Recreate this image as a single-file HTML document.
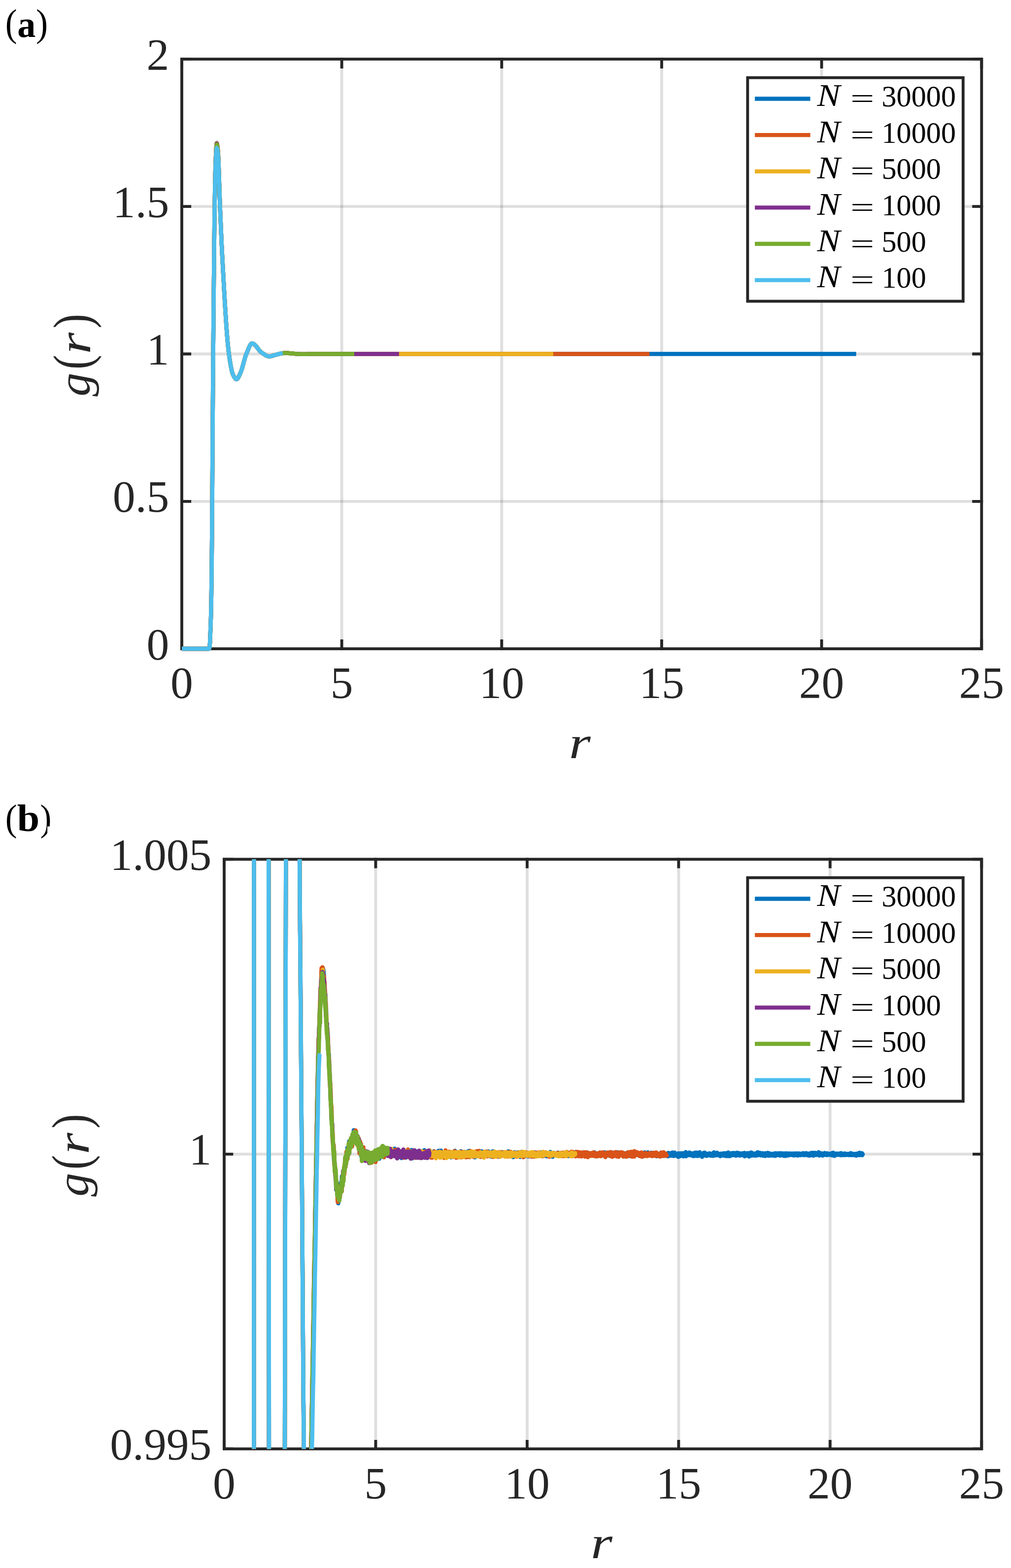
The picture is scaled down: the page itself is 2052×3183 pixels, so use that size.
<!DOCTYPE html>
<html lang="en"><head><meta charset="utf-8"><title>g(r) finite-size comparison</title>
<style>html,body{margin:0;padding:0;background:#fff}svg{display:block}text{font-family:"Liberation Serif",serif;fill:#262626}.i{font-style:italic}.b{font-weight:bold}.k,.k tspan{fill:#000}</style></head><body>
<svg width="2052" height="3183" viewBox="0 0 2052 3183">
<rect width="2052" height="3183" fill="#fff"/>
<g stroke="#262626" stroke-opacity="0.15" stroke-width="5.83" fill="none"><path d="M693.7,120V1317M1018.3,120V1317M1343,120V1317M1667.6,120V1317"/><path d="M369,1017.8H1992.3M369,718.5H1992.3M369,419.2H1992.3"/></g>
<g stroke="#262626" stroke-width="5.83" fill="none" stroke-linecap="square"><path d="M369,1317v-16.2M369,120v16.2M693.7,1317v-16.2M693.7,120v16.2M1018.3,1317v-16.2M1018.3,120v16.2M1343,1317v-16.2M1343,120v16.2M1667.6,1317v-16.2M1667.6,120v16.2M1992.3,1317v-16.2M1992.3,120v16.2M369,1317h16.2M1992.3,1317h-16.2M369,1017.8h16.2M1992.3,1017.8h-16.2M369,718.5h16.2M1992.3,718.5h-16.2M369,419.2h16.2M1992.3,419.2h-16.2M369,120h16.2M1992.3,120h-16.2"/><rect x="369" y="120" width="1623.3" height="1197"/></g>
<path d="M369,1317 369.65,1317 370.3,1317 370.95,1317 371.6,1317 372.25,1317 372.9,1317 373.55,1317 374.19,1317 374.84,1317 375.49,1317 376.14,1317 376.79,1317 377.44,1317 378.09,1317 378.74,1317 379.39,1317 380.04,1317 380.69,1317 381.34,1317 381.99,1317 382.64,1317 383.29,1317 383.93,1317 384.58,1317 385.23,1317 385.88,1317 386.53,1317 387.18,1317 387.83,1317 388.48,1317 389.13,1317 389.78,1317 390.43,1317 391.08,1317 391.73,1317 392.38,1317 393.02,1317 393.67,1317 394.32,1317 394.97,1317 395.62,1317 396.27,1317 396.92,1317 397.57,1317 398.22,1317 398.87,1317 399.52,1317 400.17,1317 400.82,1317 401.47,1317 402.12,1317 402.76,1317 403.41,1317 404.06,1317 404.71,1317 405.36,1317 406.01,1317 406.66,1317 407.31,1317 407.96,1317 408.61,1317 409.26,1317 409.91,1317 410.56,1317 411.21,1317 411.86,1317 412.5,1317 413.15,1317 413.8,1317 414.45,1317 415.1,1317 415.75,1317 416.4,1317 417.05,1317 417.7,1317 418.35,1317 419,1317 419.65,1317 420.3,1317 420.95,1317 421.59,1317 422.24,1317 422.89,1317 423.54,1317 424.19,1317 424.84,1316.03 425.49,1312.52 426.14,1304.45 426.79,1289.01 427.44,1270.59 428.09,1252.29 428.74,1222.75 429.39,1177.33 430.04,1109.36 430.69,1019.13 431.33,917.8 431.98,816.52 432.63,726.46 433.28,650 433.93,578.82 434.58,512.76 435.23,449.13 435.88,403.62 436.53,368.64 437.18,340.8 437.83,321.69 438.48,307.93 439.13,296.7 439.78,290.53 440,290.03 440.43,290.78 441.07,294.38 441.72,300.04 442.37,306.73 443.02,316.76 443.67,331.99 444.32,350.71 444.97,371.23 445.62,391.86 446.27,410.87 446.92,427.14 447.57,442.83 448.22,458.26 448.87,473.29 449.52,487.75 450.17,501.49 450.81,514.34 451.46,526.36 452.11,538.27 452.76,550.15 453.41,561.94 454.06,573.63 454.71,585.16 455.36,596.52 456.01,607.66 456.66,618.55 457.31,629.16 457.96,639.45 458.61,649.38 459.26,658.93 459.9,668.06 460.55,676.74 461.2,684.92 461.85,692.58 462.5,699.68 463.15,706.2 463.8,712.08 464.45,717.3 465.1,721.99 465.75,726.5 466.4,730.84 467.05,734.98 467.7,738.91 468.35,742.6 469,746.05 469.64,749.22 470.29,752.11 470.94,754.69 471.59,756.94 472.24,758.85 472.89,760.39 473.54,761.74 474.19,763.05 474.84,764.3 475.49,765.47 476.14,766.55 476.79,767.52 477.44,768.35 478.09,769.03 478.74,769.54 479.38,769.86 480.03,769.97 480.68,769.83 481.33,769.42 481.98,768.77 482.63,767.92 483.28,766.89 483.93,765.72 484.58,764.44 485.23,763.08 485.88,761.66 486.53,760.22 487.18,758.79 487.83,757.4 488.47,755.94 489.12,754.3 489.77,752.48 490.42,750.52 491.07,748.44 491.72,746.25 492.37,743.98 493.02,741.65 493.67,739.29 494.32,736.9 494.97,734.52 495.62,732.17 496.27,729.86 496.92,727.62 497.57,725.47 498.21,723.43 498.86,721.53 499.51,719.78 500.16,718.19 500.81,716.63 501.46,715.03 502.11,713.39 502.76,711.75 503.41,710.11 504.06,708.49 504.71,706.91 505.36,705.39 506.01,703.95 506.66,702.59 507.31,701.34 507.95,700.22 508.6,699.24 509.25,698.41 509.9,697.76 510.55,697.3 511.2,697.06 511.85,697.02 512.5,697.1 513.15,697.28 513.8,697.53 514.45,697.86 515.1,698.26 515.75,698.73 516.4,699.26 517.04,699.84 517.69,700.48 518.34,701.16 518.99,701.88 519.64,702.63 520.29,703.42 520.94,704.22 521.59,705.05 522.24,705.89 522.89,706.73 523.54,707.58 524.19,708.42 524.84,709.26 525.49,710.08 526.14,710.88 526.78,711.66 527.43,712.41 528.08,713.12 528.73,713.79 529.38,714.42 530.03,714.99 530.68,715.51 531.33,715.98 531.98,716.42 532.63,716.84 533.28,717.25 533.93,717.66 534.58,718.06 535.23,718.48 535.88,718.92 536.52,719.39 537.17,719.86 537.82,720.32 538.47,720.75 539.12,721.14 539.77,721.46 540.42,721.74 541.07,722.02 541.72,722.3 542.37,722.56 543.02,722.81 543.67,723.03 544.32,723.22 544.97,723.37 545.62,723.47 546.26,723.52 546.91,723.52 547.56,723.48 548.21,723.4 548.86,723.29 549.51,723.15 550.16,723 550.81,722.82 551.46,722.63 552.11,722.44 552.76,722.24 553.41,722.04 554.06,721.85 554.71,721.66 555.35,721.49 556,721.33 556.65,721.16 557.3,720.99 557.95,720.81 558.6,720.64 559.25,720.46 559.9,720.28 560.55,720.09 561.2,719.91 561.85,719.73 562.5,719.55 563.15,719.37 563.8,719.19 564.45,719.01 565.09,718.84 565.74,718.67 566.39,718.5 567.04,718.33 567.69,718.15 568.34,717.98 568.99,717.81 569.64,717.66 570.29,717.53 570.94,717.44 571.59,717.34 572.24,717.25 572.89,717.16 573.54,717.07 574.19,716.99 574.83,716.92 575.48,716.85 576.13,716.78 576.78,716.73 577.43,716.68 578.08,716.65 578.73,716.62 579.38,716.61 580.03,716.61 580.68,716.62 581.33,716.64 581.98,716.67 582.63,716.7 583.28,716.74 583.92,716.78 584.57,716.82 585.22,716.86 585.87,716.91 586.52,716.95 587.17,716.99 587.82,717.04 588.47,717.1 589.12,717.15 589.77,717.21 590.42,717.27 591.07,717.32 591.72,717.38 592.37,717.44 593.02,717.5 593.66,717.56 594.31,717.62 594.96,717.69 595.61,717.75 596.26,717.82 596.91,717.88 597.56,717.95 598.21,718.02 598.86,718.08 599.51,718.14 600.16,718.2 600.81,718.26 601.46,718.32 602.11,718.37 602.76,718.42 603.4,718.46 604.05,718.5 604.7,718.54 605.35,718.58 606,718.62 606.65,718.65 607.3,718.69 607.95,718.73 608.6,718.76 609.25,718.8 609.9,718.83 610.55,718.85 611.2,718.87 611.85,718.89 612.5,718.91 613.14,718.92 613.79,718.92 614.44,718.92 615.09,718.91 615.74,718.91 616.39,718.9 617.04,718.89 617.69,718.88 618.34,718.87 618.99,718.86 619.64,718.84 620.29,718.83 620.94,718.81 621.59,718.8 622.23,718.78 622.88,718.76 623.53,718.74 624.18,718.72 624.83,718.7 625.48,718.68 626.13,718.66 626.78,718.64 627.43,718.63 628.08,718.61 628.73,718.59 629.38,718.57 630.03,718.56 630.68,718.54 631.33,718.53 631.97,718.52 632.62,718.51 633.27,718.5 633.92,718.49 634.57,718.48 635.22,718.46 635.87,718.45 636.52,718.44 637.17,718.43 637.82,718.42 638.47,718.41 639.12,718.4 639.77,718.4 640.42,718.39 641.07,718.38 641.71,718.37 642.36,718.36 643.01,718.35 643.66,718.35 644.31,718.34 644.96,718.34 645.61,718.33 646.26,718.33 646.91,718.33 647.56,718.33 648.21,718.33 648.86,718.33 649.51,718.33 650.16,718.33 650.8,718.34 651.45,718.34 652.1,718.34 652.75,718.35 653.4,718.36 654.05,718.36 654.7,718.37 655.35,718.38 656,718.38 656.65,718.39 657.3,718.4 657.95,718.41 658.6,718.42 659.25,718.43 659.9,718.43 660.54,718.44 661.19,718.45 661.84,718.46 662.49,718.46 663.14,718.47 663.79,718.48 664.44,718.48 665.09,718.49 665.74,718.49 666.39,718.5 667.04,718.5 667.69,718.5 668.34,718.51 668.99,718.51 669.64,718.51 670.28,718.51 670.93,718.51 671.58,718.52 672.23,718.52 672.88,718.52 673.53,718.52 674.18,718.53 674.83,718.53 675.48,718.53 676.13,718.53 676.78,718.53 677.43,718.53 678.08,718.53 678.73,718.54 679.37,718.54 680.02,718.54 680.67,718.54 681.32,718.54 681.97,718.54 682.62,718.54 683.27,718.54 683.92,718.54 684.57,718.54 685.22,718.54 685.87,718.54 686.52,718.53 687.17,718.53 687.82,718.53 688.47,718.53 689.11,718.53 689.76,718.53 690.41,718.52 691.06,718.52 691.71,718.52 692.36,718.52 693.01,718.52 693.66,718.51 694.31,718.51 694.96,718.51 695.61,718.51 696.26,718.51 696.91,718.5 697.56,718.5 698.21,718.5 698.85,718.5 699.5,718.5 700.15,718.5 700.8,718.5 701.45,718.49 702.1,718.49 702.75,718.49 703.4,718.49 704.05,718.49 704.7,718.48 705.35,718.48 706,718.48 706.65,718.48 707.3,718.48 707.95,718.48 708.59,718.48 709.24,718.48 709.89,718.47 710.54,718.47 711.19,718.47 711.84,718.47 712.49,718.47 713.14,718.47 713.79,718.47 714.44,718.47 715.09,718.47 715.74,718.47 716.39,718.47 717.04,718.47 717.68,718.48 718.33,718.48 718.98,718.48 719.63,718.48 720.28,718.48 720.93,718.48 721.58,718.48 722.23,718.48 722.88,718.48 723.53,718.48 724.18,718.48 724.83,718.48 725.48,718.48 726.13,718.48 726.78,718.48 727.42,718.48 728.07,718.48 728.72,718.49 729.37,718.49 730.02,718.49 730.67,718.49 731.32,718.49 731.97,718.49 732.62,718.49 733.27,718.49 733.92,718.49 734.57,718.49 735.22,718.49 735.87,718.49 736.52,718.5 737.16,718.5 737.81,718.5 738.46,718.5 739.11,718.5 739.76,718.5 740.41,718.5 741.06,718.5 741.71,718.5 742.36,718.5 743.01,718.5 743.66,718.5 744.31,718.5 744.96,718.5 745.61,718.5 746.25,718.5 746.9,718.5 747.55,718.5 748.2,718.5 748.85,718.5 749.5,718.5 750.15,718.5 750.8,718.5 751.45,718.5 752.1,718.5 752.75,718.5 753.4,718.5 754.05,718.5 754.7,718.5 755.35,718.5 755.99,718.5 756.64,718.5 757.29,718.5 757.94,718.5 758.59,718.5 759.24,718.5 759.89,718.5 760.54,718.5 761.19,718.5 761.84,718.5 762.49,718.5 763.14,718.5 763.79,718.5 764.44,718.5 765.09,718.5 765.73,718.5 766.38,718.5 767.03,718.5 767.68,718.5 768.33,718.5 768.98,718.5 769.63,718.5 770.28,718.5 770.93,718.5 771.58,718.5 772.23,718.5 772.88,718.5 773.53,718.5 774.18,718.5 774.83,718.5 775.47,718.5 776.12,718.5 776.77,718.5 777.42,718.5 778.07,718.5 778.72,718.5 779.37,718.5 780.02,718.5 780.67,718.5 781.32,718.5 781.97,718.5 782.62,718.5 783.27,718.5 783.92,718.5 784.56,718.5 785.21,718.5 785.86,718.5 786.51,718.5 787.16,718.5 787.81,718.5 788.46,718.5 789.11,718.5 789.76,718.5 790.41,718.5 791.06,718.5 791.71,718.5 792.36,718.5 793.01,718.5 793.66,718.5 794.3,718.5 794.95,718.5 795.6,718.5 796.25,718.5 796.9,718.5 797.55,718.5 798.2,718.5 798.85,718.5 799.5,718.5 800.15,718.5 800.8,718.5 801.45,718.5 802.1,718.5 802.75,718.5 803.4,718.5 804.04,718.5 804.69,718.5 805.34,718.5 805.99,718.5 806.64,718.5 807.29,718.5 807.94,718.5 808.59,718.5 809.24,718.5 809.89,718.5 810.54,718.5 811.19,718.5 811.84,718.5 812.49,718.5 813.13,718.5 813.78,718.5 814.43,718.5 815.08,718.5 815.73,718.5 816.38,718.5 817.03,718.5 817.68,718.5 818.33,718.5 818.98,718.5 819.63,718.5 820.28,718.5 820.93,718.5 821.58,718.5 822.23,718.5 822.87,718.5 823.52,718.5 824.17,718.5 824.82,718.5 825.47,718.5 826.12,718.5 826.77,718.5 827.42,718.5 828.07,718.5 828.72,718.5 829.37,718.5 830.02,718.5 830.67,718.5 831.32,718.5 831.97,718.5 832.61,718.5 833.26,718.5 833.91,718.5 834.56,718.5 835.21,718.5 835.86,718.5 836.51,718.5 837.16,718.5 837.81,718.5 838.46,718.5 839.11,718.5 839.76,718.5 840.41,718.5 841.06,718.5 841.7,718.5 842.35,718.5 843,718.5 843.65,718.5 844.3,718.5 844.95,718.5 845.6,718.5 846.25,718.5 846.9,718.5 847.55,718.5 848.2,718.5 848.85,718.5 849.5,718.5 850.15,718.5 850.8,718.5 851.44,718.5 852.09,718.5 852.74,718.5 853.39,718.5 854.04,718.5 854.69,718.5 855.34,718.5 855.99,718.5 856.64,718.5 857.29,718.5 857.94,718.5 858.59,718.5 859.24,718.5 859.89,718.5 860.54,718.5 861.18,718.5 861.83,718.5 862.48,718.5 863.13,718.5 863.78,718.5 864.43,718.5 865.08,718.5 865.73,718.5 866.38,718.5 867.03,718.5 867.68,718.5 868.33,718.5 868.98,718.5 869.63,718.5 870.28,718.5 870.92,718.5 871.57,718.5 872.22,718.5 872.87,718.5 873.52,718.5 874.17,718.5 874.82,718.5 875.47,718.5 876.12,718.5 876.77,718.5 877.42,718.5 878.07,718.5 878.72,718.5 879.37,718.5 880.01,718.5 880.66,718.5 881.31,718.5 881.96,718.5 882.61,718.5 883.26,718.5 883.91,718.5 884.56,718.5 885.21,718.5 885.86,718.5 886.51,718.5 887.16,718.5 887.81,718.5 888.46,718.5 889.11,718.5 889.75,718.5 890.4,718.5 891.05,718.5 891.7,718.5 892.35,718.5 893,718.5 893.65,718.5 894.3,718.5 894.95,718.5 895.6,718.5 896.25,718.5 896.9,718.5 897.55,718.5 898.2,718.5 898.85,718.5 899.49,718.5 900.14,718.5 900.79,718.5 901.44,718.5 902.09,718.5 902.74,718.5 903.39,718.5 904.04,718.5 904.69,718.5 905.34,718.5 905.99,718.5 906.64,718.5 907.29,718.5 907.94,718.5 908.58,718.5 909.23,718.5 909.88,718.5 910.53,718.5 911.18,718.5 911.83,718.5 912.48,718.5 913.13,718.5 913.78,718.5 914.43,718.5 915.08,718.5 915.73,718.5 916.38,718.5 917.03,718.5 917.68,718.5 918.32,718.5 918.97,718.5 919.62,718.5 920.27,718.5 920.92,718.5 921.57,718.5 922.22,718.5 922.87,718.5 923.52,718.5 924.17,718.5 924.82,718.5 925.47,718.5 926.12,718.5 926.77,718.5 927.42,718.5 928.06,718.5 928.71,718.5 929.36,718.5 930.01,718.5 930.66,718.5 931.31,718.5 931.96,718.5 932.61,718.5 933.26,718.5 933.91,718.5 934.56,718.5 935.21,718.5 935.86,718.5 936.51,718.5 937.15,718.5 937.8,718.5 938.45,718.5 939.1,718.5 939.75,718.5 940.4,718.5 941.05,718.5 941.7,718.5 942.35,718.5 943,718.5 943.65,718.5 944.3,718.5 944.95,718.5 945.6,718.5 946.25,718.5 946.89,718.5 947.54,718.5 948.19,718.5 948.84,718.5 949.49,718.5 950.14,718.5 950.79,718.5 951.44,718.5 952.09,718.5 952.74,718.5 953.39,718.5 954.04,718.5 954.69,718.5 955.34,718.5 955.99,718.5 956.63,718.5 957.28,718.5 957.93,718.5 958.58,718.5 959.23,718.5 959.88,718.5 960.53,718.5 961.18,718.5 961.83,718.5 962.48,718.5 963.13,718.5 963.78,718.5 964.43,718.5 965.08,718.5 965.73,718.5 966.37,718.5 967.02,718.5 967.67,718.5 968.32,718.5 968.97,718.5 969.62,718.5 970.27,718.5 970.92,718.5 971.57,718.5 972.22,718.5 972.87,718.5 973.52,718.5 974.17,718.5 974.82,718.5 975.46,718.5 976.11,718.5 976.76,718.5 977.41,718.5 978.06,718.5 978.71,718.5 979.36,718.5 980.01,718.5 980.66,718.5 981.31,718.5 981.96,718.5 982.61,718.5 983.26,718.5 983.91,718.5 984.56,718.5 985.2,718.5 985.85,718.5 986.5,718.5 987.15,718.5 987.8,718.5 988.45,718.5 989.1,718.5 989.75,718.5 990.4,718.5 991.05,718.5 991.7,718.5 992.35,718.5 993,718.5 993.65,718.5 994.3,718.5 994.94,718.5 995.59,718.5 996.24,718.5 996.89,718.5 997.54,718.5 998.19,718.5 998.84,718.5 999.49,718.5 1000.14,718.5 1000.79,718.5 1001.44,718.5 1002.09,718.5 1002.74,718.5 1003.39,718.5 1004.03,718.5 1004.68,718.5 1005.33,718.5 1005.98,718.5 1006.63,718.5 1007.28,718.5 1007.93,718.5 1008.58,718.5 1009.23,718.5 1009.88,718.5 1010.53,718.5 1011.18,718.5 1011.83,718.5 1012.48,718.5 1013.13,718.5 1013.77,718.5 1014.42,718.5 1015.07,718.5 1015.72,718.5 1016.37,718.5 1017.02,718.5 1017.67,718.5 1018.32,718.5 1018.97,718.5 1019.62,718.5 1020.27,718.5 1020.92,718.5 1021.57,718.5 1022.22,718.5 1022.87,718.5 1023.51,718.5 1024.16,718.5 1024.81,718.5 1025.46,718.5 1026.11,718.5 1026.76,718.5 1027.41,718.5 1028.06,718.5 1028.71,718.5 1029.36,718.5 1030.01,718.5 1030.66,718.5 1031.31,718.5 1031.96,718.5 1032.61,718.5 1033.25,718.5 1033.9,718.5 1034.55,718.5 1035.2,718.5 1035.85,718.5 1036.5,718.5 1037.15,718.5 1037.8,718.5 1038.45,718.5 1039.1,718.5 1039.75,718.5 1040.4,718.5 1041.05,718.5 1041.7,718.5 1042.34,718.5 1042.99,718.5 1043.64,718.5 1044.29,718.5 1044.94,718.5 1045.59,718.5 1046.24,718.5 1046.89,718.5 1047.54,718.5 1048.19,718.5 1048.84,718.5 1049.49,718.5 1050.14,718.5 1050.79,718.5 1051.44,718.5 1052.08,718.5 1052.73,718.5 1053.38,718.5 1054.03,718.5 1054.68,718.5 1055.33,718.5 1055.98,718.5 1056.63,718.5 1057.28,718.5 1057.93,718.5 1058.58,718.5 1059.23,718.5 1059.88,718.5 1060.53,718.5 1061.18,718.5 1061.82,718.5 1062.47,718.5 1063.12,718.5 1063.77,718.5 1064.42,718.5 1065.07,718.5 1065.72,718.5 1066.37,718.5 1067.02,718.5 1067.67,718.5 1068.32,718.5 1068.97,718.5 1069.62,718.5 1070.27,718.5 1070.91,718.5 1071.56,718.5 1072.21,718.5 1072.86,718.5 1073.51,718.5 1074.16,718.5 1074.81,718.5 1075.46,718.5 1076.11,718.5 1076.76,718.5 1077.41,718.5 1078.06,718.5 1078.71,718.5 1079.36,718.5 1080.01,718.5 1080.65,718.5 1081.3,718.5 1081.95,718.5 1082.6,718.5 1083.25,718.5 1083.9,718.5 1084.55,718.5 1085.2,718.5 1085.85,718.5 1086.5,718.5 1087.15,718.5 1087.8,718.5 1088.45,718.5 1089.1,718.5 1089.75,718.5 1090.39,718.5 1091.04,718.5 1091.69,718.5 1092.34,718.5 1092.99,718.5 1093.64,718.5 1094.29,718.5 1094.94,718.5 1095.59,718.5 1096.24,718.5 1096.89,718.5 1097.54,718.5 1098.19,718.5 1098.84,718.5 1099.49,718.5 1100.13,718.5 1100.78,718.5 1101.43,718.5 1102.08,718.5 1102.73,718.5 1103.38,718.5 1104.03,718.5 1104.68,718.5 1105.33,718.5 1105.98,718.5 1106.63,718.5 1107.28,718.5 1107.93,718.5 1108.58,718.5 1109.22,718.5 1109.87,718.5 1110.52,718.5 1111.17,718.5 1111.82,718.5 1112.47,718.5 1113.12,718.5 1113.77,718.5 1114.42,718.5 1115.07,718.5 1115.72,718.5 1116.37,718.5 1117.02,718.5 1117.67,718.5 1118.32,718.5 1118.96,718.5 1119.61,718.5 1120.26,718.5 1120.91,718.5 1121.56,718.5 1122.21,718.5 1122.86,718.5 1123.51,718.5 1124.16,718.5 1124.81,718.5 1125.46,718.5 1126.11,718.5 1126.76,718.5 1127.41,718.5 1128.06,718.5 1128.7,718.5 1129.35,718.5 1130,718.5 1130.65,718.5 1131.3,718.5 1131.95,718.5 1132.6,718.5 1133.25,718.5 1133.9,718.5 1134.55,718.5 1135.2,718.5 1135.85,718.5 1136.5,718.5 1137.15,718.5 1137.79,718.5 1138.44,718.5 1139.09,718.5 1139.74,718.5 1140.39,718.5 1141.04,718.5 1141.69,718.5 1142.34,718.5 1142.99,718.5 1143.64,718.5 1144.29,718.5 1144.94,718.5 1145.59,718.5 1146.24,718.5 1146.89,718.5 1147.53,718.5 1148.18,718.5 1148.83,718.5 1149.48,718.5 1150.13,718.5 1150.78,718.5 1151.43,718.5 1152.08,718.5 1152.73,718.5 1153.38,718.5 1154.03,718.5 1154.68,718.5 1155.33,718.5 1155.98,718.5 1156.63,718.5 1157.27,718.5 1157.92,718.5 1158.57,718.5 1159.22,718.5 1159.87,718.5 1160.52,718.5 1161.17,718.5 1161.82,718.5 1162.47,718.5 1163.12,718.5 1163.77,718.5 1164.42,718.5 1165.07,718.5 1165.72,718.5 1166.36,718.5 1167.01,718.5 1167.66,718.5 1168.31,718.5 1168.96,718.5 1169.61,718.5 1170.26,718.5 1170.91,718.5 1171.56,718.5 1172.21,718.5 1172.86,718.5 1173.51,718.5 1174.16,718.5 1174.81,718.5 1175.46,718.5 1176.1,718.5 1176.75,718.5 1177.4,718.5 1178.05,718.5 1178.7,718.5 1179.35,718.5 1180,718.5 1180.65,718.5 1181.3,718.5 1181.95,718.5 1182.6,718.5 1183.25,718.5 1183.9,718.5 1184.55,718.5 1185.2,718.5 1185.84,718.5 1186.49,718.5 1187.14,718.5 1187.79,718.5 1188.44,718.5 1189.09,718.5 1189.74,718.5 1190.39,718.5 1191.04,718.5 1191.69,718.5 1192.34,718.5 1192.99,718.5 1193.64,718.5 1194.29,718.5 1194.94,718.5 1195.58,718.5 1196.23,718.5 1196.88,718.5 1197.53,718.5 1198.18,718.5 1198.83,718.5 1199.48,718.5 1200.13,718.5 1200.78,718.5 1201.43,718.5 1202.08,718.5 1202.73,718.5 1203.38,718.5 1204.03,718.5 1204.67,718.5 1205.32,718.5 1205.97,718.5 1206.62,718.5 1207.27,718.5 1207.92,718.5 1208.57,718.5 1209.22,718.5 1209.87,718.5 1210.52,718.5 1211.17,718.5 1211.82,718.5 1212.47,718.5 1213.12,718.5 1213.77,718.5 1214.41,718.5 1215.06,718.5 1215.71,718.5 1216.36,718.5 1217.01,718.5 1217.66,718.5 1218.31,718.5 1218.96,718.5 1219.61,718.5 1220.26,718.5 1220.91,718.5 1221.56,718.5 1222.21,718.5 1222.86,718.5 1223.51,718.5 1224.15,718.5 1224.8,718.5 1225.45,718.5 1226.1,718.5 1226.75,718.5 1227.4,718.5 1228.05,718.5 1228.7,718.5 1229.35,718.5 1230,718.5 1230.65,718.5 1231.3,718.5 1231.95,718.5 1232.6,718.5 1233.24,718.5 1233.89,718.5 1234.54,718.5 1235.19,718.5 1235.84,718.5 1236.49,718.5 1237.14,718.5 1237.79,718.5 1238.44,718.5 1239.09,718.5 1239.74,718.5 1240.39,718.5 1241.04,718.5 1241.69,718.5 1242.34,718.5 1242.98,718.5 1243.63,718.5 1244.28,718.5 1244.93,718.5 1245.58,718.5 1246.23,718.5 1246.88,718.5 1247.53,718.5 1248.18,718.5 1248.83,718.5 1249.48,718.5 1250.13,718.5 1250.78,718.5 1251.43,718.5 1252.08,718.5 1252.72,718.5 1253.37,718.5 1254.02,718.5 1254.67,718.5 1255.32,718.5 1255.97,718.5 1256.62,718.5 1257.27,718.5 1257.92,718.5 1258.57,718.5 1259.22,718.5 1259.87,718.5 1260.52,718.5 1261.17,718.5 1261.82,718.5 1262.46,718.5 1263.11,718.5 1263.76,718.5 1264.41,718.5 1265.06,718.5 1265.71,718.5 1266.36,718.5 1267.01,718.5 1267.66,718.5 1268.31,718.5 1268.96,718.5 1269.61,718.5 1270.26,718.5 1270.91,718.5 1271.55,718.5 1272.2,718.5 1272.85,718.5 1273.5,718.5 1274.15,718.5 1274.8,718.5 1275.45,718.5 1276.1,718.5 1276.75,718.5 1277.4,718.5 1278.05,718.5 1278.7,718.5 1279.35,718.5 1280,718.5 1280.65,718.5 1281.29,718.5 1281.94,718.5 1282.59,718.5 1283.24,718.5 1283.89,718.5 1284.54,718.5 1285.19,718.5 1285.84,718.5 1286.49,718.5 1287.14,718.5 1287.79,718.5 1288.44,718.5 1289.09,718.5 1289.74,718.5 1290.39,718.5 1291.03,718.5 1291.68,718.5 1292.33,718.5 1292.98,718.5 1293.63,718.5 1294.28,718.5 1294.93,718.5 1295.58,718.5 1296.23,718.5 1296.88,718.5 1297.53,718.5 1298.18,718.5 1298.83,718.5 1299.48,718.5 1300.12,718.5 1300.77,718.5 1301.42,718.5 1302.07,718.5 1302.72,718.5 1303.37,718.5 1304.02,718.5 1304.67,718.5 1305.32,718.5 1305.97,718.5 1306.62,718.5 1307.27,718.5 1307.92,718.5 1308.57,718.5 1309.22,718.5 1309.86,718.5 1310.51,718.5 1311.16,718.5 1311.81,718.5 1312.46,718.5 1313.11,718.5 1313.76,718.5 1314.41,718.5 1315.06,718.5 1315.71,718.5 1316.36,718.5 1317.01,718.5 1317.66,718.5 1318.31,718.5 1318.96,718.5 1319.6,718.5 1320.25,718.5 1320.9,718.5 1321.55,718.5 1322.2,718.5 1322.85,718.5 1323.5,718.5 1324.15,718.5 1324.8,718.5 1325.45,718.5 1326.1,718.5 1326.75,718.5 1327.4,718.5 1328.05,718.5 1328.69,718.5 1329.34,718.5 1329.99,718.5 1330.64,718.5 1331.29,718.5 1331.94,718.5 1332.59,718.5 1333.24,718.5 1333.89,718.5 1334.54,718.5 1335.19,718.5 1335.84,718.5 1336.49,718.5 1337.14,718.5 1337.79,718.5 1338.43,718.5 1339.08,718.5 1339.73,718.5 1340.38,718.5 1341.03,718.5 1341.68,718.5 1342.33,718.5 1342.98,718.5 1343.63,718.5 1344.28,718.5 1344.93,718.5 1345.58,718.5 1346.23,718.5 1346.88,718.5 1347.53,718.5 1348.17,718.5 1348.82,718.5 1349.47,718.5 1350.12,718.5 1350.77,718.5 1351.42,718.5 1352.07,718.5 1352.72,718.5 1353.37,718.5 1354.02,718.5 1354.67,718.5 1355.32,718.5 1355.97,718.5 1356.62,718.5 1357.27,718.5 1357.91,718.5 1358.56,718.5 1359.21,718.5 1359.86,718.5 1360.51,718.5 1361.16,718.5 1361.81,718.5 1362.46,718.5 1363.11,718.5 1363.76,718.5 1364.41,718.5 1365.06,718.5 1365.71,718.5 1366.36,718.5 1367,718.5 1367.65,718.5 1368.3,718.5 1368.95,718.5 1369.6,718.5 1370.25,718.5 1370.9,718.5 1371.55,718.5 1372.2,718.5 1372.85,718.5 1373.5,718.5 1374.15,718.5 1374.8,718.5 1375.45,718.5 1376.1,718.5 1376.74,718.5 1377.39,718.5 1378.04,718.5 1378.69,718.5 1379.34,718.5 1379.99,718.5 1380.64,718.5 1381.29,718.5 1381.94,718.5 1382.59,718.5 1383.24,718.5 1383.89,718.5 1384.54,718.5 1385.19,718.5 1385.84,718.5 1386.48,718.5 1387.13,718.5 1387.78,718.5 1388.43,718.5 1389.08,718.5 1389.73,718.5 1390.38,718.5 1391.03,718.5 1391.68,718.5 1392.33,718.5 1392.98,718.5 1393.63,718.5 1394.28,718.5 1394.93,718.5 1395.57,718.5 1396.22,718.5 1396.87,718.5 1397.52,718.5 1398.17,718.5 1398.82,718.5 1399.47,718.5 1400.12,718.5 1400.77,718.5 1401.42,718.5 1402.07,718.5 1402.72,718.5 1403.37,718.5 1404.02,718.5 1404.67,718.5 1405.31,718.5 1405.96,718.5 1406.61,718.5 1407.26,718.5 1407.91,718.5 1408.56,718.5 1409.21,718.5 1409.86,718.5 1410.51,718.5 1411.16,718.5 1411.81,718.5 1412.46,718.5 1413.11,718.5 1413.76,718.5 1414.41,718.5 1415.05,718.5 1415.7,718.5 1416.35,718.5 1417,718.5 1417.65,718.5 1418.3,718.5 1418.95,718.5 1419.6,718.5 1420.25,718.5 1420.9,718.5 1421.55,718.5 1422.2,718.5 1422.85,718.5 1423.5,718.5 1424.14,718.5 1424.79,718.5 1425.44,718.5 1426.09,718.5 1426.74,718.5 1427.39,718.5 1428.04,718.5 1428.69,718.5 1429.34,718.5 1429.99,718.5 1430.64,718.5 1431.29,718.5 1431.94,718.5 1432.59,718.5 1433.24,718.5 1433.88,718.5 1434.53,718.5 1435.18,718.5 1435.83,718.5 1436.48,718.5 1437.13,718.5 1437.78,718.5 1438.43,718.5 1439.08,718.5 1439.73,718.5 1440.38,718.5 1441.03,718.5 1441.68,718.5 1442.33,718.5 1442.98,718.5 1443.62,718.5 1444.27,718.5 1444.92,718.5 1445.57,718.5 1446.22,718.5 1446.87,718.5 1447.52,718.5 1448.17,718.5 1448.82,718.5 1449.47,718.5 1450.12,718.5 1450.77,718.5 1451.42,718.5 1452.07,718.5 1452.72,718.5 1453.36,718.5 1454.01,718.5 1454.66,718.5 1455.31,718.5 1455.96,718.5 1456.61,718.5 1457.26,718.5 1457.91,718.5 1458.56,718.5 1459.21,718.5 1459.86,718.5 1460.51,718.5 1461.16,718.5 1461.81,718.5 1462.45,718.5 1463.1,718.5 1463.75,718.5 1464.4,718.5 1465.05,718.5 1465.7,718.5 1466.35,718.5 1467,718.5 1467.65,718.5 1468.3,718.5 1468.95,718.5 1469.6,718.5 1470.25,718.5 1470.9,718.5 1471.55,718.5 1472.19,718.5 1472.84,718.5 1473.49,718.5 1474.14,718.5 1474.79,718.5 1475.44,718.5 1476.09,718.5 1476.74,718.5 1477.39,718.5 1478.04,718.5 1478.69,718.5 1479.34,718.5 1479.99,718.5 1480.64,718.5 1481.29,718.5 1481.93,718.5 1482.58,718.5 1483.23,718.5 1483.88,718.5 1484.53,718.5 1485.18,718.5 1485.83,718.5 1486.48,718.5 1487.13,718.5 1487.78,718.5 1488.43,718.5 1489.08,718.5 1489.73,718.5 1490.38,718.5 1491.02,718.5 1491.67,718.5 1492.32,718.5 1492.97,718.5 1493.62,718.5 1494.27,718.5 1494.92,718.5 1495.57,718.5 1496.22,718.5 1496.87,718.5 1497.52,718.5 1498.17,718.5 1498.82,718.5 1499.47,718.5 1500.12,718.5 1500.76,718.5 1501.41,718.5 1502.06,718.5 1502.71,718.5 1503.36,718.5 1504.01,718.5 1504.66,718.5 1505.31,718.5 1505.96,718.5 1506.61,718.5 1507.26,718.5 1507.91,718.5 1508.56,718.5 1509.21,718.5 1509.86,718.5 1510.5,718.5 1511.15,718.5 1511.8,718.5 1512.45,718.5 1513.1,718.5 1513.75,718.5 1514.4,718.5 1515.05,718.5 1515.7,718.5 1516.35,718.5 1517,718.5 1517.65,718.5 1518.3,718.5 1518.95,718.5 1519.6,718.5 1520.24,718.5 1520.89,718.5 1521.54,718.5 1522.19,718.5 1522.84,718.5 1523.49,718.5 1524.14,718.5 1524.79,718.5 1525.44,718.5 1526.09,718.5 1526.74,718.5 1527.39,718.5 1528.04,718.5 1528.69,718.5 1529.33,718.5 1529.98,718.5 1530.63,718.5 1531.28,718.5 1531.93,718.5 1532.58,718.5 1533.23,718.5 1533.88,718.5 1534.53,718.5 1535.18,718.5 1535.83,718.5 1536.48,718.5 1537.13,718.5 1537.78,718.5 1538.43,718.5 1539.07,718.5 1539.72,718.5 1540.37,718.5 1541.02,718.5 1541.67,718.5 1542.32,718.5 1542.97,718.5 1543.62,718.5 1544.27,718.5 1544.92,718.5 1545.57,718.5 1546.22,718.5 1546.87,718.5 1547.52,718.5 1548.17,718.5 1548.81,718.5 1549.46,718.5 1550.11,718.5 1550.76,718.5 1551.41,718.5 1552.06,718.5 1552.71,718.5 1553.36,718.5 1554.01,718.5 1554.66,718.5 1555.31,718.5 1555.96,718.5 1556.61,718.5 1557.26,718.5 1557.9,718.5 1558.55,718.5 1559.2,718.5 1559.85,718.5 1560.5,718.5 1561.15,718.5 1561.8,718.5 1562.45,718.5 1563.1,718.5 1563.75,718.5 1564.4,718.5 1565.05,718.5 1565.7,718.5 1566.35,718.5 1567,718.5 1567.64,718.5 1568.29,718.5 1568.94,718.5 1569.59,718.5 1570.24,718.5 1570.89,718.5 1571.54,718.5 1572.19,718.5 1572.84,718.5 1573.49,718.5 1574.14,718.5 1574.79,718.5 1575.44,718.5 1576.09,718.5 1576.74,718.5 1577.38,718.5 1578.03,718.5 1578.68,718.5 1579.33,718.5 1579.98,718.5 1580.63,718.5 1581.28,718.5 1581.93,718.5 1582.58,718.5 1583.23,718.5 1583.88,718.5 1584.53,718.5 1585.18,718.5 1585.83,718.5 1586.47,718.5 1587.12,718.5 1587.77,718.5 1588.42,718.5 1589.07,718.5 1589.72,718.5 1590.37,718.5 1591.02,718.5 1591.67,718.5 1592.32,718.5 1592.97,718.5 1593.62,718.5 1594.27,718.5 1594.92,718.5 1595.57,718.5 1596.21,718.5 1596.86,718.5 1597.51,718.5 1598.16,718.5 1598.81,718.5 1599.46,718.5 1600.11,718.5 1600.76,718.5 1601.41,718.5 1602.06,718.5 1602.71,718.5 1603.36,718.5 1604.01,718.5 1604.66,718.5 1605.31,718.5 1605.95,718.5 1606.6,718.5 1607.25,718.5 1607.9,718.5 1608.55,718.5 1609.2,718.5 1609.85,718.5 1610.5,718.5 1611.15,718.5 1611.8,718.5 1612.45,718.5 1613.1,718.5 1613.75,718.5 1614.4,718.5 1615.05,718.5 1615.69,718.5 1616.34,718.5 1616.99,718.5 1617.64,718.5 1618.29,718.5 1618.94,718.5 1619.59,718.5 1620.24,718.5 1620.89,718.5 1621.54,718.5 1622.19,718.5 1622.84,718.5 1623.49,718.5 1624.14,718.5 1624.78,718.5 1625.43,718.5 1626.08,718.5 1626.73,718.5 1627.38,718.5 1628.03,718.5 1628.68,718.5 1629.33,718.5 1629.98,718.5 1630.63,718.5 1631.28,718.5 1631.93,718.5 1632.58,718.5 1633.23,718.5 1633.88,718.5 1634.52,718.5 1635.17,718.5 1635.82,718.5 1636.47,718.5 1637.12,718.5 1637.77,718.5 1638.42,718.5 1639.07,718.5 1639.72,718.5 1640.37,718.5 1641.02,718.5 1641.67,718.5 1642.32,718.5 1642.97,718.5 1643.62,718.5 1644.26,718.5 1644.91,718.5 1645.56,718.5 1646.21,718.5 1646.86,718.5 1647.51,718.5 1648.16,718.5 1648.81,718.5 1649.46,718.5 1650.11,718.5 1650.76,718.5 1651.41,718.5 1652.06,718.5 1652.71,718.5 1653.35,718.5 1654,718.5 1654.65,718.5 1655.3,718.5 1655.95,718.5 1656.6,718.5 1657.25,718.5 1657.9,718.5 1658.55,718.5 1659.2,718.5 1659.85,718.5 1660.5,718.5 1661.15,718.5 1661.8,718.5 1662.45,718.5 1663.09,718.5 1663.74,718.5 1664.39,718.5 1665.04,718.5 1665.69,718.5 1666.34,718.5 1666.99,718.5 1667.64,718.5 1668.29,718.5 1668.94,718.5 1669.59,718.5 1670.24,718.5 1670.89,718.5 1671.54,718.5 1672.19,718.5 1672.83,718.5 1673.48,718.5 1674.13,718.5 1674.78,718.5 1675.43,718.5 1676.08,718.5 1676.73,718.5 1677.38,718.5 1678.03,718.5 1678.68,718.5 1679.33,718.5 1679.98,718.5 1680.63,718.5 1681.28,718.5 1681.93,718.5 1682.57,718.5 1683.22,718.5 1683.87,718.5 1684.52,718.5 1685.17,718.5 1685.82,718.5 1686.47,718.5 1687.12,718.5 1687.77,718.5 1688.42,718.5 1689.07,718.5 1689.72,718.5 1690.37,718.5 1691.02,718.5 1691.66,718.5 1692.31,718.5 1692.96,718.5 1693.61,718.5 1694.26,718.5 1694.91,718.5 1695.56,718.5 1696.21,718.5 1696.86,718.5 1697.51,718.5 1698.16,718.5 1698.81,718.5 1699.46,718.5 1700.11,718.5 1700.76,718.5 1701.4,718.5 1702.05,718.5 1702.7,718.5 1703.35,718.5 1704,718.5 1704.65,718.5 1705.3,718.5 1705.95,718.5 1706.6,718.5 1707.25,718.5 1707.9,718.5 1708.55,718.5 1709.2,718.5 1709.85,718.5 1710.5,718.5 1711.14,718.5 1711.79,718.5 1712.44,718.5 1713.09,718.5 1713.74,718.5 1714.39,718.5 1715.04,718.5 1715.69,718.5 1716.34,718.5 1716.99,718.5 1717.64,718.5 1718.29,718.5 1718.94,718.5 1719.59,718.5 1720.23,718.5 1720.88,718.5 1721.53,718.5 1722.18,718.5 1722.83,718.5 1723.48,718.5 1724.13,718.5 1724.78,718.5 1725.43,718.5 1726.08,718.5 1726.73,718.5 1727.38,718.5 1728.03,718.5 1728.68,718.5 1729.33,718.5 1729.97,718.5 1730.62,718.5 1731.27,718.5 1731.92,718.5 1732.57,718.5 1733.22,718.5 1733.87,718.5 1734.52,718.5 1735.17,718.5 1735.82,718.5 1736.47,718.5 1737.12,718.5 1737.77,718.5 1737.77,718.5" fill="none" stroke="#0072BD" stroke-width="8.33" stroke-linejoin="round"/>
<path d="M369,1317 369.65,1317 370.3,1317 370.95,1317 371.6,1317 372.25,1317 372.9,1317 373.55,1317 374.19,1317 374.84,1317 375.49,1317 376.14,1317 376.79,1317 377.44,1317 378.09,1317 378.74,1317 379.39,1317 380.04,1317 380.69,1317 381.34,1317 381.99,1317 382.64,1317 383.29,1317 383.93,1317 384.58,1317 385.23,1317 385.88,1317 386.53,1317 387.18,1317 387.83,1317 388.48,1317 389.13,1317 389.78,1317 390.43,1317 391.08,1317 391.73,1317 392.38,1317 393.02,1317 393.67,1317 394.32,1317 394.97,1317 395.62,1317 396.27,1317 396.92,1317 397.57,1317 398.22,1317 398.87,1317 399.52,1317 400.17,1317 400.82,1317 401.47,1317 402.12,1317 402.76,1317 403.41,1317 404.06,1317 404.71,1317 405.36,1317 406.01,1317 406.66,1317 407.31,1317 407.96,1317 408.61,1317 409.26,1317 409.91,1317 410.56,1317 411.21,1317 411.86,1317 412.5,1317 413.15,1317 413.8,1317 414.45,1317 415.1,1317 415.75,1317 416.4,1317 417.05,1317 417.7,1317 418.35,1317 419,1317 419.65,1317 420.3,1317 420.95,1317 421.59,1317 422.24,1317 422.89,1317 423.54,1317 424.19,1317 424.84,1316.03 425.49,1312.52 426.14,1304.45 426.79,1289.01 427.44,1270.59 428.09,1252.29 428.74,1222.75 429.39,1177.33 430.04,1109.36 430.69,1019.13 431.33,917.8 431.98,816.53 432.63,726.46 433.28,650 433.93,578.83 434.58,512.8 435.23,449.19 435.88,403.73 436.53,368.81 437.18,341.05 437.83,322.04 438.48,308.36 439.13,297.2 439.78,291.07 440,290.57 440.43,291.31 441.07,294.86 441.72,300.45 442.37,307.05 443.02,316.99 443.67,332.14 444.32,350.8 444.97,371.29 445.62,391.88 446.27,410.89 446.92,427.14 447.57,442.83 448.22,458.26 448.87,473.29 449.52,487.75 450.17,501.49 450.81,514.34 451.46,526.36 452.11,538.27 452.76,550.15 453.41,561.94 454.06,573.63 454.71,585.16 455.36,596.52 456.01,607.66 456.66,618.55 457.31,629.16 457.96,639.45 458.61,649.38 459.26,658.93 459.9,668.06 460.55,676.74 461.2,684.92 461.85,692.58 462.5,699.68 463.15,706.2 463.8,712.08 464.45,717.3 465.1,721.99 465.75,726.5 466.4,730.84 467.05,734.98 467.7,738.91 468.35,742.6 469,746.05 469.64,749.22 470.29,752.11 470.94,754.69 471.59,756.94 472.24,758.85 472.89,760.39 473.54,761.74 474.19,763.05 474.84,764.3 475.49,765.47 476.14,766.55 476.79,767.52 477.44,768.35 478.09,769.03 478.74,769.54 479.38,769.86 480.03,769.97 480.68,769.83 481.33,769.42 481.98,768.77 482.63,767.92 483.28,766.89 483.93,765.72 484.58,764.44 485.23,763.08 485.88,761.66 486.53,760.22 487.18,758.79 487.83,757.4 488.47,755.94 489.12,754.3 489.77,752.48 490.42,750.52 491.07,748.44 491.72,746.25 492.37,743.98 493.02,741.65 493.67,739.29 494.32,736.9 494.97,734.52 495.62,732.17 496.27,729.86 496.92,727.62 497.57,725.47 498.21,723.43 498.86,721.53 499.51,719.78 500.16,718.19 500.81,716.63 501.46,715.03 502.11,713.39 502.76,711.75 503.41,710.11 504.06,708.49 504.71,706.91 505.36,705.39 506.01,703.95 506.66,702.59 507.31,701.34 507.95,700.22 508.6,699.24 509.25,698.41 509.9,697.76 510.55,697.3 511.2,697.06 511.85,697.02 512.5,697.1 513.15,697.28 513.8,697.53 514.45,697.86 515.1,698.26 515.75,698.73 516.4,699.26 517.04,699.84 517.69,700.48 518.34,701.16 518.99,701.88 519.64,702.63 520.29,703.42 520.94,704.22 521.59,705.05 522.24,705.89 522.89,706.73 523.54,707.58 524.19,708.42 524.84,709.26 525.49,710.08 526.14,710.88 526.78,711.66 527.43,712.41 528.08,713.12 528.73,713.79 529.38,714.42 530.03,714.99 530.68,715.51 531.33,715.98 531.98,716.42 532.63,716.84 533.28,717.25 533.93,717.66 534.58,718.06 535.23,718.48 535.88,718.92 536.52,719.39 537.17,719.86 537.82,720.32 538.47,720.75 539.12,721.14 539.77,721.46 540.42,721.74 541.07,722.02 541.72,722.3 542.37,722.56 543.02,722.81 543.67,723.03 544.32,723.22 544.97,723.37 545.62,723.47 546.26,723.52 546.91,723.52 547.56,723.48 548.21,723.4 548.86,723.29 549.51,723.15 550.16,723 550.81,722.82 551.46,722.63 552.11,722.44 552.76,722.24 553.41,722.04 554.06,721.85 554.71,721.66 555.35,721.49 556,721.33 556.65,721.16 557.3,720.99 557.95,720.81 558.6,720.64 559.25,720.46 559.9,720.28 560.55,720.09 561.2,719.91 561.85,719.73 562.5,719.55 563.15,719.37 563.8,719.19 564.45,719.01 565.09,718.84 565.74,718.67 566.39,718.5 567.04,718.33 567.69,718.15 568.34,717.98 568.99,717.81 569.64,717.66 570.29,717.53 570.94,717.44 571.59,717.34 572.24,717.25 572.89,717.16 573.54,717.07 574.19,716.99 574.83,716.92 575.48,716.85 576.13,716.78 576.78,716.73 577.43,716.68 578.08,716.65 578.73,716.62 579.38,716.61 580.03,716.61 580.68,716.62 581.33,716.64 581.98,716.67 582.63,716.7 583.28,716.74 583.92,716.78 584.57,716.82 585.22,716.86 585.87,716.91 586.52,716.95 587.17,716.99 587.82,717.04 588.47,717.1 589.12,717.15 589.77,717.21 590.42,717.27 591.07,717.32 591.72,717.38 592.37,717.44 593.02,717.5 593.66,717.56 594.31,717.62 594.96,717.69 595.61,717.75 596.26,717.82 596.91,717.88 597.56,717.95 598.21,718.02 598.86,718.08 599.51,718.14 600.16,718.2 600.81,718.26 601.46,718.32 602.11,718.37 602.76,718.42 603.4,718.46 604.05,718.5 604.7,718.54 605.35,718.58 606,718.62 606.65,718.65 607.3,718.69 607.95,718.73 608.6,718.76 609.25,718.8 609.9,718.83 610.55,718.85 611.2,718.87 611.85,718.89 612.5,718.91 613.14,718.92 613.79,718.92 614.44,718.92 615.09,718.91 615.74,718.91 616.39,718.9 617.04,718.89 617.69,718.88 618.34,718.87 618.99,718.86 619.64,718.84 620.29,718.83 620.94,718.81 621.59,718.8 622.23,718.78 622.88,718.76 623.53,718.74 624.18,718.72 624.83,718.7 625.48,718.68 626.13,718.66 626.78,718.64 627.43,718.63 628.08,718.61 628.73,718.59 629.38,718.57 630.03,718.56 630.68,718.54 631.33,718.53 631.97,718.52 632.62,718.51 633.27,718.5 633.92,718.49 634.57,718.48 635.22,718.46 635.87,718.45 636.52,718.44 637.17,718.43 637.82,718.42 638.47,718.41 639.12,718.4 639.77,718.4 640.42,718.39 641.07,718.38 641.71,718.37 642.36,718.36 643.01,718.35 643.66,718.35 644.31,718.34 644.96,718.34 645.61,718.33 646.26,718.33 646.91,718.33 647.56,718.33 648.21,718.33 648.86,718.33 649.51,718.33 650.16,718.33 650.8,718.34 651.45,718.34 652.1,718.34 652.75,718.35 653.4,718.36 654.05,718.36 654.7,718.37 655.35,718.38 656,718.38 656.65,718.39 657.3,718.4 657.95,718.41 658.6,718.42 659.25,718.43 659.9,718.43 660.54,718.44 661.19,718.45 661.84,718.46 662.49,718.46 663.14,718.47 663.79,718.48 664.44,718.48 665.09,718.49 665.74,718.49 666.39,718.5 667.04,718.5 667.69,718.5 668.34,718.51 668.99,718.51 669.64,718.51 670.28,718.51 670.93,718.51 671.58,718.52 672.23,718.52 672.88,718.52 673.53,718.52 674.18,718.53 674.83,718.53 675.48,718.53 676.13,718.53 676.78,718.53 677.43,718.53 678.08,718.53 678.73,718.54 679.37,718.54 680.02,718.54 680.67,718.54 681.32,718.54 681.97,718.54 682.62,718.54 683.27,718.54 683.92,718.54 684.57,718.54 685.22,718.54 685.87,718.54 686.52,718.53 687.17,718.53 687.82,718.53 688.47,718.53 689.11,718.53 689.76,718.53 690.41,718.52 691.06,718.52 691.71,718.52 692.36,718.52 693.01,718.52 693.66,718.51 694.31,718.51 694.96,718.51 695.61,718.51 696.26,718.51 696.91,718.5 697.56,718.5 698.21,718.5 698.85,718.5 699.5,718.5 700.15,718.5 700.8,718.5 701.45,718.49 702.1,718.49 702.75,718.49 703.4,718.49 704.05,718.49 704.7,718.48 705.35,718.48 706,718.48 706.65,718.48 707.3,718.48 707.95,718.48 708.59,718.48 709.24,718.48 709.89,718.47 710.54,718.47 711.19,718.47 711.84,718.47 712.49,718.47 713.14,718.47 713.79,718.47 714.44,718.47 715.09,718.47 715.74,718.47 716.39,718.47 717.04,718.47 717.68,718.48 718.33,718.48 718.98,718.48 719.63,718.48 720.28,718.48 720.93,718.48 721.58,718.48 722.23,718.48 722.88,718.48 723.53,718.48 724.18,718.48 724.83,718.48 725.48,718.48 726.13,718.48 726.78,718.48 727.42,718.48 728.07,718.48 728.72,718.49 729.37,718.49 730.02,718.49 730.67,718.49 731.32,718.49 731.97,718.49 732.62,718.49 733.27,718.49 733.92,718.49 734.57,718.49 735.22,718.49 735.87,718.49 736.52,718.5 737.16,718.5 737.81,718.5 738.46,718.5 739.11,718.5 739.76,718.5 740.41,718.5 741.06,718.5 741.71,718.5 742.36,718.5 743.01,718.5 743.66,718.5 744.31,718.5 744.96,718.5 745.61,718.5 746.25,718.5 746.9,718.5 747.55,718.5 748.2,718.5 748.85,718.5 749.5,718.5 750.15,718.5 750.8,718.5 751.45,718.5 752.1,718.5 752.75,718.5 753.4,718.5 754.05,718.5 754.7,718.5 755.35,718.5 755.99,718.5 756.64,718.5 757.29,718.5 757.94,718.5 758.59,718.5 759.24,718.5 759.89,718.5 760.54,718.5 761.19,718.5 761.84,718.5 762.49,718.5 763.14,718.5 763.79,718.5 764.44,718.5 765.09,718.5 765.73,718.5 766.38,718.5 767.03,718.5 767.68,718.5 768.33,718.5 768.98,718.5 769.63,718.5 770.28,718.5 770.93,718.5 771.58,718.5 772.23,718.5 772.88,718.5 773.53,718.5 774.18,718.5 774.83,718.5 775.47,718.5 776.12,718.5 776.77,718.5 777.42,718.5 778.07,718.5 778.72,718.5 779.37,718.5 780.02,718.5 780.67,718.5 781.32,718.5 781.97,718.5 782.62,718.5 783.27,718.5 783.92,718.5 784.56,718.5 785.21,718.5 785.86,718.5 786.51,718.5 787.16,718.5 787.81,718.5 788.46,718.5 789.11,718.5 789.76,718.5 790.41,718.5 791.06,718.5 791.71,718.5 792.36,718.5 793.01,718.5 793.66,718.5 794.3,718.5 794.95,718.5 795.6,718.5 796.25,718.5 796.9,718.5 797.55,718.5 798.2,718.5 798.85,718.5 799.5,718.5 800.15,718.5 800.8,718.5 801.45,718.5 802.1,718.5 802.75,718.5 803.4,718.5 804.04,718.5 804.69,718.5 805.34,718.5 805.99,718.5 806.64,718.5 807.29,718.5 807.94,718.5 808.59,718.5 809.24,718.5 809.89,718.5 810.54,718.5 811.19,718.5 811.84,718.5 812.49,718.5 813.13,718.5 813.78,718.5 814.43,718.5 815.08,718.5 815.73,718.5 816.38,718.5 817.03,718.5 817.68,718.5 818.33,718.5 818.98,718.5 819.63,718.5 820.28,718.5 820.93,718.5 821.58,718.5 822.23,718.5 822.87,718.5 823.52,718.5 824.17,718.5 824.82,718.5 825.47,718.5 826.12,718.5 826.77,718.5 827.42,718.5 828.07,718.5 828.72,718.5 829.37,718.5 830.02,718.5 830.67,718.5 831.32,718.5 831.97,718.5 832.61,718.5 833.26,718.5 833.91,718.5 834.56,718.5 835.21,718.5 835.86,718.5 836.51,718.5 837.16,718.5 837.81,718.5 838.46,718.5 839.11,718.5 839.76,718.5 840.41,718.5 841.06,718.5 841.7,718.5 842.35,718.5 843,718.5 843.65,718.5 844.3,718.5 844.95,718.5 845.6,718.5 846.25,718.5 846.9,718.5 847.55,718.5 848.2,718.5 848.85,718.5 849.5,718.5 850.15,718.5 850.8,718.5 851.44,718.5 852.09,718.5 852.74,718.5 853.39,718.5 854.04,718.5 854.69,718.5 855.34,718.5 855.99,718.5 856.64,718.5 857.29,718.5 857.94,718.5 858.59,718.5 859.24,718.5 859.89,718.5 860.54,718.5 861.18,718.5 861.83,718.5 862.48,718.5 863.13,718.5 863.78,718.5 864.43,718.5 865.08,718.5 865.73,718.5 866.38,718.5 867.03,718.5 867.68,718.5 868.33,718.5 868.98,718.5 869.63,718.5 870.28,718.5 870.92,718.5 871.57,718.5 872.22,718.5 872.87,718.5 873.52,718.5 874.17,718.5 874.82,718.5 875.47,718.5 876.12,718.5 876.77,718.5 877.42,718.5 878.07,718.5 878.72,718.5 879.37,718.5 880.01,718.5 880.66,718.5 881.31,718.5 881.96,718.5 882.61,718.5 883.26,718.5 883.91,718.5 884.56,718.5 885.21,718.5 885.86,718.5 886.51,718.5 887.16,718.5 887.81,718.5 888.46,718.5 889.11,718.5 889.75,718.5 890.4,718.5 891.05,718.5 891.7,718.5 892.35,718.5 893,718.5 893.65,718.5 894.3,718.5 894.95,718.5 895.6,718.5 896.25,718.5 896.9,718.5 897.55,718.5 898.2,718.5 898.85,718.5 899.49,718.5 900.14,718.5 900.79,718.5 901.44,718.5 902.09,718.5 902.74,718.5 903.39,718.5 904.04,718.5 904.69,718.5 905.34,718.5 905.99,718.5 906.64,718.5 907.29,718.5 907.94,718.5 908.58,718.5 909.23,718.5 909.88,718.5 910.53,718.5 911.18,718.5 911.83,718.5 912.48,718.5 913.13,718.5 913.78,718.5 914.43,718.5 915.08,718.5 915.73,718.5 916.38,718.5 917.03,718.5 917.68,718.5 918.32,718.5 918.97,718.5 919.62,718.5 920.27,718.5 920.92,718.5 921.57,718.5 922.22,718.5 922.87,718.5 923.52,718.5 924.17,718.5 924.82,718.5 925.47,718.5 926.12,718.5 926.77,718.5 927.42,718.5 928.06,718.5 928.71,718.5 929.36,718.5 930.01,718.5 930.66,718.5 931.31,718.5 931.96,718.5 932.61,718.5 933.26,718.5 933.91,718.5 934.56,718.5 935.21,718.5 935.86,718.5 936.51,718.5 937.15,718.5 937.8,718.5 938.45,718.5 939.1,718.5 939.75,718.5 940.4,718.5 941.05,718.5 941.7,718.5 942.35,718.5 943,718.5 943.65,718.5 944.3,718.5 944.95,718.5 945.6,718.5 946.25,718.5 946.89,718.5 947.54,718.5 948.19,718.5 948.84,718.5 949.49,718.5 950.14,718.5 950.79,718.5 951.44,718.5 952.09,718.5 952.74,718.5 953.39,718.5 954.04,718.5 954.69,718.5 955.34,718.5 955.99,718.5 956.63,718.5 957.28,718.5 957.93,718.5 958.58,718.5 959.23,718.5 959.88,718.5 960.53,718.5 961.18,718.5 961.83,718.5 962.48,718.5 963.13,718.5 963.78,718.5 964.43,718.5 965.08,718.5 965.73,718.5 966.37,718.5 967.02,718.5 967.67,718.5 968.32,718.5 968.97,718.5 969.62,718.5 970.27,718.5 970.92,718.5 971.57,718.5 972.22,718.5 972.87,718.5 973.52,718.5 974.17,718.5 974.82,718.5 975.46,718.5 976.11,718.5 976.76,718.5 977.41,718.5 978.06,718.5 978.71,718.5 979.36,718.5 980.01,718.5 980.66,718.5 981.31,718.5 981.96,718.5 982.61,718.5 983.26,718.5 983.91,718.5 984.56,718.5 985.2,718.5 985.85,718.5 986.5,718.5 987.15,718.5 987.8,718.5 988.45,718.5 989.1,718.5 989.75,718.5 990.4,718.5 991.05,718.5 991.7,718.5 992.35,718.5 993,718.5 993.65,718.5 994.3,718.5 994.94,718.5 995.59,718.5 996.24,718.5 996.89,718.5 997.54,718.5 998.19,718.5 998.84,718.5 999.49,718.5 1000.14,718.5 1000.79,718.5 1001.44,718.5 1002.09,718.5 1002.74,718.5 1003.39,718.5 1004.03,718.5 1004.68,718.5 1005.33,718.5 1005.98,718.5 1006.63,718.5 1007.28,718.5 1007.93,718.5 1008.58,718.5 1009.23,718.5 1009.88,718.5 1010.53,718.5 1011.18,718.5 1011.83,718.5 1012.48,718.5 1013.13,718.5 1013.77,718.5 1014.42,718.5 1015.07,718.5 1015.72,718.5 1016.37,718.5 1017.02,718.5 1017.67,718.5 1018.32,718.5 1018.97,718.5 1019.62,718.5 1020.27,718.5 1020.92,718.5 1021.57,718.5 1022.22,718.5 1022.87,718.5 1023.51,718.5 1024.16,718.5 1024.81,718.5 1025.46,718.5 1026.11,718.5 1026.76,718.5 1027.41,718.5 1028.06,718.5 1028.71,718.5 1029.36,718.5 1030.01,718.5 1030.66,718.5 1031.31,718.5 1031.96,718.5 1032.61,718.5 1033.25,718.5 1033.9,718.5 1034.55,718.5 1035.2,718.5 1035.85,718.5 1036.5,718.5 1037.15,718.5 1037.8,718.5 1038.45,718.5 1039.1,718.5 1039.75,718.5 1040.4,718.5 1041.05,718.5 1041.7,718.5 1042.34,718.5 1042.99,718.5 1043.64,718.5 1044.29,718.5 1044.94,718.5 1045.59,718.5 1046.24,718.5 1046.89,718.5 1047.54,718.5 1048.19,718.5 1048.84,718.5 1049.49,718.5 1050.14,718.5 1050.79,718.5 1051.44,718.5 1052.08,718.5 1052.73,718.5 1053.38,718.5 1054.03,718.5 1054.68,718.5 1055.33,718.5 1055.98,718.5 1056.63,718.5 1057.28,718.5 1057.93,718.5 1058.58,718.5 1059.23,718.5 1059.88,718.5 1060.53,718.5 1061.18,718.5 1061.82,718.5 1062.47,718.5 1063.12,718.5 1063.77,718.5 1064.42,718.5 1065.07,718.5 1065.72,718.5 1066.37,718.5 1067.02,718.5 1067.67,718.5 1068.32,718.5 1068.97,718.5 1069.62,718.5 1070.27,718.5 1070.91,718.5 1071.56,718.5 1072.21,718.5 1072.86,718.5 1073.51,718.5 1074.16,718.5 1074.81,718.5 1075.46,718.5 1076.11,718.5 1076.76,718.5 1077.41,718.5 1078.06,718.5 1078.71,718.5 1079.36,718.5 1080.01,718.5 1080.65,718.5 1081.3,718.5 1081.95,718.5 1082.6,718.5 1083.25,718.5 1083.9,718.5 1084.55,718.5 1085.2,718.5 1085.85,718.5 1086.5,718.5 1087.15,718.5 1087.8,718.5 1088.45,718.5 1089.1,718.5 1089.75,718.5 1090.39,718.5 1091.04,718.5 1091.69,718.5 1092.34,718.5 1092.99,718.5 1093.64,718.5 1094.29,718.5 1094.94,718.5 1095.59,718.5 1096.24,718.5 1096.89,718.5 1097.54,718.5 1098.19,718.5 1098.84,718.5 1099.49,718.5 1100.13,718.5 1100.78,718.5 1101.43,718.5 1102.08,718.5 1102.73,718.5 1103.38,718.5 1104.03,718.5 1104.68,718.5 1105.33,718.5 1105.98,718.5 1106.63,718.5 1107.28,718.5 1107.93,718.5 1108.58,718.5 1109.22,718.5 1109.87,718.5 1110.52,718.5 1111.17,718.5 1111.82,718.5 1112.47,718.5 1113.12,718.5 1113.77,718.5 1114.42,718.5 1115.07,718.5 1115.72,718.5 1116.37,718.5 1117.02,718.5 1117.67,718.5 1118.32,718.5 1118.96,718.5 1119.61,718.5 1120.26,718.5 1120.91,718.5 1121.56,718.5 1122.21,718.5 1122.86,718.5 1123.51,718.5 1124.16,718.5 1124.81,718.5 1125.46,718.5 1126.11,718.5 1126.76,718.5 1127.41,718.5 1128.06,718.5 1128.7,718.5 1129.35,718.5 1130,718.5 1130.65,718.5 1131.3,718.5 1131.95,718.5 1132.6,718.5 1133.25,718.5 1133.9,718.5 1134.55,718.5 1135.2,718.5 1135.85,718.5 1136.5,718.5 1137.15,718.5 1137.79,718.5 1138.44,718.5 1139.09,718.5 1139.74,718.5 1140.39,718.5 1141.04,718.5 1141.69,718.5 1142.34,718.5 1142.99,718.5 1143.64,718.5 1144.29,718.5 1144.94,718.5 1145.59,718.5 1146.24,718.5 1146.89,718.5 1147.53,718.5 1148.18,718.5 1148.83,718.5 1149.48,718.5 1150.13,718.5 1150.78,718.5 1151.43,718.5 1152.08,718.5 1152.73,718.5 1153.38,718.5 1154.03,718.5 1154.68,718.5 1155.33,718.5 1155.98,718.5 1156.63,718.5 1157.27,718.5 1157.92,718.5 1158.57,718.5 1159.22,718.5 1159.87,718.5 1160.52,718.5 1161.17,718.5 1161.82,718.5 1162.47,718.5 1163.12,718.5 1163.77,718.5 1164.42,718.5 1165.07,718.5 1165.72,718.5 1166.36,718.5 1167.01,718.5 1167.66,718.5 1168.31,718.5 1168.96,718.5 1169.61,718.5 1170.26,718.5 1170.91,718.5 1171.56,718.5 1172.21,718.5 1172.86,718.5 1173.51,718.5 1174.16,718.5 1174.81,718.5 1175.46,718.5 1176.1,718.5 1176.75,718.5 1177.4,718.5 1178.05,718.5 1178.7,718.5 1179.35,718.5 1180,718.5 1180.65,718.5 1181.3,718.5 1181.95,718.5 1182.6,718.5 1183.25,718.5 1183.9,718.5 1184.55,718.5 1185.2,718.5 1185.84,718.5 1186.49,718.5 1187.14,718.5 1187.79,718.5 1188.44,718.5 1189.09,718.5 1189.74,718.5 1190.39,718.5 1191.04,718.5 1191.69,718.5 1192.34,718.5 1192.99,718.5 1193.64,718.5 1194.29,718.5 1194.94,718.5 1195.58,718.5 1196.23,718.5 1196.88,718.5 1197.53,718.5 1198.18,718.5 1198.83,718.5 1199.48,718.5 1200.13,718.5 1200.78,718.5 1201.43,718.5 1202.08,718.5 1202.73,718.5 1203.38,718.5 1204.03,718.5 1204.67,718.5 1205.32,718.5 1205.97,718.5 1206.62,718.5 1207.27,718.5 1207.92,718.5 1208.57,718.5 1209.22,718.5 1209.87,718.5 1210.52,718.5 1211.17,718.5 1211.82,718.5 1212.47,718.5 1213.12,718.5 1213.77,718.5 1214.41,718.5 1215.06,718.5 1215.71,718.5 1216.36,718.5 1217.01,718.5 1217.66,718.5 1218.31,718.5 1218.96,718.5 1219.61,718.5 1220.26,718.5 1220.91,718.5 1221.56,718.5 1222.21,718.5 1222.86,718.5 1223.51,718.5 1224.15,718.5 1224.8,718.5 1225.45,718.5 1226.1,718.5 1226.75,718.5 1227.4,718.5 1228.05,718.5 1228.7,718.5 1229.35,718.5 1230,718.5 1230.65,718.5 1231.3,718.5 1231.95,718.5 1232.6,718.5 1233.24,718.5 1233.89,718.5 1234.54,718.5 1235.19,718.5 1235.84,718.5 1236.49,718.5 1237.14,718.5 1237.79,718.5 1238.44,718.5 1239.09,718.5 1239.74,718.5 1240.39,718.5 1241.04,718.5 1241.69,718.5 1242.34,718.5 1242.98,718.5 1243.63,718.5 1244.28,718.5 1244.93,718.5 1245.58,718.5 1246.23,718.5 1246.88,718.5 1247.53,718.5 1248.18,718.5 1248.83,718.5 1249.48,718.5 1250.13,718.5 1250.78,718.5 1251.43,718.5 1252.08,718.5 1252.72,718.5 1253.37,718.5 1254.02,718.5 1254.67,718.5 1255.32,718.5 1255.97,718.5 1256.62,718.5 1257.27,718.5 1257.92,718.5 1258.57,718.5 1259.22,718.5 1259.87,718.5 1260.52,718.5 1261.17,718.5 1261.82,718.5 1262.46,718.5 1263.11,718.5 1263.76,718.5 1264.41,718.5 1265.06,718.5 1265.71,718.5 1266.36,718.5 1267.01,718.5 1267.66,718.5 1268.31,718.5 1268.96,718.5 1269.61,718.5 1270.26,718.5 1270.91,718.5 1271.55,718.5 1272.2,718.5 1272.85,718.5 1273.5,718.5 1274.15,718.5 1274.8,718.5 1275.45,718.5 1276.1,718.5 1276.75,718.5 1277.4,718.5 1278.05,718.5 1278.7,718.5 1279.35,718.5 1280,718.5 1280.65,718.5 1281.29,718.5 1281.94,718.5 1282.59,718.5 1283.24,718.5 1283.89,718.5 1284.54,718.5 1285.19,718.5 1285.84,718.5 1286.49,718.5 1287.14,718.5 1287.79,718.5 1288.44,718.5 1289.09,718.5 1289.74,718.5 1290.39,718.5 1291.03,718.5 1291.68,718.5 1292.33,718.5 1292.98,718.5 1293.63,718.5 1294.28,718.5 1294.93,718.5 1295.58,718.5 1296.23,718.5 1296.88,718.5 1297.53,718.5 1298.18,718.5 1298.83,718.5 1299.48,718.5 1300.12,718.5 1300.77,718.5 1301.42,718.5 1302.07,718.5 1302.72,718.5 1303.37,718.5 1304.02,718.5 1304.67,718.5 1305.32,718.5 1305.97,718.5 1306.62,718.5 1307.27,718.5 1307.92,718.5 1308.57,718.5 1309.22,718.5 1309.86,718.5 1310.51,718.5 1311.16,718.5 1311.81,718.5 1312.46,718.5 1313.11,718.5 1313.76,718.5 1314.41,718.5 1315.06,718.5 1315.71,718.5 1316.36,718.5 1317.01,718.5 1317.66,718.5 1318.31,718.5 1318.31,718.5" fill="none" stroke="#D95319" stroke-width="8.33" stroke-linejoin="round"/>
<path d="M369,1317 369.65,1317 370.3,1317 370.95,1317 371.6,1317 372.25,1317 372.9,1317 373.55,1317 374.19,1317 374.84,1317 375.49,1317 376.14,1317 376.79,1317 377.44,1317 378.09,1317 378.74,1317 379.39,1317 380.04,1317 380.69,1317 381.34,1317 381.99,1317 382.64,1317 383.29,1317 383.93,1317 384.58,1317 385.23,1317 385.88,1317 386.53,1317 387.18,1317 387.83,1317 388.48,1317 389.13,1317 389.78,1317 390.43,1317 391.08,1317 391.73,1317 392.38,1317 393.02,1317 393.67,1317 394.32,1317 394.97,1317 395.62,1317 396.27,1317 396.92,1317 397.57,1317 398.22,1317 398.87,1317 399.52,1317 400.17,1317 400.82,1317 401.47,1317 402.12,1317 402.76,1317 403.41,1317 404.06,1317 404.71,1317 405.36,1317 406.01,1317 406.66,1317 407.31,1317 407.96,1317 408.61,1317 409.26,1317 409.91,1317 410.56,1317 411.21,1317 411.86,1317 412.5,1317 413.15,1317 413.8,1317 414.45,1317 415.1,1317 415.75,1317 416.4,1317 417.05,1317 417.7,1317 418.35,1317 419,1317 419.65,1317 420.3,1317 420.95,1317 421.59,1317 422.24,1317 422.89,1317 423.54,1317 424.19,1317 424.84,1316.03 425.49,1312.52 426.14,1304.45 426.79,1289.01 427.44,1270.59 428.09,1252.29 428.74,1222.75 429.39,1177.33 430.04,1109.36 430.69,1019.13 431.33,917.8 431.98,816.53 432.63,726.47 433.28,650.01 433.93,578.84 434.58,512.82 435.23,449.23 435.88,403.79 436.53,368.91 437.18,341.19 437.83,322.23 438.48,308.6 439.13,297.48 439.78,291.37 440,290.87 440.43,291.6 441.07,295.13 441.72,300.67 442.37,307.22 443.02,317.11 443.67,332.22 444.32,350.86 444.97,371.32 445.62,391.9 446.27,410.89 446.92,427.15 447.57,442.83 448.22,458.27 448.87,473.29 449.52,487.75 450.17,501.49 450.81,514.34 451.46,526.36 452.11,538.27 452.76,550.15 453.41,561.94 454.06,573.63 454.71,585.16 455.36,596.52 456.01,607.66 456.66,618.55 457.31,629.16 457.96,639.45 458.61,649.38 459.26,658.93 459.9,668.06 460.55,676.74 461.2,684.92 461.85,692.58 462.5,699.68 463.15,706.2 463.8,712.08 464.45,717.3 465.1,721.99 465.75,726.5 466.4,730.84 467.05,734.98 467.7,738.91 468.35,742.6 469,746.05 469.64,749.22 470.29,752.11 470.94,754.69 471.59,756.94 472.24,758.85 472.89,760.39 473.54,761.74 474.19,763.05 474.84,764.3 475.49,765.47 476.14,766.55 476.79,767.52 477.44,768.35 478.09,769.03 478.74,769.54 479.38,769.86 480.03,769.97 480.68,769.83 481.33,769.42 481.98,768.77 482.63,767.92 483.28,766.89 483.93,765.72 484.58,764.44 485.23,763.08 485.88,761.66 486.53,760.22 487.18,758.79 487.83,757.4 488.47,755.94 489.12,754.3 489.77,752.48 490.42,750.52 491.07,748.44 491.72,746.25 492.37,743.98 493.02,741.65 493.67,739.29 494.32,736.9 494.97,734.52 495.62,732.17 496.27,729.86 496.92,727.62 497.57,725.47 498.21,723.43 498.86,721.53 499.51,719.78 500.16,718.19 500.81,716.63 501.46,715.03 502.11,713.39 502.76,711.75 503.41,710.11 504.06,708.49 504.71,706.91 505.36,705.39 506.01,703.95 506.66,702.59 507.31,701.34 507.95,700.22 508.6,699.24 509.25,698.41 509.9,697.76 510.55,697.3 511.2,697.06 511.85,697.02 512.5,697.1 513.15,697.28 513.8,697.53 514.45,697.86 515.1,698.26 515.75,698.73 516.4,699.26 517.04,699.84 517.69,700.48 518.34,701.16 518.99,701.88 519.64,702.63 520.29,703.42 520.94,704.22 521.59,705.05 522.24,705.89 522.89,706.73 523.54,707.58 524.19,708.42 524.84,709.26 525.49,710.08 526.14,710.88 526.78,711.66 527.43,712.41 528.08,713.12 528.73,713.79 529.38,714.42 530.03,714.99 530.68,715.51 531.33,715.98 531.98,716.42 532.63,716.84 533.28,717.25 533.93,717.66 534.58,718.06 535.23,718.48 535.88,718.92 536.52,719.39 537.17,719.86 537.82,720.32 538.47,720.75 539.12,721.14 539.77,721.46 540.42,721.74 541.07,722.02 541.72,722.3 542.37,722.56 543.02,722.81 543.67,723.03 544.32,723.22 544.97,723.37 545.62,723.47 546.26,723.52 546.91,723.52 547.56,723.48 548.21,723.4 548.86,723.29 549.51,723.15 550.16,723 550.81,722.82 551.46,722.63 552.11,722.44 552.76,722.24 553.41,722.04 554.06,721.85 554.71,721.66 555.35,721.49 556,721.33 556.65,721.16 557.3,720.99 557.95,720.81 558.6,720.64 559.25,720.46 559.9,720.28 560.55,720.09 561.2,719.91 561.85,719.73 562.5,719.55 563.15,719.37 563.8,719.19 564.45,719.01 565.09,718.84 565.74,718.67 566.39,718.5 567.04,718.33 567.69,718.15 568.34,717.98 568.99,717.81 569.64,717.66 570.29,717.53 570.94,717.44 571.59,717.34 572.24,717.25 572.89,717.16 573.54,717.07 574.19,716.99 574.83,716.92 575.48,716.85 576.13,716.78 576.78,716.73 577.43,716.68 578.08,716.65 578.73,716.62 579.38,716.61 580.03,716.61 580.68,716.62 581.33,716.64 581.98,716.67 582.63,716.7 583.28,716.74 583.92,716.78 584.57,716.82 585.22,716.86 585.87,716.91 586.52,716.95 587.17,716.99 587.82,717.04 588.47,717.1 589.12,717.15 589.77,717.21 590.42,717.27 591.07,717.32 591.72,717.38 592.37,717.44 593.02,717.5 593.66,717.56 594.31,717.62 594.96,717.69 595.61,717.75 596.26,717.82 596.91,717.88 597.56,717.95 598.21,718.02 598.86,718.08 599.51,718.14 600.16,718.2 600.81,718.26 601.46,718.32 602.11,718.37 602.76,718.42 603.4,718.46 604.05,718.5 604.7,718.54 605.35,718.58 606,718.62 606.65,718.65 607.3,718.69 607.95,718.73 608.6,718.76 609.25,718.8 609.9,718.83 610.55,718.85 611.2,718.87 611.85,718.89 612.5,718.91 613.14,718.92 613.79,718.92 614.44,718.92 615.09,718.91 615.74,718.91 616.39,718.9 617.04,718.89 617.69,718.88 618.34,718.87 618.99,718.86 619.64,718.84 620.29,718.83 620.94,718.81 621.59,718.8 622.23,718.78 622.88,718.76 623.53,718.74 624.18,718.72 624.83,718.7 625.48,718.68 626.13,718.66 626.78,718.64 627.43,718.63 628.08,718.61 628.73,718.59 629.38,718.57 630.03,718.56 630.68,718.54 631.33,718.53 631.97,718.52 632.62,718.51 633.27,718.5 633.92,718.49 634.57,718.48 635.22,718.46 635.87,718.45 636.52,718.44 637.17,718.43 637.82,718.42 638.47,718.41 639.12,718.4 639.77,718.4 640.42,718.39 641.07,718.38 641.71,718.37 642.36,718.36 643.01,718.35 643.66,718.35 644.31,718.34 644.96,718.34 645.61,718.33 646.26,718.33 646.91,718.33 647.56,718.33 648.21,718.33 648.86,718.33 649.51,718.33 650.16,718.33 650.8,718.34 651.45,718.34 652.1,718.34 652.75,718.35 653.4,718.36 654.05,718.36 654.7,718.37 655.35,718.38 656,718.38 656.65,718.39 657.3,718.4 657.95,718.41 658.6,718.42 659.25,718.43 659.9,718.43 660.54,718.44 661.19,718.45 661.84,718.46 662.49,718.46 663.14,718.47 663.79,718.48 664.44,718.48 665.09,718.49 665.74,718.49 666.39,718.5 667.04,718.5 667.69,718.5 668.34,718.51 668.99,718.51 669.64,718.51 670.28,718.51 670.93,718.51 671.58,718.52 672.23,718.52 672.88,718.52 673.53,718.52 674.18,718.53 674.83,718.53 675.48,718.53 676.13,718.53 676.78,718.53 677.43,718.53 678.08,718.53 678.73,718.54 679.37,718.54 680.02,718.54 680.67,718.54 681.32,718.54 681.97,718.54 682.62,718.54 683.27,718.54 683.92,718.54 684.57,718.54 685.22,718.54 685.87,718.54 686.52,718.53 687.17,718.53 687.82,718.53 688.47,718.53 689.11,718.53 689.76,718.53 690.41,718.52 691.06,718.52 691.71,718.52 692.36,718.52 693.01,718.52 693.66,718.51 694.31,718.51 694.96,718.51 695.61,718.51 696.26,718.51 696.91,718.5 697.56,718.5 698.21,718.5 698.85,718.5 699.5,718.5 700.15,718.5 700.8,718.5 701.45,718.49 702.1,718.49 702.75,718.49 703.4,718.49 704.05,718.49 704.7,718.48 705.35,718.48 706,718.48 706.65,718.48 707.3,718.48 707.95,718.48 708.59,718.48 709.24,718.48 709.89,718.47 710.54,718.47 711.19,718.47 711.84,718.47 712.49,718.47 713.14,718.47 713.79,718.47 714.44,718.47 715.09,718.47 715.74,718.47 716.39,718.47 717.04,718.47 717.68,718.48 718.33,718.48 718.98,718.48 719.63,718.48 720.28,718.48 720.93,718.48 721.58,718.48 722.23,718.48 722.88,718.48 723.53,718.48 724.18,718.48 724.83,718.48 725.48,718.48 726.13,718.48 726.78,718.48 727.42,718.48 728.07,718.48 728.72,718.49 729.37,718.49 730.02,718.49 730.67,718.49 731.32,718.49 731.97,718.49 732.62,718.49 733.27,718.49 733.92,718.49 734.57,718.49 735.22,718.49 735.87,718.49 736.52,718.5 737.16,718.5 737.81,718.5 738.46,718.5 739.11,718.5 739.76,718.5 740.41,718.5 741.06,718.5 741.71,718.5 742.36,718.5 743.01,718.5 743.66,718.5 744.31,718.5 744.96,718.5 745.61,718.5 746.25,718.5 746.9,718.5 747.55,718.5 748.2,718.5 748.85,718.5 749.5,718.5 750.15,718.5 750.8,718.5 751.45,718.5 752.1,718.5 752.75,718.5 753.4,718.5 754.05,718.5 754.7,718.5 755.35,718.5 755.99,718.5 756.64,718.5 757.29,718.5 757.94,718.5 758.59,718.5 759.24,718.5 759.89,718.5 760.54,718.5 761.19,718.5 761.84,718.5 762.49,718.5 763.14,718.5 763.79,718.5 764.44,718.5 765.09,718.5 765.73,718.5 766.38,718.5 767.03,718.5 767.68,718.5 768.33,718.5 768.98,718.5 769.63,718.5 770.28,718.5 770.93,718.5 771.58,718.5 772.23,718.5 772.88,718.5 773.53,718.5 774.18,718.5 774.83,718.5 775.47,718.5 776.12,718.5 776.77,718.5 777.42,718.5 778.07,718.5 778.72,718.5 779.37,718.5 780.02,718.5 780.67,718.5 781.32,718.5 781.97,718.5 782.62,718.5 783.27,718.5 783.92,718.5 784.56,718.5 785.21,718.5 785.86,718.5 786.51,718.5 787.16,718.5 787.81,718.5 788.46,718.5 789.11,718.5 789.76,718.5 790.41,718.5 791.06,718.5 791.71,718.5 792.36,718.5 793.01,718.5 793.66,718.5 794.3,718.5 794.95,718.5 795.6,718.5 796.25,718.5 796.9,718.5 797.55,718.5 798.2,718.5 798.85,718.5 799.5,718.5 800.15,718.5 800.8,718.5 801.45,718.5 802.1,718.5 802.75,718.5 803.4,718.5 804.04,718.5 804.69,718.5 805.34,718.5 805.99,718.5 806.64,718.5 807.29,718.5 807.94,718.5 808.59,718.5 809.24,718.5 809.89,718.5 810.54,718.5 811.19,718.5 811.84,718.5 812.49,718.5 813.13,718.5 813.78,718.5 814.43,718.5 815.08,718.5 815.73,718.5 816.38,718.5 817.03,718.5 817.68,718.5 818.33,718.5 818.98,718.5 819.63,718.5 820.28,718.5 820.93,718.5 821.58,718.5 822.23,718.5 822.87,718.5 823.52,718.5 824.17,718.5 824.82,718.5 825.47,718.5 826.12,718.5 826.77,718.5 827.42,718.5 828.07,718.5 828.72,718.5 829.37,718.5 830.02,718.5 830.67,718.5 831.32,718.5 831.97,718.5 832.61,718.5 833.26,718.5 833.91,718.5 834.56,718.5 835.21,718.5 835.86,718.5 836.51,718.5 837.16,718.5 837.81,718.5 838.46,718.5 839.11,718.5 839.76,718.5 840.41,718.5 841.06,718.5 841.7,718.5 842.35,718.5 843,718.5 843.65,718.5 844.3,718.5 844.95,718.5 845.6,718.5 846.25,718.5 846.9,718.5 847.55,718.5 848.2,718.5 848.85,718.5 849.5,718.5 850.15,718.5 850.8,718.5 851.44,718.5 852.09,718.5 852.74,718.5 853.39,718.5 854.04,718.5 854.69,718.5 855.34,718.5 855.99,718.5 856.64,718.5 857.29,718.5 857.94,718.5 858.59,718.5 859.24,718.5 859.89,718.5 860.54,718.5 861.18,718.5 861.83,718.5 862.48,718.5 863.13,718.5 863.78,718.5 864.43,718.5 865.08,718.5 865.73,718.5 866.38,718.5 867.03,718.5 867.68,718.5 868.33,718.5 868.98,718.5 869.63,718.5 870.28,718.5 870.92,718.5 871.57,718.5 872.22,718.5 872.87,718.5 873.52,718.5 874.17,718.5 874.82,718.5 875.47,718.5 876.12,718.5 876.77,718.5 877.42,718.5 878.07,718.5 878.72,718.5 879.37,718.5 880.01,718.5 880.66,718.5 881.31,718.5 881.96,718.5 882.61,718.5 883.26,718.5 883.91,718.5 884.56,718.5 885.21,718.5 885.86,718.5 886.51,718.5 887.16,718.5 887.81,718.5 888.46,718.5 889.11,718.5 889.75,718.5 890.4,718.5 891.05,718.5 891.7,718.5 892.35,718.5 893,718.5 893.65,718.5 894.3,718.5 894.95,718.5 895.6,718.5 896.25,718.5 896.9,718.5 897.55,718.5 898.2,718.5 898.85,718.5 899.49,718.5 900.14,718.5 900.79,718.5 901.44,718.5 902.09,718.5 902.74,718.5 903.39,718.5 904.04,718.5 904.69,718.5 905.34,718.5 905.99,718.5 906.64,718.5 907.29,718.5 907.94,718.5 908.58,718.5 909.23,718.5 909.88,718.5 910.53,718.5 911.18,718.5 911.83,718.5 912.48,718.5 913.13,718.5 913.78,718.5 914.43,718.5 915.08,718.5 915.73,718.5 916.38,718.5 917.03,718.5 917.68,718.5 918.32,718.5 918.97,718.5 919.62,718.5 920.27,718.5 920.92,718.5 921.57,718.5 922.22,718.5 922.87,718.5 923.52,718.5 924.17,718.5 924.82,718.5 925.47,718.5 926.12,718.5 926.77,718.5 927.42,718.5 928.06,718.5 928.71,718.5 929.36,718.5 930.01,718.5 930.66,718.5 931.31,718.5 931.96,718.5 932.61,718.5 933.26,718.5 933.91,718.5 934.56,718.5 935.21,718.5 935.86,718.5 936.51,718.5 937.15,718.5 937.8,718.5 938.45,718.5 939.1,718.5 939.75,718.5 940.4,718.5 941.05,718.5 941.7,718.5 942.35,718.5 943,718.5 943.65,718.5 944.3,718.5 944.95,718.5 945.6,718.5 946.25,718.5 946.89,718.5 947.54,718.5 948.19,718.5 948.84,718.5 949.49,718.5 950.14,718.5 950.79,718.5 951.44,718.5 952.09,718.5 952.74,718.5 953.39,718.5 954.04,718.5 954.69,718.5 955.34,718.5 955.99,718.5 956.63,718.5 957.28,718.5 957.93,718.5 958.58,718.5 959.23,718.5 959.88,718.5 960.53,718.5 961.18,718.5 961.83,718.5 962.48,718.5 963.13,718.5 963.78,718.5 964.43,718.5 965.08,718.5 965.73,718.5 966.37,718.5 967.02,718.5 967.67,718.5 968.32,718.5 968.97,718.5 969.62,718.5 970.27,718.5 970.92,718.5 971.57,718.5 972.22,718.5 972.87,718.5 973.52,718.5 974.17,718.5 974.82,718.5 975.46,718.5 976.11,718.5 976.76,718.5 977.41,718.5 978.06,718.5 978.71,718.5 979.36,718.5 980.01,718.5 980.66,718.5 981.31,718.5 981.96,718.5 982.61,718.5 983.26,718.5 983.91,718.5 984.56,718.5 985.2,718.5 985.85,718.5 986.5,718.5 987.15,718.5 987.8,718.5 988.45,718.5 989.1,718.5 989.75,718.5 990.4,718.5 991.05,718.5 991.7,718.5 992.35,718.5 993,718.5 993.65,718.5 994.3,718.5 994.94,718.5 995.59,718.5 996.24,718.5 996.89,718.5 997.54,718.5 998.19,718.5 998.84,718.5 999.49,718.5 1000.14,718.5 1000.79,718.5 1001.44,718.5 1002.09,718.5 1002.74,718.5 1003.39,718.5 1004.03,718.5 1004.68,718.5 1005.33,718.5 1005.98,718.5 1006.63,718.5 1007.28,718.5 1007.93,718.5 1008.58,718.5 1009.23,718.5 1009.88,718.5 1010.53,718.5 1011.18,718.5 1011.83,718.5 1012.48,718.5 1013.13,718.5 1013.77,718.5 1014.42,718.5 1015.07,718.5 1015.72,718.5 1016.37,718.5 1017.02,718.5 1017.67,718.5 1018.32,718.5 1018.97,718.5 1019.62,718.5 1020.27,718.5 1020.92,718.5 1021.57,718.5 1022.22,718.5 1022.87,718.5 1023.51,718.5 1024.16,718.5 1024.81,718.5 1025.46,718.5 1026.11,718.5 1026.76,718.5 1027.41,718.5 1028.06,718.5 1028.71,718.5 1029.36,718.5 1030.01,718.5 1030.66,718.5 1031.31,718.5 1031.96,718.5 1032.61,718.5 1033.25,718.5 1033.9,718.5 1034.55,718.5 1035.2,718.5 1035.85,718.5 1036.5,718.5 1037.15,718.5 1037.8,718.5 1038.45,718.5 1039.1,718.5 1039.75,718.5 1040.4,718.5 1041.05,718.5 1041.7,718.5 1042.34,718.5 1042.99,718.5 1043.64,718.5 1044.29,718.5 1044.94,718.5 1045.59,718.5 1046.24,718.5 1046.89,718.5 1047.54,718.5 1048.19,718.5 1048.84,718.5 1049.49,718.5 1050.14,718.5 1050.79,718.5 1051.44,718.5 1052.08,718.5 1052.73,718.5 1053.38,718.5 1054.03,718.5 1054.68,718.5 1055.33,718.5 1055.98,718.5 1056.63,718.5 1057.28,718.5 1057.93,718.5 1058.58,718.5 1059.23,718.5 1059.88,718.5 1060.53,718.5 1061.18,718.5 1061.82,718.5 1062.47,718.5 1063.12,718.5 1063.77,718.5 1064.42,718.5 1065.07,718.5 1065.72,718.5 1066.37,718.5 1067.02,718.5 1067.67,718.5 1068.32,718.5 1068.97,718.5 1069.62,718.5 1070.27,718.5 1070.91,718.5 1071.56,718.5 1072.21,718.5 1072.86,718.5 1073.51,718.5 1074.16,718.5 1074.81,718.5 1075.46,718.5 1076.11,718.5 1076.76,718.5 1077.41,718.5 1078.06,718.5 1078.71,718.5 1079.36,718.5 1080.01,718.5 1080.65,718.5 1081.3,718.5 1081.95,718.5 1082.6,718.5 1083.25,718.5 1083.9,718.5 1084.55,718.5 1085.2,718.5 1085.85,718.5 1086.5,718.5 1087.15,718.5 1087.8,718.5 1088.45,718.5 1089.1,718.5 1089.75,718.5 1090.39,718.5 1091.04,718.5 1091.69,718.5 1092.34,718.5 1092.99,718.5 1093.64,718.5 1094.29,718.5 1094.94,718.5 1095.59,718.5 1096.24,718.5 1096.89,718.5 1097.54,718.5 1098.19,718.5 1098.84,718.5 1099.49,718.5 1100.13,718.5 1100.78,718.5 1101.43,718.5 1102.08,718.5 1102.73,718.5 1103.38,718.5 1104.03,718.5 1104.68,718.5 1105.33,718.5 1105.98,718.5 1106.63,718.5 1107.28,718.5 1107.93,718.5 1108.58,718.5 1109.22,718.5 1109.87,718.5 1110.52,718.5 1111.17,718.5 1111.82,718.5 1112.47,718.5 1113.12,718.5 1113.77,718.5 1114.42,718.5 1115.07,718.5 1115.72,718.5 1116.37,718.5 1117.02,718.5 1117.67,718.5 1118.32,718.5 1118.96,718.5 1119.61,718.5 1120.26,718.5 1120.91,718.5 1121.56,718.5 1122.21,718.5 1122.86,718.5" fill="none" stroke="#EDB120" stroke-width="8.33" stroke-linejoin="round"/>
<path d="M369,1317 369.65,1317 370.3,1317 370.95,1317 371.6,1317 372.25,1317 372.9,1317 373.55,1317 374.19,1317 374.84,1317 375.49,1317 376.14,1317 376.79,1317 377.44,1317 378.09,1317 378.74,1317 379.39,1317 380.04,1317 380.69,1317 381.34,1317 381.99,1317 382.64,1317 383.29,1317 383.93,1317 384.58,1317 385.23,1317 385.88,1317 386.53,1317 387.18,1317 387.83,1317 388.48,1317 389.13,1317 389.78,1317 390.43,1317 391.08,1317 391.73,1317 392.38,1317 393.02,1317 393.67,1317 394.32,1317 394.97,1317 395.62,1317 396.27,1317 396.92,1317 397.57,1317 398.22,1317 398.87,1317 399.52,1317 400.17,1317 400.82,1317 401.47,1317 402.12,1317 402.76,1317 403.41,1317 404.06,1317 404.71,1317 405.36,1317 406.01,1317 406.66,1317 407.31,1317 407.96,1317 408.61,1317 409.26,1317 409.91,1317 410.56,1317 411.21,1317 411.86,1317 412.5,1317 413.15,1317 413.8,1317 414.45,1317 415.1,1317 415.75,1317 416.4,1317 417.05,1317 417.7,1317 418.35,1317 419,1317 419.65,1317 420.3,1317 420.95,1317 421.59,1317 422.24,1317 422.89,1317 423.54,1317 424.19,1317 424.84,1316.03 425.49,1312.52 426.14,1304.45 426.79,1289.01 427.44,1270.59 428.09,1252.29 428.74,1222.75 429.39,1177.33 430.04,1109.36 430.69,1019.13 431.33,917.8 431.98,816.53 432.63,726.47 433.28,650.02 433.93,578.87 434.58,512.87 435.23,449.34 435.88,403.98 436.53,369.21 437.18,341.64 437.83,322.84 438.48,309.37 439.13,298.37 439.78,292.32 440,291.83 440.43,292.55 441.07,295.99 441.72,301.4 442.37,307.79 443.02,317.52 443.67,332.49 444.32,351.02 444.97,371.41 445.62,391.95 446.27,410.92 446.92,427.16 447.57,442.83 448.22,458.27 448.87,473.29 449.52,487.75 450.17,501.49 450.81,514.34 451.46,526.36 452.11,538.27 452.76,550.15 453.41,561.94 454.06,573.63 454.71,585.16 455.36,596.52 456.01,607.66 456.66,618.55 457.31,629.16 457.96,639.45 458.61,649.38 459.26,658.93 459.9,668.06 460.55,676.74 461.2,684.92 461.85,692.58 462.5,699.68 463.15,706.2 463.8,712.08 464.45,717.3 465.1,721.99 465.75,726.5 466.4,730.84 467.05,734.98 467.7,738.91 468.35,742.6 469,746.05 469.64,749.22 470.29,752.11 470.94,754.69 471.59,756.94 472.24,758.85 472.89,760.39 473.54,761.74 474.19,763.05 474.84,764.3 475.49,765.47 476.14,766.55 476.79,767.52 477.44,768.35 478.09,769.03 478.74,769.54 479.38,769.86 480.03,769.97 480.68,769.83 481.33,769.42 481.98,768.77 482.63,767.92 483.28,766.89 483.93,765.72 484.58,764.44 485.23,763.08 485.88,761.66 486.53,760.22 487.18,758.79 487.83,757.4 488.47,755.94 489.12,754.3 489.77,752.48 490.42,750.52 491.07,748.44 491.72,746.25 492.37,743.98 493.02,741.65 493.67,739.29 494.32,736.9 494.97,734.52 495.62,732.17 496.27,729.86 496.92,727.62 497.57,725.47 498.21,723.43 498.86,721.53 499.51,719.78 500.16,718.19 500.81,716.63 501.46,715.03 502.11,713.39 502.76,711.75 503.41,710.11 504.06,708.49 504.71,706.91 505.36,705.39 506.01,703.95 506.66,702.59 507.31,701.34 507.95,700.22 508.6,699.24 509.25,698.41 509.9,697.76 510.55,697.3 511.2,697.06 511.85,697.02 512.5,697.1 513.15,697.28 513.8,697.53 514.45,697.86 515.1,698.26 515.75,698.73 516.4,699.26 517.04,699.84 517.69,700.48 518.34,701.16 518.99,701.88 519.64,702.63 520.29,703.42 520.94,704.22 521.59,705.05 522.24,705.89 522.89,706.73 523.54,707.58 524.19,708.42 524.84,709.26 525.49,710.08 526.14,710.88 526.78,711.66 527.43,712.41 528.08,713.12 528.73,713.79 529.38,714.42 530.03,714.99 530.68,715.51 531.33,715.98 531.98,716.42 532.63,716.84 533.28,717.25 533.93,717.66 534.58,718.06 535.23,718.48 535.88,718.92 536.52,719.39 537.17,719.86 537.82,720.32 538.47,720.75 539.12,721.14 539.77,721.46 540.42,721.74 541.07,722.02 541.72,722.3 542.37,722.56 543.02,722.81 543.67,723.03 544.32,723.22 544.97,723.37 545.62,723.47 546.26,723.52 546.91,723.52 547.56,723.48 548.21,723.4 548.86,723.29 549.51,723.15 550.16,723 550.81,722.82 551.46,722.63 552.11,722.44 552.76,722.24 553.41,722.04 554.06,721.85 554.71,721.66 555.35,721.49 556,721.33 556.65,721.16 557.3,720.99 557.95,720.81 558.6,720.64 559.25,720.46 559.9,720.28 560.55,720.09 561.2,719.91 561.85,719.73 562.5,719.55 563.15,719.37 563.8,719.19 564.45,719.01 565.09,718.84 565.74,718.67 566.39,718.5 567.04,718.33 567.69,718.15 568.34,717.98 568.99,717.81 569.64,717.66 570.29,717.53 570.94,717.44 571.59,717.34 572.24,717.25 572.89,717.16 573.54,717.07 574.19,716.99 574.83,716.92 575.48,716.85 576.13,716.78 576.78,716.73 577.43,716.68 578.08,716.65 578.73,716.62 579.38,716.61 580.03,716.61 580.68,716.62 581.33,716.64 581.98,716.67 582.63,716.7 583.28,716.74 583.92,716.78 584.57,716.82 585.22,716.86 585.87,716.91 586.52,716.95 587.17,716.99 587.82,717.04 588.47,717.1 589.12,717.15 589.77,717.21 590.42,717.27 591.07,717.32 591.72,717.38 592.37,717.44 593.02,717.5 593.66,717.56 594.31,717.62 594.96,717.69 595.61,717.75 596.26,717.82 596.91,717.88 597.56,717.95 598.21,718.02 598.86,718.08 599.51,718.14 600.16,718.2 600.81,718.26 601.46,718.32 602.11,718.37 602.76,718.42 603.4,718.46 604.05,718.5 604.7,718.54 605.35,718.58 606,718.62 606.65,718.65 607.3,718.69 607.95,718.73 608.6,718.76 609.25,718.8 609.9,718.83 610.55,718.85 611.2,718.87 611.85,718.89 612.5,718.91 613.14,718.92 613.79,718.92 614.44,718.92 615.09,718.91 615.74,718.91 616.39,718.9 617.04,718.89 617.69,718.88 618.34,718.87 618.99,718.86 619.64,718.84 620.29,718.83 620.94,718.81 621.59,718.8 622.23,718.78 622.88,718.76 623.53,718.74 624.18,718.72 624.83,718.7 625.48,718.68 626.13,718.66 626.78,718.64 627.43,718.63 628.08,718.61 628.73,718.59 629.38,718.57 630.03,718.56 630.68,718.54 631.33,718.53 631.97,718.52 632.62,718.51 633.27,718.5 633.92,718.49 634.57,718.48 635.22,718.46 635.87,718.45 636.52,718.44 637.17,718.43 637.82,718.42 638.47,718.41 639.12,718.4 639.77,718.4 640.42,718.39 641.07,718.38 641.71,718.37 642.36,718.36 643.01,718.35 643.66,718.35 644.31,718.34 644.96,718.34 645.61,718.33 646.26,718.33 646.91,718.33 647.56,718.33 648.21,718.33 648.86,718.33 649.51,718.33 650.16,718.33 650.8,718.34 651.45,718.34 652.1,718.34 652.75,718.35 653.4,718.36 654.05,718.36 654.7,718.37 655.35,718.38 656,718.38 656.65,718.39 657.3,718.4 657.95,718.41 658.6,718.42 659.25,718.43 659.9,718.43 660.54,718.44 661.19,718.45 661.84,718.46 662.49,718.46 663.14,718.47 663.79,718.48 664.44,718.48 665.09,718.49 665.74,718.49 666.39,718.5 667.04,718.5 667.69,718.5 668.34,718.51 668.99,718.51 669.64,718.51 670.28,718.51 670.93,718.51 671.58,718.52 672.23,718.52 672.88,718.52 673.53,718.52 674.18,718.53 674.83,718.53 675.48,718.53 676.13,718.53 676.78,718.53 677.43,718.53 678.08,718.53 678.73,718.54 679.37,718.54 680.02,718.54 680.67,718.54 681.32,718.54 681.97,718.54 682.62,718.54 683.27,718.54 683.92,718.54 684.57,718.54 685.22,718.54 685.87,718.54 686.52,718.53 687.17,718.53 687.82,718.53 688.47,718.53 689.11,718.53 689.76,718.53 690.41,718.52 691.06,718.52 691.71,718.52 692.36,718.52 693.01,718.52 693.66,718.51 694.31,718.51 694.96,718.51 695.61,718.51 696.26,718.51 696.91,718.5 697.56,718.5 698.21,718.5 698.85,718.5 699.5,718.5 700.15,718.5 700.8,718.5 701.45,718.49 702.1,718.49 702.75,718.49 703.4,718.49 704.05,718.49 704.7,718.48 705.35,718.48 706,718.48 706.65,718.48 707.3,718.48 707.95,718.48 708.59,718.48 709.24,718.48 709.89,718.47 710.54,718.47 711.19,718.47 711.84,718.47 712.49,718.47 713.14,718.47 713.79,718.47 714.44,718.47 715.09,718.47 715.74,718.47 716.39,718.47 717.04,718.47 717.68,718.48 718.33,718.48 718.98,718.48 719.63,718.48 720.28,718.48 720.93,718.48 721.58,718.48 722.23,718.48 722.88,718.48 723.53,718.48 724.18,718.48 724.83,718.48 725.48,718.48 726.13,718.48 726.78,718.48 727.42,718.48 728.07,718.48 728.72,718.49 729.37,718.49 730.02,718.49 730.67,718.49 731.32,718.49 731.97,718.49 732.62,718.49 733.27,718.49 733.92,718.49 734.57,718.49 735.22,718.49 735.87,718.49 736.52,718.5 737.16,718.5 737.81,718.5 738.46,718.5 739.11,718.5 739.76,718.5 740.41,718.5 741.06,718.5 741.71,718.5 742.36,718.5 743.01,718.5 743.66,718.5 744.31,718.5 744.96,718.5 745.61,718.5 746.25,718.5 746.9,718.5 747.55,718.5 748.2,718.5 748.85,718.5 749.5,718.5 750.15,718.5 750.8,718.5 751.45,718.5 752.1,718.5 752.75,718.5 753.4,718.5 754.05,718.5 754.7,718.5 755.35,718.5 755.99,718.5 756.64,718.5 757.29,718.5 757.94,718.5 758.59,718.5 759.24,718.5 759.89,718.5 760.54,718.5 761.19,718.5 761.84,718.5 762.49,718.5 763.14,718.5 763.79,718.5 764.44,718.5 765.09,718.5 765.73,718.5 766.38,718.5 767.03,718.5 767.68,718.5 768.33,718.5 768.98,718.5 769.63,718.5 770.28,718.5 770.93,718.5 771.58,718.5 772.23,718.5 772.88,718.5 773.53,718.5 774.18,718.5 774.83,718.5 775.47,718.5 776.12,718.5 776.77,718.5 777.42,718.5 778.07,718.5 778.72,718.5 779.37,718.5 780.02,718.5 780.67,718.5 781.32,718.5 781.97,718.5 782.62,718.5 783.27,718.5 783.92,718.5 784.56,718.5 785.21,718.5 785.86,718.5 786.51,718.5 787.16,718.5 787.81,718.5 788.46,718.5 789.11,718.5 789.76,718.5 790.41,718.5 791.06,718.5 791.71,718.5 792.36,718.5 793.01,718.5 793.66,718.5 794.3,718.5 794.95,718.5 795.6,718.5 796.25,718.5 796.9,718.5 797.55,718.5 798.2,718.5 798.85,718.5 799.5,718.5 800.15,718.5 800.8,718.5 801.45,718.5 802.1,718.5 802.75,718.5 803.4,718.5 804.04,718.5 804.69,718.5 805.34,718.5 805.99,718.5 806.64,718.5 807.29,718.5 807.94,718.5 808.59,718.5 809.24,718.5 809.89,718.5" fill="none" stroke="#7E2F8E" stroke-width="8.33" stroke-linejoin="round"/>
<path d="M369,1317 369.65,1317 370.3,1317 370.95,1317 371.6,1317 372.25,1317 372.9,1317 373.55,1317 374.19,1317 374.84,1317 375.49,1317 376.14,1317 376.79,1317 377.44,1317 378.09,1317 378.74,1317 379.39,1317 380.04,1317 380.69,1317 381.34,1317 381.99,1317 382.64,1317 383.29,1317 383.93,1317 384.58,1317 385.23,1317 385.88,1317 386.53,1317 387.18,1317 387.83,1317 388.48,1317 389.13,1317 389.78,1317 390.43,1317 391.08,1317 391.73,1317 392.38,1317 393.02,1317 393.67,1317 394.32,1317 394.97,1317 395.62,1317 396.27,1317 396.92,1317 397.57,1317 398.22,1317 398.87,1317 399.52,1317 400.17,1317 400.82,1317 401.47,1317 402.12,1317 402.76,1317 403.41,1317 404.06,1317 404.71,1317 405.36,1317 406.01,1317 406.66,1317 407.31,1317 407.96,1317 408.61,1317 409.26,1317 409.91,1317 410.56,1317 411.21,1317 411.86,1317 412.5,1317 413.15,1317 413.8,1317 414.45,1317 415.1,1317 415.75,1317 416.4,1317 417.05,1317 417.7,1317 418.35,1317 419,1317 419.65,1317 420.3,1317 420.95,1317 421.59,1317 422.24,1317 422.89,1317 423.54,1317 424.19,1317 424.84,1316.03 425.49,1312.52 426.14,1304.45 426.79,1289.01 427.44,1270.59 428.09,1252.29 428.74,1222.75 429.39,1177.33 430.04,1109.36 430.69,1019.13 431.33,917.8 431.98,816.53 432.63,726.48 433.28,650.04 433.93,578.92 434.58,512.97 435.23,449.52 435.88,404.29 436.53,369.71 437.18,342.37 437.83,323.83 438.48,310.61 439.13,299.82 439.78,293.87 440,293.39 440.43,294.08 441.07,297.39 441.72,302.57 442.37,308.7 443.02,318.17 443.67,332.92 444.32,351.28 444.97,371.56 445.62,392.02 446.27,410.95 446.92,427.17 447.57,442.84 448.22,458.27 448.87,473.29 449.52,487.76 450.17,501.49 450.81,514.34 451.46,526.36 452.11,538.27 452.76,550.15 453.41,561.94 454.06,573.63 454.71,585.16 455.36,596.52 456.01,607.66 456.66,618.55 457.31,629.16 457.96,639.45 458.61,649.38 459.26,658.93 459.9,668.06 460.55,676.74 461.2,684.92 461.85,692.58 462.5,699.68 463.15,706.2 463.8,712.08 464.45,717.3 465.1,721.99 465.75,726.5 466.4,730.84 467.05,734.98 467.7,738.91 468.35,742.6 469,746.05 469.64,749.22 470.29,752.11 470.94,754.69 471.59,756.94 472.24,758.85 472.89,760.39 473.54,761.74 474.19,763.05 474.84,764.3 475.49,765.47 476.14,766.55 476.79,767.52 477.44,768.35 478.09,769.03 478.74,769.54 479.38,769.86 480.03,769.97 480.68,769.83 481.33,769.42 481.98,768.77 482.63,767.92 483.28,766.89 483.93,765.72 484.58,764.44 485.23,763.08 485.88,761.66 486.53,760.22 487.18,758.79 487.83,757.4 488.47,755.94 489.12,754.3 489.77,752.48 490.42,750.52 491.07,748.44 491.72,746.25 492.37,743.98 493.02,741.65 493.67,739.29 494.32,736.9 494.97,734.52 495.62,732.17 496.27,729.86 496.92,727.62 497.57,725.47 498.21,723.43 498.86,721.53 499.51,719.78 500.16,718.19 500.81,716.63 501.46,715.03 502.11,713.39 502.76,711.75 503.41,710.11 504.06,708.49 504.71,706.91 505.36,705.39 506.01,703.95 506.66,702.59 507.31,701.34 507.95,700.22 508.6,699.24 509.25,698.41 509.9,697.76 510.55,697.3 511.2,697.06 511.85,697.02 512.5,697.1 513.15,697.28 513.8,697.53 514.45,697.86 515.1,698.26 515.75,698.73 516.4,699.26 517.04,699.84 517.69,700.48 518.34,701.16 518.99,701.88 519.64,702.63 520.29,703.42 520.94,704.22 521.59,705.05 522.24,705.89 522.89,706.73 523.54,707.58 524.19,708.42 524.84,709.26 525.49,710.08 526.14,710.88 526.78,711.66 527.43,712.41 528.08,713.12 528.73,713.79 529.38,714.42 530.03,714.99 530.68,715.51 531.33,715.98 531.98,716.42 532.63,716.84 533.28,717.25 533.93,717.66 534.58,718.06 535.23,718.48 535.88,718.92 536.52,719.39 537.17,719.86 537.82,720.32 538.47,720.75 539.12,721.14 539.77,721.46 540.42,721.74 541.07,722.02 541.72,722.3 542.37,722.56 543.02,722.81 543.67,723.03 544.32,723.22 544.97,723.37 545.62,723.47 546.26,723.52 546.91,723.52 547.56,723.48 548.21,723.4 548.86,723.29 549.51,723.15 550.16,723 550.81,722.82 551.46,722.63 552.11,722.44 552.76,722.24 553.41,722.04 554.06,721.85 554.71,721.66 555.35,721.49 556,721.33 556.65,721.16 557.3,720.99 557.95,720.81 558.6,720.64 559.25,720.46 559.9,720.28 560.55,720.09 561.2,719.91 561.85,719.73 562.5,719.55 563.15,719.37 563.8,719.19 564.45,719.01 565.09,718.84 565.74,718.67 566.39,718.5 567.04,718.33 567.69,718.15 568.34,717.98 568.99,717.81 569.64,717.66 570.29,717.53 570.94,717.44 571.59,717.34 572.24,717.25 572.89,717.16 573.54,717.07 574.19,716.99 574.83,716.92 575.48,716.85 576.13,716.78 576.78,716.73 577.43,716.68 578.08,716.65 578.73,716.62 579.38,716.61 580.03,716.61 580.68,716.62 581.33,716.64 581.98,716.67 582.63,716.7 583.28,716.74 583.92,716.78 584.57,716.82 585.22,716.86 585.87,716.91 586.52,716.95 587.17,716.99 587.82,717.04 588.47,717.1 589.12,717.15 589.77,717.21 590.42,717.27 591.07,717.32 591.72,717.38 592.37,717.44 593.02,717.5 593.66,717.56 594.31,717.62 594.96,717.69 595.61,717.75 596.26,717.82 596.91,717.88 597.56,717.95 598.21,718.02 598.86,718.08 599.51,718.14 600.16,718.2 600.81,718.26 601.46,718.32 602.11,718.37 602.76,718.42 603.4,718.46 604.05,718.5 604.7,718.54 605.35,718.58 606,718.62 606.65,718.65 607.3,718.69 607.95,718.73 608.6,718.76 609.25,718.8 609.9,718.83 610.55,718.85 611.2,718.87 611.85,718.89 612.5,718.91 613.14,718.92 613.79,718.92 614.44,718.92 615.09,718.91 615.74,718.91 616.39,718.9 617.04,718.89 617.69,718.88 618.34,718.87 618.99,718.86 619.64,718.84 620.29,718.83 620.94,718.81 621.59,718.8 622.23,718.78 622.88,718.76 623.53,718.74 624.18,718.72 624.83,718.7 625.48,718.68 626.13,718.66 626.78,718.64 627.43,718.63 628.08,718.61 628.73,718.59 629.38,718.57 630.03,718.56 630.68,718.54 631.33,718.53 631.97,718.52 632.62,718.51 633.27,718.5 633.92,718.49 634.57,718.48 635.22,718.46 635.87,718.45 636.52,718.44 637.17,718.43 637.82,718.42 638.47,718.41 639.12,718.4 639.77,718.4 640.42,718.39 641.07,718.38 641.71,718.37 642.36,718.36 643.01,718.35 643.66,718.35 644.31,718.34 644.96,718.34 645.61,718.33 646.26,718.33 646.91,718.33 647.56,718.33 648.21,718.33 648.86,718.33 649.51,718.33 650.16,718.33 650.8,718.34 651.45,718.34 652.1,718.34 652.75,718.35 653.4,718.36 654.05,718.36 654.7,718.37 655.35,718.38 656,718.38 656.65,718.39 657.3,718.4 657.95,718.41 658.6,718.42 659.25,718.43 659.9,718.43 660.54,718.44 661.19,718.45 661.84,718.46 662.49,718.46 663.14,718.47 663.79,718.48 664.44,718.48 665.09,718.49 665.74,718.49 666.39,718.5 667.04,718.5 667.69,718.5 668.34,718.51 668.99,718.51 669.64,718.51 670.28,718.51 670.93,718.51 671.58,718.52 672.23,718.52 672.88,718.52 673.53,718.52 674.18,718.53 674.83,718.53 675.48,718.53 676.13,718.53 676.78,718.53 677.43,718.53 678.08,718.53 678.73,718.54 679.37,718.54 680.02,718.54 680.67,718.54 681.32,718.54 681.97,718.54 682.62,718.54 683.27,718.54 683.92,718.54 684.57,718.54 685.22,718.54 685.87,718.54 686.52,718.53 687.17,718.53 687.82,718.53 688.47,718.53 689.11,718.53 689.76,718.53 690.41,718.52 691.06,718.52 691.71,718.52 692.36,718.52 693.01,718.52 693.66,718.51 694.31,718.51 694.96,718.51 695.61,718.51 696.26,718.51 696.91,718.5 697.56,718.5 698.21,718.5 698.85,718.5 699.5,718.5 700.15,718.5 700.8,718.5 701.45,718.49 702.1,718.49 702.75,718.49 703.4,718.49 704.05,718.49 704.7,718.48 705.35,718.48 706,718.48 706.65,718.48 707.3,718.48 707.95,718.48 708.59,718.48 709.24,718.48 709.89,718.47 710.54,718.47 711.19,718.47 711.84,718.47 712.49,718.47 713.14,718.47 713.79,718.47 714.44,718.47 715.09,718.47 715.74,718.47 716.39,718.47 717.04,718.47 717.68,718.48 718.33,718.48 718.98,718.48" fill="none" stroke="#77AC30" stroke-width="8.33" stroke-linejoin="round"/>
<path d="M369,1317 369.65,1317 370.3,1317 370.95,1317 371.6,1317 372.25,1317 372.9,1317 373.55,1317 374.19,1317 374.84,1317 375.49,1317 376.14,1317 376.79,1317 377.44,1317 378.09,1317 378.74,1317 379.39,1317 380.04,1317 380.69,1317 381.34,1317 381.99,1317 382.64,1317 383.29,1317 383.93,1317 384.58,1317 385.23,1317 385.88,1317 386.53,1317 387.18,1317 387.83,1317 388.48,1317 389.13,1317 389.78,1317 390.43,1317 391.08,1317 391.73,1317 392.38,1317 393.02,1317 393.67,1317 394.32,1317 394.97,1317 395.62,1317 396.27,1317 396.92,1317 397.57,1317 398.22,1317 398.87,1317 399.52,1317 400.17,1317 400.82,1317 401.47,1317 402.12,1317 402.76,1317 403.41,1317 404.06,1317 404.71,1317 405.36,1317 406.01,1317 406.66,1317 407.31,1317 407.96,1317 408.61,1317 409.26,1317 409.91,1317 410.56,1317 411.21,1317 411.86,1317 412.5,1317 413.15,1317 413.8,1317 414.45,1317 415.1,1317 415.75,1317 416.4,1317 417.05,1317 417.7,1317 418.35,1317 419,1317 419.65,1317 420.3,1317 420.95,1317 421.59,1317 422.24,1317 422.89,1317 423.54,1317 424.19,1317 424.84,1316.03 425.49,1312.52 426.14,1304.45 426.79,1289.01 427.44,1270.59 428.09,1252.29 428.74,1222.75 429.39,1177.33 430.04,1109.36 430.69,1019.13 431.33,917.81 431.98,816.55 432.63,726.52 433.28,650.14 433.93,579.13 434.58,513.4 435.23,450.32 435.88,405.68 436.53,371.94 437.18,345.66 437.83,328.3 438.48,316.23 439.13,306.33 439.78,300.84 440,300.39 440.43,300.96 441.07,303.67 441.72,307.86 442.37,312.81 443.02,321.12 443.67,334.88 444.32,352.48 444.97,372.23 445.62,392.37 446.27,411.12 446.92,427.25 447.57,442.87 448.22,458.28 448.87,473.3 449.52,487.76 450.17,501.49 450.81,514.34 451.46,526.36 452.11,538.27 452.76,550.15 453.41,561.94 454.06,573.63 454.71,585.16 455.36,596.52 456.01,607.66 456.66,618.55 457.31,629.16 457.96,639.45 458.61,649.38 459.26,658.93 459.9,668.06 460.55,676.74 461.2,684.92 461.85,692.58 462.5,699.68 463.15,706.2 463.8,712.08 464.45,717.3 465.1,721.99 465.75,726.5 466.4,730.84 467.05,734.98 467.7,738.91 468.35,742.6 469,746.05 469.64,749.22 470.29,752.11 470.94,754.69 471.59,756.94 472.24,758.85 472.89,760.39 473.54,761.74 474.19,763.05 474.84,764.3 475.49,765.47 476.14,766.55 476.79,767.52 477.44,768.35 478.09,769.03 478.74,769.54 479.38,769.86 480.03,769.97 480.68,769.83 481.33,769.42 481.98,768.77 482.63,767.92 483.28,766.89 483.93,765.72 484.58,764.44 485.23,763.08 485.88,761.66 486.53,760.22 487.18,758.79 487.83,757.4 488.47,755.94 489.12,754.3 489.77,752.48 490.42,750.52 491.07,748.44 491.72,746.25 492.37,743.98 493.02,741.65 493.67,739.29 494.32,736.9 494.97,734.52 495.62,732.17 496.27,729.86 496.92,727.62 497.57,725.47 498.21,723.43 498.86,721.53 499.51,719.78 500.16,718.19 500.81,716.63 501.46,715.03 502.11,713.39 502.76,711.75 503.41,710.11 504.06,708.49 504.71,706.91 505.36,705.39 506.01,703.95 506.66,702.59 507.31,701.34 507.95,700.22 508.6,699.24 509.25,698.41 509.9,697.76 510.55,697.3 511.2,697.06 511.85,697.02 512.5,697.1 513.15,697.28 513.8,697.53 514.45,697.86 515.1,698.26 515.75,698.73 516.4,699.26 517.04,699.84 517.69,700.48 518.34,701.16 518.99,701.88 519.64,702.63 520.29,703.42 520.94,704.22 521.59,705.05 522.24,705.89 522.89,706.73 523.54,707.58 524.19,708.42 524.84,709.26 525.49,710.08 526.14,710.88 526.78,711.66 527.43,712.41 528.08,713.12 528.73,713.79 529.38,714.42 530.03,714.99 530.68,715.51 531.33,715.98 531.98,716.42 532.63,716.84 533.28,717.25 533.93,717.66 534.58,718.06 535.23,718.48 535.88,718.92 536.52,719.39 537.17,719.86 537.82,720.32 538.47,720.75 539.12,721.14 539.77,721.46 540.42,721.74 541.07,722.02 541.72,722.3 542.37,722.56 543.02,722.81 543.67,723.03 544.32,723.22 544.97,723.37 545.62,723.47 546.26,723.52 546.91,723.52 547.56,723.48 548.21,723.4 548.86,723.29 549.51,723.15 550.16,723 550.81,722.82 551.46,722.63 552.11,722.44 552.76,722.24 553.41,722.04 554.06,721.85 554.71,721.66 555.35,721.49 556,721.33 556.65,721.16 557.3,720.99 557.95,720.81 558.6,720.64 559.25,720.46 559.9,720.28 560.55,720.09 561.2,719.91 561.85,719.73 562.5,719.55 563.15,719.37 563.8,719.19 564.45,719.01 565.09,718.84 565.74,718.67 566.39,718.5 567.04,718.33 567.69,718.15 568.34,717.98 568.99,717.81 569.64,717.66 570.29,717.53 570.94,717.44 571.59,717.34 572.24,717.25 572.89,717.16 573.54,717.07 573.99,717.02" fill="none" stroke="#4DBEEE" stroke-width="8.33" stroke-linejoin="round"/>
<text x="369" y="1417.4" font-size="91.67" text-anchor="middle">0</text>
<text x="693.7" y="1417.4" font-size="91.67" text-anchor="middle">5</text>
<text x="1018.3" y="1417.4" font-size="91.67" text-anchor="middle">10</text>
<text x="1343" y="1417.4" font-size="91.67" text-anchor="middle">15</text>
<text x="1667.6" y="1417.4" font-size="91.67" text-anchor="middle">20</text>
<text x="1992.3" y="1417.4" font-size="91.67" text-anchor="middle">25</text>
<text x="343.4" y="1338.6" font-size="91.67" text-anchor="end">0</text>
<text x="343.4" y="1039.3" font-size="91.67" text-anchor="end">0.5</text>
<text x="343.4" y="740.1" font-size="91.67" text-anchor="end">1</text>
<text x="343.4" y="440.9" font-size="91.67" text-anchor="end">1.5</text>
<text x="343.4" y="141.6" font-size="91.67" text-anchor="end">2</text>
<rect x="1517.4" y="157.7" width="437.4" height="453.8" fill="#fff" stroke="#262626" stroke-width="5.83"/>
<path d="M1532.1,200.5H1644.6" stroke="#0072BD" stroke-width="8.33"/>
<text class="k"><tspan class="i" x="1658.42" y="215.1" font-size="62.77" textLength="46.92" lengthAdjust="spacingAndGlyphs">N</tspan> <tspan x="1725.92" y="219.14" font-size="57.2" textLength="48.48" lengthAdjust="spacingAndGlyphs">=</tspan> <tspan x="1789.4" y="216.1" font-size="61.8" textLength="150.64" lengthAdjust="spacingAndGlyphs">30000</tspan></text>
<path d="M1532.1,274.1H1644.6" stroke="#D95319" stroke-width="8.33"/>
<text class="k"><tspan class="i" x="1658.42" y="288.73" font-size="62.77" textLength="46.92" lengthAdjust="spacingAndGlyphs">N</tspan> <tspan x="1725.92" y="292.77" font-size="57.2" textLength="48.48" lengthAdjust="spacingAndGlyphs">=</tspan> <tspan x="1789.4" y="289.73" font-size="61.8" textLength="150.64" lengthAdjust="spacingAndGlyphs">10000</tspan></text>
<path d="M1532.1,347.8H1644.6" stroke="#EDB120" stroke-width="8.33"/>
<text class="k"><tspan class="i" x="1658.42" y="362.36" font-size="62.77" textLength="46.92" lengthAdjust="spacingAndGlyphs">N</tspan> <tspan x="1725.92" y="366.4" font-size="57.2" textLength="48.48" lengthAdjust="spacingAndGlyphs">=</tspan> <tspan x="1789.4" y="363.36" font-size="61.8" textLength="120.51" lengthAdjust="spacingAndGlyphs">5000</tspan></text>
<path d="M1532.1,421.4H1644.6" stroke="#7E2F8E" stroke-width="8.33"/>
<text class="k"><tspan class="i" x="1658.42" y="435.99" font-size="62.77" textLength="46.92" lengthAdjust="spacingAndGlyphs">N</tspan> <tspan x="1725.92" y="440.03" font-size="57.2" textLength="48.48" lengthAdjust="spacingAndGlyphs">=</tspan> <tspan x="1789.4" y="436.99" font-size="61.8" textLength="120.51" lengthAdjust="spacingAndGlyphs">1000</tspan></text>
<path d="M1532.1,495H1644.6" stroke="#77AC30" stroke-width="8.33"/>
<text class="k"><tspan class="i" x="1658.42" y="509.62" font-size="62.77" textLength="46.92" lengthAdjust="spacingAndGlyphs">N</tspan> <tspan x="1725.92" y="513.66" font-size="57.2" textLength="48.48" lengthAdjust="spacingAndGlyphs">=</tspan> <tspan x="1789.4" y="510.62" font-size="61.8" textLength="90.38" lengthAdjust="spacingAndGlyphs">500</tspan></text>
<path d="M1532.1,568.6H1644.6" stroke="#4DBEEE" stroke-width="8.33"/>
<text class="k"><tspan class="i" x="1658.42" y="583.25" font-size="62.77" textLength="46.92" lengthAdjust="spacingAndGlyphs">N</tspan> <tspan x="1725.92" y="587.29" font-size="57.2" textLength="48.48" lengthAdjust="spacingAndGlyphs">=</tspan> <tspan x="1789.4" y="584.25" font-size="61.8" textLength="90.38" lengthAdjust="spacingAndGlyphs">100</tspan></text>
<text transform="rotate(-90)"><tspan class="i" x="-804.75" y="182.24" font-size="91.87" textLength="48.06" lengthAdjust="spacingAndGlyphs">g</tspan><tspan x="-749.92" y="183.33" font-size="107.42" textLength="29.69" lengthAdjust="spacingAndGlyphs">(</tspan><tspan class="i" x="-718.88" y="183.1" font-size="93.59" textLength="43.95" lengthAdjust="spacingAndGlyphs">r</tspan><tspan x="-666.77" y="183.33" font-size="107.42" textLength="29.69" lengthAdjust="spacingAndGlyphs">)</tspan></text>
<text><tspan class="i" x="1154.81" y="1539" font-size="93.8" textLength="44.06" lengthAdjust="spacingAndGlyphs">r</tspan></text>
<text class="k"><tspan x="10.85" y="73.37" font-size="77.64" textLength="23.86" lengthAdjust="spacingAndGlyphs">(</tspan><tspan class="b" x="35.21" y="74.55" font-size="76.62" textLength="37.12" lengthAdjust="spacingAndGlyphs">a</tspan><tspan x="72.95" y="73.37" font-size="77.64" textLength="24.25" lengthAdjust="spacingAndGlyphs">)</tspan></text>
<g stroke="#262626" stroke-opacity="0.15" stroke-width="5.83" fill="none"><path d="M762.5,1744.3V2941.2M1069.9,1744.3V2941.2M1377.4,1744.3V2941.2M1684.8,1744.3V2941.2"/><path d="M455,2342.8H1992.3"/></g>
<g stroke="#262626" stroke-width="5.83" fill="none" stroke-linecap="square"><path d="M455,2941.2v-15.4M455,1744.3v15.4M762.5,2941.2v-15.4M762.5,1744.3v15.4M1069.9,2941.2v-15.4M1069.9,1744.3v15.4M1377.4,2941.2v-15.4M1377.4,1744.3v15.4M1684.8,2941.2v-15.4M1684.8,1744.3v15.4M1992.3,2941.2v-15.4M1992.3,1744.3v15.4M455,2941.2h15.4M1992.3,2941.2h-15.4M455,2342.8h15.4M1992.3,2342.8h-15.4M455,1744.3h15.4M1992.3,1744.3h-15.4"/><rect x="455" y="1744.3" width="1537.3" height="1196.9"/></g>
<path d="M515.3,2941.2 515.4,1744.3M545.2,1744.3 545.7,2582.9 545.9,2941.2M578,2941.2 578.3,2778.8 578.9,2452.7 579.5,2129.6 580.1,1810 580.3,1744.3M608.1,1744.3 608.4,1804.5 609,1889.4 609.7,1961.5 610.3,2052.6 610.9,2138.4 611.5,2217 612.1,2279.4 612.7,2367.2 613.3,2462.2 614,2565.5 614.6,2672.9 615.2,2749.4 615.8,2836.9 616.4,2899.3 616.9,2941.2M631.5,2941.2 631.8,2922 632.4,2890.4 633,2851.1 633.6,2824.2 634.2,2792.4 634.9,2751.3 635.5,2721.1 636.1,2674.3 636.7,2639.9 637.3,2602.2 637.9,2566.7 638.6,2537.8 639.2,2512.8 639.8,2452.3 640.4,2418.8 641,2399.6 641.6,2352.4 642.2,2325.3 642.9,2292.3 643.5,2256.4 644.1,2228.7 644.7,2191.2 645.3,2161.9 645.9,2138.6 646.5,2126.6 647.2,2099.9 647.8,2089.6 648.4,2071.4 649,2050.1 649.6,2038.6 650.2,2028.5 650.9,2011.2 651.5,2000.8 652.1,1984.3 652.7,1971.9 653.3,1966.6 653.9,1972.6 654.5,1968.9 655.2,1965.2 655.8,1982.7 656.4,1968.4 657,1971.7 657.6,1982.8 658.2,2012.5 658.8,2002.3 659.5,2026.8 660.1,2014.3 660.7,2045.6 661.3,2048.6 661.9,2044.9 662.5,2068.5 663.2,2086.9 663.8,2088 664.4,2088.1 665,2111.6 665.6,2122.3 666.2,2124.1 666.8,2136.9 667.5,2139.9 668.1,2155.2 668.7,2176.6 669.3,2192.2 669.9,2192.5 670.5,2218.3 671.1,2234.5 671.8,2236.4 672.4,2256.9 673,2276.2 673.6,2273.2 674.2,2283 674.8,2309.1 675.4,2313.9 676.1,2324.7 676.7,2331.8 677.3,2342.1 677.9,2357.1 678.5,2354 679.1,2364.3 679.8,2368.8 680.4,2372.9 681,2379.3 681.6,2389.1 682.2,2415.4 682.8,2412 683.4,2410 684.1,2410 684.7,2426.6 685.3,2428.2 685.9,2413.7 686.5,2442.8 687.1,2428.7 687.7,2430.6 688.4,2428 689,2426.4 689.6,2418.2 690.2,2414.3 690.8,2402.1 691.4,2404.1 692.1,2413.4 692.7,2408.4 693.3,2400 693.9,2387.6 694.5,2401.2 695.1,2393.8 695.7,2393.8 696.4,2381.2 697,2393.7 697.6,2380.2 698.2,2385.8 698.8,2371.7 699.4,2364.7 700,2368.6 700.7,2363.9 701.3,2351.9 701.9,2356.4 702.5,2349.1 703.1,2351.3 703.7,2352.9 704.4,2347.3 705,2329.7 705.6,2342.5 706.2,2338.3 706.8,2329.3 707.4,2332.3 708,2329.2 708.7,2316.5 709.3,2322.8 709.9,2331.3 710.5,2320.3 711.1,2326.2 711.7,2322.8 712.3,2312.5 713,2316.9 713.6,2317.5 714.2,2317.6 714.8,2312 715.4,2313.3 716,2304.9 716.6,2308.5 717.3,2309.9 717.9,2294.1 718.5,2306.2 719.1,2312.2 719.7,2315.3 720.3,2314.9 721,2316.7 721.6,2309.9 722.2,2310.3 722.8,2307.6 723.4,2317.9 724,2316 724.6,2317.9 725.3,2306.6 725.9,2316.6 726.5,2316.4 727.1,2314.2 727.7,2320.8 728.3,2324.1 728.9,2327.9 729.6,2328.7 730.2,2328.9 730.8,2331.7 731.4,2333.2 732,2322.9 732.6,2342.4 733.3,2347.8 733.9,2335.6 734.5,2331.3 735.1,2341.5 735.7,2336.4 736.3,2332.7 736.9,2343.7 737.6,2341.8 738.2,2347.9 738.8,2347.4 739.4,2346.6 740,2341 740.6,2337.4 741.2,2342.2 741.9,2351 742.5,2350.9 743.1,2349.1 743.7,2347.5 744.3,2344.8 744.9,2356.3 745.5,2354.2 746.2,2339.5 746.8,2346.7 747.4,2347.3 748,2357 748.6,2344.5 749.2,2347.2 749.9,2357.8 750.5,2356.7 751.1,2347 751.7,2357.2 752.3,2347.2 752.9,2353 753.5,2346.7 754.2,2345.2 754.8,2340.2 755.4,2358.6 756,2356.8 756.6,2349.5 757.2,2340.1 757.8,2345.8 758.5,2354.9 759.1,2343 759.7,2347.7 760.3,2340.4 760.9,2352.3 761.5,2341.4 762.2,2338.7 762.8,2350.2 763.4,2344.1 764,2342.2 764.6,2343 765.2,2348 765.8,2338.3 766.5,2347.5 767.1,2342.3 767.7,2340 768.3,2340.3 768.9,2338.8 769.5,2350.4 770.1,2352.3 770.8,2339.7 771.4,2338.8 772,2333.3 772.6,2340.9 773.2,2340.2 773.8,2346.4 774.5,2336.9 775.1,2331.6 775.7,2340.2 776.3,2335.8 776.9,2332.1 777.5,2331.9 778.1,2333 778.8,2332.4 779.4,2349.1 780,2346.1 780.6,2335.5 781.2,2345.2 781.8,2332.7 782.4,2340.1 783.1,2344.8 783.7,2333.4 784.3,2340.6 784.9,2342.2 785.5,2334.3 786.1,2338.9 786.7,2343.6 787.4,2342.7 788,2345.2 788.6,2331.4 789.2,2332.9 789.8,2338.4 790.4,2341.6 791.1,2336.8 791.7,2339.8 792.3,2335.7 792.9,2336.5 793.5,2339.1 794.1,2340.6 794.7,2337.1 795.4,2339.8 796,2346.8 796.6,2338.9 797.2,2332.8 797.8,2342 798.4,2339.5 799,2342.1 799.7,2339.8 800.3,2342.3 800.9,2331.6 801.5,2339.5 802.1,2341.4 802.7,2340.3 803.4,2341.3 804,2335.9 804.6,2344.8 805.2,2345.3 805.8,2339.9 806.4,2343 807,2344.8 807.7,2349.8 808.3,2342.5 808.9,2344.8 809.5,2338.2 810.1,2346.9 810.7,2341 811.3,2342.9 812,2345.4 812.6,2337.7 813.2,2337 813.8,2344 814.4,2343.7 815,2351.1 815.7,2339.3 816.3,2343.5 816.9,2338.4 817.5,2344.6 818.1,2340.7 818.7,2341.1 819.3,2340.9 820,2344.6 820.6,2345.4 821.2,2347.2 821.8,2342.1 822.4,2346.1 823,2341 823.6,2350.2 824.3,2337.7 824.9,2340.9 825.5,2342.7 826.1,2345.9 826.7,2346.1 827.3,2344.7 827.9,2340.5 828.6,2342.2 829.2,2341.4 829.8,2339.5 830.4,2340.6 831,2339.8 831.6,2343.2 832.3,2346.8 832.9,2337.7 833.5,2338.1 834.1,2349.4 834.7,2343.8 835.3,2334.3 835.9,2338.2 836.6,2339.1 837.2,2351.5 837.8,2344.3 838.4,2345.8 839,2343.4 839.6,2343.3 840.2,2339.2 840.9,2344.9 841.5,2343.8 842.1,2346.4 842.7,2348.4 843.3,2341.7 843.9,2339.1 844.6,2343.2 845.2,2338 845.8,2344.6 846.4,2341.2 847,2350.4 847.6,2341.8 848.2,2336.8 848.9,2345.7 849.5,2341.4 850.1,2341.7 850.7,2344.3 851.3,2342.3 851.9,2343.9 852.5,2345.7 853.2,2343.3 853.8,2344.2 854.4,2342.9 855,2351.1 855.6,2344.6 856.2,2339.4 856.9,2340.8 857.5,2338.9 858.1,2343.4 858.7,2339.5 859.3,2337.4 859.9,2344.8 860.5,2343.5 861.2,2334.6 861.8,2344.8 862.4,2349.7 863,2337.7 863.6,2342.6 864.2,2348.3 864.8,2347.5 865.5,2341.9 866.1,2348 866.7,2345.9 867.3,2348.2 867.9,2342.9 868.5,2343.3 869.1,2349.4 869.8,2338 870.4,2346.6 871,2344.7 871.6,2336.1 872.2,2343.9 872.8,2345 873.5,2345.2 874.1,2340.4 874.7,2345.2 875.3,2350 875.9,2347.7 876.5,2345.4 877.1,2343.8 877.8,2348.7 878.4,2342.8 879,2344.9 879.6,2346.8 880.2,2344.2 880.8,2337 881.4,2344.5 882.1,2343.8 882.7,2340.5 883.3,2344 883.9,2341.8 884.5,2341.9 885.1,2347.6 885.8,2341.5 886.4,2345.4 887,2344.6 887.6,2343.5 888.2,2347.2 888.8,2340.9 889.4,2340.6 890.1,2335.9 890.7,2345 891.3,2344.4 891.9,2337.7 892.5,2348.9 893.1,2345.3 893.7,2338.5 894.4,2346 895,2335.6 895.6,2344.8 896.2,2346.8 896.8,2343.2 897.4,2343.2 898,2345 898.7,2344.8 899.3,2342.9 899.9,2344.7 900.5,2346.4 901.1,2343.3 901.7,2343.7 902.4,2348.4 903,2342.3 903.6,2343.7 904.2,2339 904.8,2344.8 905.4,2346.7 906,2345.9 906.7,2339.5 907.3,2341.6 907.9,2343.5 908.5,2346.8 909.1,2345 909.7,2343.2 910.3,2341.5 911,2344.6 911.6,2339.2 912.2,2344.1 912.8,2339.5 913.4,2347.7 914,2341.3 914.7,2344.3 915.3,2349.5 915.9,2341.1 916.5,2345.1 917.1,2340 917.7,2346.9 918.3,2343.5 919,2342.2 919.6,2348.2 920.2,2344.2 920.8,2341.5 921.4,2345.8 922,2345.3 922.6,2340.7 923.3,2335.8 923.9,2345.2 924.5,2341.8 925.1,2345.2 925.7,2338.6 926.3,2344.9 927,2342.5 927.6,2339.6 928.2,2346.4 928.8,2341.5 929.4,2344 930,2348.3 930.6,2345 931.3,2343.2 931.9,2344.9 932.5,2340.6 933.1,2344.3 933.7,2342.6 934.3,2341.8 934.9,2337 935.6,2341.2 936.2,2345.4 936.8,2338.6 937.4,2342.8 938,2342.4 938.6,2346.7 939.2,2344.1 939.9,2342.5 940.5,2347.8 941.1,2344.3 941.7,2343.2 942.3,2345.4 942.9,2339.1 943.6,2338.4 944.2,2347.2 944.8,2348.8 945.4,2347.3 946,2339.3 946.6,2346.7 947.2,2343.9 947.9,2339.2 948.5,2341.2 949.1,2340.4 949.7,2343 950.3,2336.8 950.9,2344.5 951.5,2346.7 952.2,2342.9 952.8,2336.2 953.4,2338.7 954,2344 954.6,2347.8 955.2,2343 955.9,2341.7 956.5,2341.5 957.1,2343.5 957.7,2346.1 958.3,2344.7 958.9,2342.1 959.5,2339.3 960.2,2340.3 960.8,2343.9 961.4,2343.8 962,2339.9 962.6,2340.2 963.2,2341.8 963.8,2349.5 964.5,2347.1 965.1,2341.2 965.7,2340 966.3,2341.9 966.9,2342.9 967.5,2343.2 968.2,2342.2 968.8,2347.2 969.4,2345.1 970,2341.6 970.6,2344 971.2,2343.7 971.8,2343.3 972.5,2342.2 973.1,2344.7 973.7,2346.2 974.3,2342.4 974.9,2347.9 975.5,2343.7 976.1,2347.1 976.8,2340.3 977.4,2336.8 978,2346.4 978.6,2340.7 979.2,2344.6 979.8,2344.9 980.4,2344.5 981.1,2342.2 981.7,2341.5 982.3,2345.1 982.9,2344.9 983.5,2340.3 984.1,2339.5 984.8,2346.1 985.4,2344.1 986,2340.5 986.6,2337.6 987.2,2342.6 987.8,2341.9 988.4,2345.6 989.1,2340.5 989.7,2341.9 990.3,2344.2 990.9,2343.2 991.5,2337.3 992.1,2339.2 992.7,2339.2 993.4,2345.6 994,2346.4 994.6,2347.3 995.2,2341.5 995.8,2346.3 996.4,2345.9 997.1,2340.1 997.7,2348 998.3,2341.8 998.9,2346.4 999.5,2342.9 1000.1,2337 1000.7,2342.3 1001.4,2343.9 1002,2343.7 1002.6,2343.8 1003.2,2344.6 1003.8,2347.5 1004.4,2345.4 1005,2339.7 1005.7,2340 1006.3,2341.5 1006.9,2343.3 1007.5,2341.6 1008.1,2342.5 1008.7,2341.6 1009.4,2339.2 1010,2340 1010.6,2344 1011.2,2345.4 1011.8,2348.4 1012.4,2345 1013,2343.4 1013.7,2343.5 1014.3,2343.3 1014.9,2342.1 1015.5,2340.6 1016.1,2347 1016.7,2345.6 1017.3,2345.6 1018,2341.4 1018.6,2338.6 1019.2,2342.6 1019.8,2342 1020.4,2344.4 1021,2345.6 1021.6,2344.8 1022.3,2339.2 1022.9,2343.2 1023.5,2343.7 1024.1,2341.6 1024.7,2342.9 1025.3,2340.4 1026,2343.1 1026.6,2342.4 1027.2,2341.9 1027.8,2344.6 1028.4,2344.1 1029,2341.6 1029.6,2342.8 1030.3,2344.5 1030.9,2343.1 1031.5,2337.2 1032.1,2343.6 1032.7,2345 1033.3,2342.1 1033.9,2339.1 1034.6,2343.6 1035.2,2343.7 1035.8,2344.2 1036.4,2346.3 1037,2343.4 1037.6,2340.5 1038.3,2342.1 1038.9,2342.9 1039.5,2347.3 1040.1,2344 1040.7,2345.9 1041.3,2349.2 1041.9,2344.6 1042.6,2341.7 1043.2,2345.5 1043.8,2345.2 1044.4,2339 1045,2341.6 1045.6,2340.1 1046.2,2340 1046.9,2341.6 1047.5,2343.3 1048.1,2342.1 1048.7,2339.7 1049.3,2342.6 1049.9,2342.8 1050.6,2342.7 1051.2,2341 1051.8,2344.4 1052.4,2339.2 1053,2340.9 1053.6,2344.7 1054.2,2339 1054.9,2347.2 1055.5,2348.7 1056.1,2341.8 1056.7,2345 1057.3,2344.7 1057.9,2342 1058.5,2340.6 1059.2,2337.9 1059.8,2342.1 1060.4,2344.9 1061,2341.8 1061.6,2344 1062.2,2344.5 1062.8,2340.7 1063.5,2340.2 1064.1,2347.6 1064.7,2340.8 1065.3,2342.9 1065.9,2342 1066.5,2345.6 1067.2,2345.7 1067.8,2344.4 1068.4,2342 1069,2343.7 1069.6,2344.2 1070.2,2341.2 1070.8,2345.2 1071.5,2347.7 1072.1,2342.3 1072.7,2346.1 1073.3,2342.9 1073.9,2340.8 1074.5,2345.3 1075.1,2344.7 1075.8,2346.5 1076.4,2343.6 1077,2345.2 1077.6,2347.6 1078.2,2344 1078.8,2341.2 1079.5,2346.3 1080.1,2342.9 1080.7,2345 1081.3,2347.6 1081.9,2340.3 1082.5,2342.4 1083.1,2343.2 1083.8,2345.2 1084.4,2347.6 1085,2341.4 1085.6,2345.1 1086.2,2339.4 1086.8,2345.1 1087.4,2344.3 1088.1,2343.8 1088.7,2344 1089.3,2342.5 1089.9,2343.6 1090.5,2343.1 1091.1,2344.7 1091.7,2340.1 1092.4,2343.2 1093,2344.2 1093.6,2343.2 1094.2,2345.5 1094.8,2344.3 1095.4,2342.9 1096.1,2342.8 1096.7,2339.5 1097.3,2343.5 1097.9,2342.6 1098.5,2345.5 1099.1,2340.7 1099.7,2343.9 1100.4,2339 1101,2347.2 1101.6,2340.3 1102.2,2343.8 1102.8,2343.8 1103.4,2345.8 1104,2342 1104.7,2340.7 1105.3,2346.2 1105.9,2342.8 1106.5,2344.9 1107.1,2342.7 1107.7,2342.7 1108.4,2346 1109,2347.4 1109.6,2343.8 1110.2,2341.7 1110.8,2346 1111.4,2343.5 1112,2342 1112.7,2344.8 1113.3,2345.9 1113.9,2344.2 1114.5,2341.7 1115.1,2343.4 1115.7,2340.6 1116.3,2346.1 1117,2338.3 1117.6,2342.7 1118.2,2344.9 1118.8,2340.4 1119.4,2344.3 1120,2344.9 1120.7,2344.4 1121.3,2348.5 1121.9,2341.9 1122.5,2343.8 1123.1,2344.4 1123.7,2345.7 1124.3,2340.3 1125,2343.5 1125.6,2344.3 1126.2,2341.7 1126.8,2344.6 1127.4,2344.6 1128,2341.6 1128.6,2341.9 1129.3,2342.1 1129.9,2342.1 1130.5,2343.4 1131.1,2345.3 1131.7,2343.5 1132.3,2339.7 1132.9,2344 1133.6,2341.2 1134.2,2344.8 1134.8,2342.7 1135.4,2344.8 1136,2342.9 1136.6,2344.4 1137.3,2346.9 1137.9,2344 1138.5,2341.4 1139.1,2344.7 1139.7,2344.4 1140.3,2344.2 1140.9,2344.3 1141.6,2341.6 1142.2,2343 1142.8,2343.8 1143.4,2345.7 1144,2340.4 1144.6,2343.6 1145.2,2344 1145.9,2345.9 1146.5,2342.1 1147.1,2342.9 1147.7,2343.3 1148.3,2346.6 1148.9,2346.5 1149.6,2343.9 1150.2,2338.7 1150.8,2343.5 1151.4,2341.7 1152,2339.4 1152.6,2340.4 1153.2,2342.9 1153.9,2346.9 1154.5,2342.7 1155.1,2341.8 1155.7,2342.4 1156.3,2344.2 1156.9,2345.9 1157.5,2342 1158.2,2340.9 1158.8,2343.2 1159.4,2343.6 1160,2342.5 1160.6,2346 1161.2,2344.6 1161.9,2343.4 1162.5,2346 1163.1,2341.8 1163.7,2343.2 1164.3,2341.9 1164.9,2346.2 1165.5,2342.7 1166.2,2345.1 1166.8,2342.6 1167.4,2345.2 1168,2342.7 1168.6,2338.4 1169.2,2344.8 1169.8,2342.6 1170.5,2342.4 1171.1,2341 1171.7,2341.8 1172.3,2341.6 1172.9,2345.8 1173.5,2344.1 1174.1,2345.9 1174.8,2345.3 1175.4,2340.5 1176,2343.6 1176.6,2345.5 1177.2,2343.8 1177.8,2341.2 1178.5,2344.9 1179.1,2343.9 1179.7,2345 1180.3,2345.1 1180.9,2342.3 1181.5,2340.6 1182.1,2344.5 1182.8,2340 1183.4,2344.9 1184,2339.5 1184.6,2342.7 1185.2,2339.4 1185.8,2345.2 1186.4,2341.5 1187.1,2341.3 1187.7,2345.1 1188.3,2345.3 1188.9,2343.5 1189.5,2344.6 1190.1,2341.2 1190.8,2344.2 1191.4,2343.5 1192,2343.1 1192.6,2339.7 1193.2,2341.1 1193.8,2341.7 1194.4,2343.1 1195.1,2342.5 1195.7,2346.9 1196.3,2343.6 1196.9,2345.2 1197.5,2343.1 1198.1,2343.4 1198.7,2344.4 1199.4,2343 1200,2342.9 1200.6,2345.3 1201.2,2341.9 1201.8,2342.5 1202.4,2343.5 1203.1,2342.5 1203.7,2340.8 1204.3,2341 1204.9,2341.4 1205.5,2342.7 1206.1,2338.9 1206.7,2339.9 1207.4,2346.9 1208,2341.6 1208.6,2347.3 1209.2,2341.3 1209.8,2341.2 1210.4,2343 1211,2343.2 1211.7,2342.3 1212.3,2341.8 1212.9,2342.7 1213.5,2345.9 1214.1,2344.2 1214.7,2341.2 1215.3,2342.9 1216,2343.1 1216.6,2340.7 1217.2,2343.7 1217.8,2344.9 1218.4,2345 1219,2340.1 1219.7,2344.3 1220.3,2340.5 1220.9,2343 1221.5,2343.6 1222.1,2342.3 1222.7,2343.7 1223.3,2345.2 1224,2341.7 1224.6,2341.8 1225.2,2344.4 1225.8,2344.7 1226.4,2339.2 1227,2342.7 1227.6,2341.6 1228.3,2344.7 1228.9,2344.9 1229.5,2339.9 1230.1,2345.5 1230.7,2346 1231.3,2342 1232,2343.5 1232.6,2345 1233.2,2345.2 1233.8,2342.7 1234.4,2342.9 1235,2343.5 1235.6,2344.4 1236.3,2340.8 1236.9,2346.3 1237.5,2341.3 1238.1,2338.8 1238.7,2343.8 1239.3,2342.3 1239.9,2345.3 1240.6,2344.5 1241.2,2339.1 1241.8,2342.1 1242.4,2341.1 1243,2341.5 1243.6,2346.5 1244.2,2346.3 1244.9,2344.3 1245.5,2341.9 1246.1,2346.3 1246.7,2342 1247.3,2343.2 1247.9,2340.5 1248.6,2343.8 1249.2,2344.5 1249.8,2344.1 1250.4,2344.1 1251,2344.6 1251.6,2345.3 1252.2,2342.7 1252.9,2338.9 1253.5,2342.4 1254.1,2340.4 1254.7,2345.1 1255.3,2341.5 1255.9,2342.7 1256.5,2341.5 1257.2,2342.5 1257.8,2344.5 1258.4,2344.7 1259,2342.5 1259.6,2344.1 1260.2,2341.8 1260.9,2344.5 1261.5,2343.3 1262.1,2342.4 1262.7,2342.8 1263.3,2342.7 1263.9,2342.8 1264.5,2346.4 1265.2,2347.4 1265.8,2341.2 1266.4,2340.8 1267,2341.8 1267.6,2341.5 1268.2,2343.8 1268.8,2347.5 1269.5,2343.9 1270.1,2340.9 1270.7,2343.9 1271.3,2343.9 1271.9,2342 1272.5,2344 1273.2,2343.8 1273.8,2344.5 1274.4,2343.6 1275,2342.5 1275.6,2340.6 1276.2,2340.7 1276.8,2344 1277.5,2343.5 1278.1,2342.1 1278.7,2344 1279.3,2347 1279.9,2340.1 1280.5,2344.9 1281.1,2343 1281.8,2343.4 1282.4,2343 1283,2343.9 1283.6,2342.9 1284.2,2346.2 1284.8,2342.9 1285.4,2344.4 1286.1,2343.7 1286.7,2342 1287.3,2343.2 1287.9,2341.7 1288.5,2343.8 1289.1,2339.6 1289.8,2344.2 1290.4,2344.2 1291,2343.9 1291.6,2342.4 1292.2,2344.3 1292.8,2341.9 1293.4,2343.7 1294.1,2342.8 1294.7,2344.2 1295.3,2340.7 1295.9,2345.1 1296.5,2345 1297.1,2341.5 1297.7,2343.3 1298.4,2342.1 1299,2340.9 1299.6,2341.9 1300.2,2344.5 1300.8,2343.1 1301.4,2346.1 1302.1,2344 1302.7,2344.3 1303.3,2344.6 1303.9,2344.5 1304.5,2343.4 1305.1,2342.8 1305.7,2347.3 1306.4,2341.2 1307,2343.8 1307.6,2343.5 1308.2,2342.5 1308.8,2339.3 1309.4,2339.4 1310,2344.2 1310.7,2341.5 1311.3,2342.7 1311.9,2343.2 1312.5,2344.6 1313.1,2343.8 1313.7,2342.4 1314.4,2342.8 1315,2339.2 1315.6,2344.5 1316.2,2343.1 1316.8,2343.1 1317.4,2341.3 1318,2342.8 1318.7,2342.3 1319.3,2344.5 1319.9,2342.5 1320.5,2343.7 1321.1,2342.4 1321.7,2339.9 1322.3,2341.8 1323,2344.2 1323.6,2344.1 1324.2,2343.3 1324.8,2342.4 1325.4,2342.1 1326,2344.7 1326.6,2341.1 1327.3,2343.1 1327.9,2344.5 1328.5,2346 1329.1,2344.8 1329.7,2346.3 1330.3,2341.4 1331,2343 1331.6,2342.6 1332.2,2345.1 1332.8,2347.2 1333.4,2343.5 1334,2343.8 1334.6,2343.9 1335.3,2343.3 1335.9,2343.5 1336.5,2347 1337.1,2343 1337.7,2342 1338.3,2343.6 1338.9,2346.9 1339.6,2343.4 1340.2,2344.7 1340.8,2342.6 1341.4,2339.7 1342,2345.8 1342.6,2346.4 1343.3,2342 1343.9,2346.4 1344.5,2341.8 1345.1,2343.3 1345.7,2344.3 1346.3,2346 1346.9,2343.9 1347.6,2343.9 1348.2,2342.7 1348.8,2340.9 1349.4,2344.6 1350,2341.9 1350.6,2341.8 1351.2,2344.2 1351.9,2344.3 1352.5,2342.2 1353.1,2346.8 1353.6,2342.7 1353.9,2345.9 1354.2,2344.2 1354.5,2343.2 1354.8,2344.5 1355.1,2344.2 1355.4,2343.8 1355.7,2340.9 1356,2347.4 1356.3,2340.2 1356.6,2341.7 1356.9,2346.7 1357.2,2342.3 1357.5,2344.1 1357.9,2345.1 1358.2,2343.1 1358.5,2342.3 1358.8,2342.5 1359.1,2346.3 1359.4,2344.7 1359.7,2344.6 1360,2342.5 1360.3,2341.8 1360.6,2343.7 1360.9,2341.7 1361.2,2343 1361.5,2342.4 1361.9,2344.7 1362.2,2340.3 1362.5,2341.4 1362.8,2342.3 1363.1,2346.1 1363.4,2342.3 1363.7,2341.8 1364,2342.2 1364.3,2345.1 1364.6,2344.4 1364.9,2339.4 1365.2,2345.4 1365.5,2345.1 1365.9,2342.7 1366.2,2340.6 1366.5,2343.4 1366.8,2342.6 1367.1,2342 1367.4,2346.8 1367.7,2344.6 1368,2344.3 1368.3,2343.9 1368.6,2344.8 1368.9,2343.6 1369.2,2339.7 1369.5,2342.8 1369.8,2340.9 1370.2,2343.1 1370.5,2342.9 1370.8,2343.3 1371.1,2341.3 1371.4,2344.1 1371.7,2343.5 1372,2346.2 1372.3,2342 1372.6,2344.9 1372.9,2342.1 1373.2,2342.2 1373.5,2342.9 1373.8,2343.3 1374.2,2344.5 1374.5,2344.2 1374.8,2344.2 1375.1,2342 1375.4,2342.6 1375.7,2343.6 1376,2341.7 1376.3,2341.4 1376.6,2348.6 1376.9,2344.8 1377.2,2340.8 1377.5,2342.1 1377.8,2343.9 1378.1,2342 1378.5,2341.5 1378.8,2341.7 1379.1,2344.8 1379.4,2344.2 1379.7,2342.1 1380,2342.9 1380.3,2342.6 1380.6,2347 1380.9,2341.6 1381.2,2343.3 1381.5,2344.5 1381.8,2344 1382.1,2344.6 1382.5,2340.9 1382.8,2344.6 1383.1,2342.5 1383.4,2344.4 1383.7,2344.8 1384,2343.7 1384.3,2341.7 1384.6,2344.9 1384.9,2346.7 1385.2,2342.6 1385.5,2345.3 1385.8,2343 1386.1,2340.8 1386.5,2342.2 1386.8,2342.3 1387.1,2347.5 1387.4,2343.7 1387.7,2342.3 1388,2343.2 1388.3,2343 1388.6,2344.7 1388.9,2341 1389.2,2344.9 1389.5,2343.9 1389.8,2345.3 1390.1,2342.5 1390.4,2342.3 1390.8,2343.7 1391.1,2344.2 1391.4,2343.5 1391.7,2338.7 1392,2347.3 1392.3,2343.8 1392.6,2341.9 1392.9,2342.9 1393.2,2343.8 1393.5,2343 1393.8,2344.1 1394.1,2345 1394.4,2344.1 1394.8,2340.9 1395.1,2341.8 1395.4,2344.1 1395.7,2343.2 1396,2343 1396.3,2341.9 1396.6,2345 1396.9,2341.2 1397.2,2344.4 1397.5,2342.2 1397.8,2342.6 1398.1,2345.2 1398.4,2342.3 1398.7,2341.2 1399.1,2339.4 1399.4,2342.2 1399.7,2343.8 1400,2343.5 1400.3,2341 1400.6,2339.9 1400.9,2342.4 1401.2,2343 1401.5,2342 1401.8,2342.2 1402.1,2343.3 1402.4,2344.4 1402.7,2344.4 1403.1,2345.1 1403.4,2341.8 1403.7,2342.9 1404,2341.9 1404.3,2346 1404.6,2343.5 1404.9,2343.2 1405.2,2342.7 1405.5,2344.5 1405.8,2341.2 1406.1,2344.6 1406.4,2346.6 1406.7,2345.2 1407,2343.9 1407.4,2342.3 1407.7,2347.1 1408,2343.4 1408.3,2341.5 1408.6,2341.5 1408.9,2343.5 1409.2,2341.2 1409.5,2343.4 1409.8,2342.6 1410.1,2343.6 1410.4,2343.3 1410.7,2339.6 1411,2342.1 1411.4,2341.7 1411.7,2343.6 1412,2344.9 1412.3,2343.8 1412.6,2342.7 1412.9,2344.4 1413.2,2341.6 1413.5,2346.6 1413.8,2339.9 1414.1,2343.5 1414.4,2339.7 1414.7,2339.9 1415,2340.1 1415.4,2343.3 1415.7,2342.2 1416,2345.1 1416.3,2342.9 1416.6,2343.3 1416.9,2346.5 1417.2,2344.7 1417.5,2341 1417.8,2345.3 1418.1,2341.6 1418.4,2343.2 1418.7,2343.5 1419,2345.7 1419.3,2342.5 1419.7,2342.1 1420,2338.9 1420.3,2343.6 1420.6,2344.2 1420.9,2342.2 1421.2,2343 1421.5,2344.2 1421.8,2341.8 1422.1,2342.9 1422.4,2342.8 1422.7,2341.1 1423,2344.6 1423.3,2341.6 1423.7,2344.4 1424,2342.5 1424.3,2343.3 1424.6,2343.5 1424.9,2348.5 1425.2,2343.6 1425.5,2345.1 1425.8,2343.5 1426.1,2343.6 1426.4,2342.4 1426.7,2346.3 1427,2343.6 1427.3,2341.8 1427.6,2344.9 1428,2342.9 1428.3,2340.2 1428.6,2342.9 1428.9,2342.3 1429.2,2343.9 1429.5,2345.7 1429.8,2344.5 1430.1,2342.3 1430.4,2339.7 1430.7,2345.4 1431,2344.8 1431.3,2343.7 1431.6,2345.5 1432,2343.4 1432.3,2342.6 1432.6,2343 1432.9,2344 1433.2,2346.4 1433.5,2342 1433.8,2344.5 1434.1,2343.2 1434.4,2344.2 1434.7,2344.9 1435,2344.3 1435.3,2344.3 1435.6,2346.3 1436,2345.7 1436.3,2342.9 1436.6,2342 1436.9,2343.5 1437.2,2345.2 1437.5,2343.7 1437.8,2341.7 1438.1,2344.4 1438.4,2341.5 1438.7,2343.9 1439,2343.3 1439.3,2344.9 1439.6,2342.7 1439.9,2341.1 1440.3,2344.1 1440.6,2342.8 1440.9,2344.7 1441.2,2342.8 1441.5,2342.6 1441.8,2341.8 1442.1,2343.9 1442.4,2346.3 1442.7,2343.1 1443,2343.5 1443.3,2344.7 1443.6,2341.9 1443.9,2343.8 1444.3,2342.9 1444.6,2343.2 1444.9,2342.4 1445.2,2342.1 1445.5,2344.3 1445.8,2342.6 1446.1,2341.7 1446.4,2341.9 1446.7,2342 1447,2346.5 1447.3,2344.3 1447.6,2343.4 1447.9,2343.6 1448.2,2344.3 1448.6,2343.2 1448.9,2339.1 1449.2,2344 1449.5,2343.8 1449.8,2341.8 1450.1,2345.8 1450.4,2344.8 1450.7,2345.1 1451,2343.2 1451.3,2344.8 1451.6,2343.9 1451.9,2345.4 1452.2,2343 1452.6,2340.8 1452.9,2343.5 1453.2,2344.1 1453.5,2343.4 1453.8,2343.6 1454.1,2341.8 1454.4,2340.7 1454.7,2345 1455,2342.8 1455.3,2339.8 1455.6,2342.2 1455.9,2345.3 1456.2,2341.1 1456.6,2344.4 1456.9,2344.4 1457.2,2343.8 1457.5,2344.7 1457.8,2343.1 1458.1,2342.8 1458.4,2342.3 1458.7,2342.7 1459,2342.9 1459.3,2342.8 1459.6,2341.9 1459.9,2342.7 1460.2,2345.4 1460.5,2345.3 1460.9,2344.5 1461.2,2343.6 1461.5,2343 1461.8,2347.2 1462.1,2343.4 1462.4,2342.5 1462.7,2342 1463,2343.8 1463.3,2343.9 1463.6,2342.6 1463.9,2341.6 1464.2,2341.9 1464.5,2343.3 1464.9,2342.7 1465.2,2342.6 1465.5,2344.3 1465.8,2345.3 1466.1,2345 1466.4,2342.7 1466.7,2342.2 1467,2345.5 1467.3,2341.6 1467.6,2342.8 1467.9,2343.5 1468.2,2344.1 1468.5,2343.4 1468.8,2344.8 1469.2,2340.9 1469.5,2345.7 1469.8,2343.3 1470.1,2344.7 1470.4,2342.1 1470.7,2346.4 1471,2344.6 1471.3,2344.3 1471.6,2341.1 1471.9,2342.1 1472.2,2342.3 1472.5,2344.7 1472.8,2341 1473.2,2344.3 1473.5,2342.9 1473.8,2342.4 1474.1,2343.6 1474.4,2343.9 1474.7,2343.2 1475,2347.1 1475.3,2341.5 1475.6,2344 1475.9,2344.2 1476.2,2340.3 1476.5,2342.5 1476.8,2342.2 1477.2,2341.8 1477.5,2341 1477.8,2345.2 1478.1,2339.4 1478.4,2342.5 1478.7,2345.2 1479,2343 1479.3,2340.8 1479.6,2344.4 1479.9,2343.1 1480.2,2344.3 1480.5,2347.2 1480.8,2344.4 1481.1,2344.7 1481.5,2344.6 1481.8,2341.4 1482.1,2343.5 1482.4,2341.8 1482.7,2342.1 1483,2344.3 1483.3,2344.2 1483.6,2344.6 1483.9,2341.4 1484.2,2345.8 1484.5,2345.4 1484.8,2342.7 1485.1,2343.9 1485.5,2340.7 1485.8,2344.8 1486.1,2343.4 1486.4,2343.2 1486.7,2345.1 1487,2343.5 1487.3,2343 1487.6,2343.6 1487.9,2344.1 1488.2,2340.3 1488.5,2343.5 1488.8,2344.4 1489.1,2342.9 1489.4,2341.9 1489.8,2344.8 1490.1,2345.1 1490.4,2342 1490.7,2343.5 1491,2340.9 1491.3,2340.6 1491.6,2343.9 1491.9,2344 1492.2,2343.4 1492.5,2343 1492.8,2342.1 1493.1,2343.2 1493.4,2342.2 1493.8,2342.7 1494.1,2346.2 1494.4,2345.1 1494.7,2340.8 1495,2342.6 1495.3,2344.7 1495.6,2339.8 1495.9,2341.1 1496.2,2345.4 1496.5,2343.4 1496.8,2342.7 1497.1,2343.7 1497.4,2344.7 1497.8,2342.1 1498.1,2343.6 1498.4,2343.6 1498.7,2340.5 1499,2343.3 1499.3,2344.9 1499.6,2343.3 1499.9,2342.2 1500.2,2341.2 1500.5,2342.6 1500.8,2345.7 1501.1,2344.9 1501.4,2344.1 1501.7,2344.4 1502.1,2342.3 1502.4,2344.6 1502.7,2341.6 1503,2341.3 1503.3,2343.2 1503.6,2345.5 1503.9,2342.1 1504.2,2342.5 1504.5,2343.7 1504.8,2343.9 1505.1,2343.7 1505.4,2344.3 1505.7,2343.9 1506.1,2342.1 1506.4,2344 1506.7,2341.2 1507,2345.1 1507.3,2341 1507.6,2342.1 1507.9,2342.9 1508.2,2344 1508.5,2345 1508.8,2341.4 1509.1,2343.6 1509.4,2344.9 1509.7,2342.6 1510,2345.1 1510.4,2342.7 1510.7,2342.9 1511,2340.2 1511.3,2347.4 1511.6,2342.3 1511.9,2343.8 1512.2,2343 1512.5,2343 1512.8,2343 1513.1,2343.4 1513.4,2342.9 1513.7,2344.2 1514,2345 1514.4,2345.2 1514.7,2342.6 1515,2342.1 1515.3,2342.7 1515.6,2344.7 1515.9,2341.1 1516.2,2344.3 1516.5,2344.5 1516.8,2344.1 1517.1,2342.6 1517.4,2346.4 1517.7,2345.1 1518,2340.6 1518.4,2344.5 1518.7,2345 1519,2344.9 1519.3,2345.8 1519.6,2343.1 1519.9,2343.8 1520.2,2342.5 1520.5,2347.9 1520.8,2342.1 1521.1,2344.2 1521.4,2340.7 1521.7,2346.1 1522,2342.8 1522.3,2344.6 1522.7,2344.8 1523,2343.6 1523.3,2343.4 1523.6,2346.2 1523.9,2344.2 1524.2,2339.4 1524.5,2344 1524.8,2341.2 1525.1,2345.5 1525.4,2343.3 1525.7,2340 1526,2342.4 1526.3,2344.7 1526.7,2345.5 1527,2342.7 1527.3,2343.8 1527.6,2343.7 1527.9,2345.7 1528.2,2341.4 1528.5,2345.4 1528.8,2343.5 1529.1,2343.3 1529.4,2341.6 1529.7,2344.4 1530,2345.9 1530.3,2343 1530.6,2343.8 1531,2345.4 1531.3,2344.3 1531.6,2343 1531.9,2342.3 1532.2,2341.8 1532.5,2341.5 1532.8,2342.1 1533.1,2344.4 1533.4,2343.2 1533.7,2343.7 1534,2344.6 1534.3,2346.1 1534.6,2343.7 1535,2342.2 1535.3,2344.5 1535.6,2342.2 1535.9,2343.9 1536.2,2342.9 1536.5,2343.4 1536.8,2341.5 1537.1,2343.8 1537.4,2339 1537.7,2342.6 1538,2345 1538.3,2343.6 1538.6,2345.2 1539,2343.5 1539.3,2344.1 1539.6,2340.8 1539.9,2341.4 1540.2,2342.4 1540.5,2343.8 1540.8,2342.8 1541.1,2343.5 1541.4,2339.8 1541.7,2342.4 1542,2342.7 1542.3,2344.4 1542.6,2344.4 1542.9,2344.7 1543.3,2343.1 1543.6,2341.3 1543.9,2345.5 1544.2,2344.7 1544.5,2344.3 1544.8,2341 1545.1,2341.6 1545.4,2342.5 1545.7,2343.6 1546,2344.7 1546.3,2341.1 1546.6,2344.5 1546.9,2342.9 1547.3,2342.5 1547.6,2343.6 1547.9,2340.9 1548.2,2342.4 1548.5,2346.1 1548.8,2342.2 1549.1,2345.4 1549.4,2345.3 1549.7,2343 1550,2341.3 1550.3,2342.6 1550.6,2343.4 1550.9,2343.3 1551.2,2343.3 1551.6,2343.5 1551.9,2346.2 1552.2,2341.6 1552.5,2346.7 1552.8,2343.8 1553.1,2341.1 1553.4,2342.3 1553.7,2344.3 1554,2340.9 1554.3,2341.1 1554.6,2344.5 1554.9,2343.3 1555.2,2343.3 1555.6,2343.6 1555.9,2343.3 1556.2,2343 1556.5,2341 1556.8,2343.1 1557.1,2340.6 1557.4,2343.9 1557.7,2343.5 1558,2340.2 1558.3,2346 1558.6,2344.2 1558.9,2344 1559.2,2342.7 1559.6,2342.5 1559.9,2345 1560.2,2342.8 1560.5,2345.3 1560.8,2345.8 1561.1,2342.7 1561.4,2340.8 1561.7,2342.3 1562,2344.1 1562.3,2344.1 1562.6,2343.1 1562.9,2346 1563.2,2343.7 1563.5,2344.4 1563.9,2342.9 1564.2,2342.6 1564.5,2345.4 1564.8,2342.7 1565.1,2344.6 1565.4,2345.4 1565.7,2342.8 1566,2342.9 1566.3,2343.4 1566.6,2342.5 1566.9,2342.1 1567.2,2342.2 1567.5,2342.7 1567.9,2344.6 1568.2,2345.5 1568.5,2346 1568.8,2342.2 1569.1,2343.5 1569.4,2341.8 1569.7,2342.9 1570,2344.1 1570.3,2344 1570.6,2342.6 1570.9,2343.5 1571.2,2343.1 1571.5,2341.4 1571.8,2344.9 1572.2,2342.9 1572.5,2342.7 1572.8,2343.3 1573.1,2342.6 1573.4,2346.5 1573.7,2342.4 1574,2343.2 1574.3,2342.9 1574.6,2340.9 1574.9,2343.5 1575.2,2343.2 1575.5,2343.8 1575.8,2345.7 1576.2,2345.2 1576.5,2344.6 1576.8,2343.4 1577.1,2343.4 1577.4,2342.9 1577.7,2342.4 1578,2342.1 1578.3,2343.7 1578.6,2342 1578.9,2344 1579.2,2343.6 1579.5,2344.9 1579.8,2341 1580.1,2342.4 1580.5,2341.6 1580.8,2344 1581.1,2342.6 1581.4,2344.3 1581.7,2344.4 1582,2342.8 1582.3,2344 1582.6,2341.9 1582.9,2344.4 1583.2,2346 1583.5,2342.6 1583.8,2342.6 1584.1,2344.5 1584.5,2341 1584.8,2342.3 1585.1,2340.9 1585.4,2342.8 1585.7,2345.1 1586,2342.6 1586.3,2343.4 1586.6,2343.1 1586.9,2342.6 1587.2,2343.2 1587.5,2343.6 1587.8,2344.4 1588.1,2341.4 1588.5,2341.4 1588.8,2343.1 1589.1,2343.2 1589.4,2343.4 1589.7,2343.3 1590,2346.3 1590.3,2343.8 1590.6,2341.4 1590.9,2342.8 1591.2,2341.6 1591.5,2343.8 1591.8,2345.8 1592.1,2342.4 1592.4,2341.4 1592.8,2342.4 1593.1,2346.5 1593.4,2343.6 1593.7,2342.2 1594,2345.1 1594.3,2343.8 1594.6,2344.4 1594.9,2341.2 1595.2,2345 1595.5,2342.6 1595.8,2346.3 1596.1,2343.7 1596.4,2341.3 1596.8,2345.3 1597.1,2341.6 1597.4,2341.9 1597.7,2342.5 1598,2341.4 1598.3,2343.1 1598.6,2342.6 1598.9,2344.8 1599.2,2344.2 1599.5,2342.5 1599.8,2345.5 1600.1,2342.6 1600.4,2341.3 1600.7,2344.2 1601.1,2344.3 1601.4,2342.6 1601.7,2342.2 1602,2345 1602.3,2343.6 1602.6,2342.6 1602.9,2343.2 1603.2,2342.5 1603.5,2342.9 1603.8,2342.7 1604.1,2343.5 1604.4,2341.3 1604.7,2343.5 1605.1,2342.7 1605.4,2343.7 1605.7,2343.2 1606,2344.7 1606.3,2343.1 1606.6,2341.7 1606.9,2343.6 1607.2,2344 1607.5,2344.6 1607.8,2345 1608.1,2344.3 1608.4,2344.1 1608.7,2342.8 1609.1,2343.1 1609.4,2345.3 1609.7,2341.5 1610,2344.3 1610.3,2342.6 1610.6,2345.5 1610.9,2345.3 1611.2,2341.9 1611.5,2342.6 1611.8,2343.2 1612.1,2341.7 1612.4,2342.2 1612.7,2344.5 1613,2345 1613.4,2342.2 1613.7,2345.3 1614,2341.8 1614.3,2343 1614.6,2343.7 1614.9,2342.7 1615.2,2343.3 1615.5,2343.3 1615.8,2341.1 1616.1,2342.6 1616.4,2342.7 1616.7,2344.5 1617,2342.1 1617.4,2342.3 1617.7,2344 1618,2343.9 1618.3,2341.7 1618.6,2343.3 1618.9,2345.8 1619.2,2341.3 1619.5,2344 1619.8,2342.5 1620.1,2342 1620.4,2342.4 1620.7,2343.6 1621,2344.2 1621.3,2341.4 1621.7,2345.1 1622,2342.3 1622.3,2342.5 1622.6,2343.1 1622.9,2344.3 1623.2,2341.7 1623.5,2342.6 1623.8,2343.6 1624.1,2342.8 1624.4,2344.7 1624.7,2345.2 1625,2343.2 1625.3,2343.4 1625.7,2342.3 1626,2342.5 1626.3,2344.6 1626.6,2342.5 1626.9,2343.1 1627.2,2344.1 1627.5,2342.5 1627.8,2342.9 1628.1,2343.2 1628.4,2344.4 1628.7,2343.7 1629,2340.9 1629.3,2343.7 1629.7,2344.4 1630,2343.7 1630.3,2343.4 1630.6,2341 1630.9,2344.8 1631.2,2344 1631.5,2341.4 1631.8,2342.5 1632.1,2343.9 1632.4,2345.2 1632.7,2344.3 1633,2341.3 1633.3,2341.2 1633.6,2343.7 1634,2342.1 1634.3,2343 1634.6,2342.1 1634.9,2343.8 1635.2,2342.5 1635.5,2343.6 1635.8,2343 1636.1,2343.5 1636.4,2341.8 1636.7,2340.7 1637,2344.8 1637.3,2342.4 1637.6,2342.9 1638,2344.2 1638.3,2341.4 1638.6,2345.1 1638.9,2345.2 1639.2,2342.3 1639.5,2344.3 1639.8,2343.7 1640.1,2342.1 1640.4,2343.4 1640.7,2345.2 1641,2344.1 1641.3,2343.3 1641.6,2345.8 1641.9,2344.7 1642.3,2341.7 1642.6,2343.3 1642.9,2341.3 1643.2,2343 1643.5,2342.6 1643.8,2345.9 1644.1,2342.6 1644.4,2344.2 1644.7,2344.4 1645,2341.6 1645.3,2341.4 1645.6,2342.9 1645.9,2343.1 1646.3,2341.8 1646.6,2344.2 1646.9,2340.2 1647.2,2344.6 1647.5,2343.3 1647.8,2344.6 1648.1,2343.4 1648.4,2340.2 1648.7,2342.3 1649,2342.4 1649.3,2340.9 1649.6,2344.8 1649.9,2343 1650.3,2344.2 1650.6,2346.2 1650.9,2341.9 1651.2,2340.2 1651.5,2342.5 1651.8,2344.9 1652.1,2341.2 1652.4,2344.4 1652.7,2342.1 1653,2342.3 1653.3,2343.2 1653.6,2341.7 1653.9,2343.2 1654.2,2342.5 1654.6,2340.2 1654.9,2344.6 1655.2,2343.7 1655.5,2344.1 1655.8,2343.3 1656.1,2343.8 1656.4,2341.2 1656.7,2344.5 1657,2342.1 1657.3,2342.2 1657.6,2342.4 1657.9,2344.4 1658.2,2342.1 1658.6,2343.4 1658.9,2341.5 1659.2,2342.3 1659.5,2342.1 1659.8,2343.7 1660.1,2342.9 1660.4,2341.7 1660.7,2343.2 1661,2344.6 1661.3,2338.9 1661.6,2344.5 1661.9,2343.2 1662.2,2344.7 1662.5,2345.7 1662.9,2344.3 1663.2,2342.3 1663.5,2341.1 1663.8,2340.6 1664.1,2342.4 1664.4,2340.8 1664.7,2345.1 1665,2344.2 1665.3,2340.7 1665.6,2342 1665.9,2343.6 1666.2,2343.8 1666.5,2342.4 1666.9,2342.2 1667.2,2341.1 1667.5,2343.1 1667.8,2342.5 1668.1,2343.1 1668.4,2341.9 1668.7,2342 1669,2343.9 1669.3,2341.9 1669.6,2345.8 1669.9,2342.9 1670.2,2343.8 1670.5,2345.2 1670.9,2344.5 1671.2,2344.6 1671.5,2343.7 1671.8,2342.9 1672.1,2344 1672.4,2342.7 1672.7,2341.6 1673,2344.2 1673.3,2344.7 1673.6,2340.3 1673.9,2343 1674.2,2343.8 1674.5,2343.9 1674.8,2342.7 1675.2,2341 1675.5,2341.8 1675.8,2342.6 1676.1,2343.3 1676.4,2344.2 1676.7,2344.5 1677,2342.4 1677.3,2343.5 1677.6,2342.6 1677.9,2341.8 1678.2,2341.4 1678.5,2343.7 1678.8,2345 1679.2,2341.1 1679.5,2344.6 1679.8,2343.1 1680.1,2343.4 1680.4,2341.8 1680.7,2341.9 1681,2342 1681.3,2343.5 1681.6,2343.2 1681.9,2342.2 1682.2,2343.9 1682.5,2342.6 1682.8,2342.9 1683.1,2342.2 1683.5,2344.3 1683.8,2344.2 1684.1,2342.6 1684.4,2344.6 1684.7,2343.5 1685,2344.2 1685.3,2344.1 1685.6,2344.2 1685.9,2342.7 1686.2,2343.2 1686.5,2342 1686.8,2343 1687.1,2342.9 1687.5,2340.8 1687.8,2341.3 1688.1,2343.5 1688.4,2343.1 1688.7,2341.8 1689,2345.5 1689.3,2343.4 1689.6,2343.6 1689.9,2344.8 1690.2,2343.3 1690.5,2345.4 1690.8,2340 1691.1,2343.3 1691.5,2343.2 1691.8,2345.1 1692.1,2343 1692.4,2340.6 1692.7,2343.5 1693,2342 1693.3,2341.8 1693.6,2346.7 1693.9,2343.7 1694.2,2343.6 1694.5,2344.1 1694.8,2345 1695.1,2344.2 1695.4,2345.4 1695.8,2342.8 1696.1,2342.5 1696.4,2342.1 1696.7,2343.6 1697,2344.3 1697.3,2341.6 1697.6,2343.4 1697.9,2342.8 1698.2,2341.8 1698.5,2344.4 1698.8,2343 1699.1,2341.8 1699.4,2343 1699.8,2343.4 1700.1,2341.7 1700.4,2344.3 1700.7,2344.4 1701,2342.8 1701.3,2344.4 1701.6,2343.3 1701.9,2344 1702.2,2343.7 1702.5,2342.3 1702.8,2342.6 1703.1,2343.6 1703.4,2343.5 1703.7,2343.2 1704.1,2343.1 1704.4,2343.5 1704.7,2343.6 1705,2341.1 1705.3,2343.3 1705.6,2343 1705.9,2345.1 1706.2,2344.1 1706.5,2340.9 1706.8,2340.8 1707.1,2343.5 1707.4,2345.1 1707.7,2342 1708.1,2344.3 1708.4,2341.5 1708.7,2343.4 1709,2343.8 1709.3,2343.4 1709.6,2341.9 1709.9,2343.6 1710.2,2344.5 1710.5,2344.9 1710.8,2343.4 1711.1,2343.6 1711.4,2343.1 1711.7,2343.7 1712.1,2343.2 1712.4,2343.7 1712.7,2341.7 1713,2343.6 1713.3,2342.5 1713.6,2342.9 1713.9,2344.2 1714.2,2345 1714.5,2342.4 1714.8,2343.2 1715.1,2341.4 1715.4,2343.7 1715.7,2342.3 1716,2344.4 1716.4,2343.6 1716.7,2344.1 1717,2343.5 1717.3,2343.1 1717.6,2343.9 1717.9,2343.2 1718.2,2342.4 1718.5,2344.7 1718.8,2343.2 1719.1,2344 1719.4,2344 1719.7,2342.4 1720,2343.1 1720.4,2342.1 1720.7,2343.5 1721,2343.1 1721.3,2344 1721.6,2342.8 1721.9,2343.3 1722.2,2343.6 1722.5,2342.1 1722.8,2345.1 1723.1,2344.5 1723.4,2344.7 1723.7,2343.2 1724,2343.3 1724.3,2342.9 1724.7,2343.3 1725,2343.1 1725.3,2341.5 1725.6,2343.4 1725.9,2343.3 1726.2,2344 1726.5,2340.7 1726.8,2344.4 1727.1,2343.1 1727.4,2344 1727.7,2345.1 1728,2343.9 1728.3,2344.6 1728.7,2344.2 1729,2343 1729.3,2342.3 1729.6,2342.9 1729.9,2341.9 1730.2,2342.6 1730.5,2344.9 1730.8,2342.5 1731.1,2343.1 1731.4,2342.1 1731.7,2342.8 1732,2343.7 1732.3,2344.2 1732.7,2343.3 1733,2342.4 1733.3,2343.1 1733.6,2342.6 1733.9,2342.7 1734.2,2344.6 1734.5,2343.9 1734.8,2345.4 1735.1,2343.6 1735.4,2344.5 1735.7,2342.8 1736,2342.1 1736.3,2343.9 1736.6,2343.6 1737,2342.6 1737.3,2344.1 1737.6,2342.3 1737.9,2346.2 1738.2,2344 1738.5,2343 1738.8,2345.4 1739.1,2341.6 1739.4,2343.8 1739.7,2343.3 1740,2343.3 1740.3,2343.3 1740.6,2343.6 1741,2344.7 1741.3,2342.7 1741.6,2342.9 1741.9,2343.4 1742.2,2344 1742.5,2344 1742.8,2344 1743.1,2343.3 1743.4,2343.1 1743.7,2342.1 1744,2341.1 1744.3,2339.9 1744.6,2345.1 1744.9,2342.7 1745.3,2341.5 1745.6,2343.5 1745.9,2342.3 1746.2,2344.6 1746.5,2342.6 1746.8,2343.4 1747.1,2341 1747.4,2344.3 1747.7,2341.2 1748,2342.6 1748.3,2344.1 1748.6,2344.2 1748.9,2342.8 1749.3,2340.8 1749.6,2341 1749.9,2345.1 1750.2,2343 1750.5,2341.9 1750.8,2343 1751.1,2343.5" fill="none" stroke="#0072BD" stroke-width="8.33" stroke-linejoin="round"/>
<path d="M1751.1,2343.5h0" fill="none" stroke="#0072BD" stroke-width="8.33" stroke-linecap="round"/>
<path d="M515.3,2941.2 515.4,1744.3M545.2,1744.3 545.7,2578.7 545.9,2941.2M578,2941.2 578.3,2770.4 578.9,2419.2 579.5,2124.5 580.1,1830.2 580.3,1744.3M608.1,1744.3 608.4,1800.4 609,1890.1 609.7,1959.8 610.3,2047.2 610.9,2140.5 611.5,2211.4 612.1,2295.9 612.7,2374.7 613.3,2479.1 614,2575.4 614.6,2655.2 615.2,2754.9 615.8,2841.8 616.4,2917.6 616.8,2941.2M631.5,2941.2 631.8,2926.3 632.4,2893.2 633,2856.1 633.6,2818.5 634.2,2789.2 634.9,2736 635.5,2713.1 636.1,2675.8 636.7,2633.6 637.3,2591.4 637.9,2560.9 638.6,2539.8 639.2,2502.6 639.8,2464 640.4,2441.8 641,2392.5 641.6,2361.8 642.2,2345.9 642.9,2281.6 643.5,2255.3 644.1,2223.7 644.7,2197.3 645.3,2177.2 645.9,2144.9 646.5,2107.7 647.2,2106.3 647.8,2091.6 648.4,2067.9 649,2055.3 649.6,2039.3 650.2,2007.1 650.9,2017.9 651.5,2010.6 652.1,1975.9 652.7,1965 653.3,1966.4 653.9,1981.9 654.5,1963.3 655.2,1965.5 655.8,1983.3 656.4,1980 657,1996.1 657.6,1981.3 658.2,1991.1 658.8,1993.6 659.5,2010.2 660.1,2019.8 660.7,2028.3 661.3,2034.8 661.9,2058.6 662.5,2068.8 663.2,2086.8 663.8,2083.5 664.4,2090.8 665,2103.5 665.6,2105.1 666.2,2121.1 666.8,2135.5 667.5,2150.8 668.1,2153.2 668.7,2177.5 669.3,2189.9 669.9,2193 670.5,2200.8 671.1,2212.6 671.8,2240 672.4,2253.7 673,2246.9 673.6,2278.2 674.2,2283.7 674.8,2293.3 675.4,2301 676.1,2320.5 676.7,2327.7 677.3,2324.4 677.9,2340.3 678.5,2364.4 679.1,2367.4 679.8,2363.8 680.4,2373.4 681,2389 681.6,2393.1 682.2,2401.4 682.8,2397.1 683.4,2411.6 684.1,2418.3 684.7,2422.8 685.3,2440.2 685.9,2422.8 686.5,2419.1 687.1,2422.1 687.7,2423.1 688.4,2425.3 689,2429.7 689.6,2419.1 690.2,2429.3 690.8,2410.1 691.4,2412.8 692.1,2412.2 692.7,2412.8 693.3,2404.8 693.9,2418.1 694.5,2391.6 695.1,2407.9 695.7,2387.9 696.4,2385.5 697,2377 697.6,2384.2 698.2,2373.2 698.8,2383.7 699.4,2376.8 700,2359.6 700.7,2362.9 701.3,2368.8 701.9,2350.2 702.5,2361.4 703.1,2337.9 703.7,2353.2 704.4,2338.7 705,2344.3 705.6,2352 706.2,2338.9 706.8,2339.4 707.4,2336.2 708,2321.4 708.7,2328 709.3,2323.1 709.9,2331.9 710.5,2322.3 711.1,2323.2 711.7,2314.2 712.3,2310.4 713,2312.9 713.6,2328.2 714.2,2320.3 714.8,2327.3 715.4,2316.5 716,2317.1 716.6,2309.3 717.3,2308.1 717.9,2308.5 718.5,2300.5 719.1,2311.4 719.7,2302.5 720.3,2305.3 721,2304.5 721.6,2294.6 722.2,2303.3 722.8,2297 723.4,2317.2 724,2312.9 724.6,2306.4 725.3,2315 725.9,2314.3 726.5,2322.9 727.1,2317.7 727.7,2310 728.3,2321.9 728.9,2322.4 729.6,2341.6 730.2,2319.9 730.8,2317 731.4,2323.4 732,2335.2 732.6,2322 733.3,2337.6 733.9,2337.3 734.5,2342 735.1,2339.5 735.7,2336.8 736.3,2335.5 736.9,2337.3 737.6,2328.9 738.2,2349.7 738.8,2350.7 739.4,2344.1 740,2349.3 740.6,2349.8 741.2,2355.3 741.9,2351.3 742.5,2347.1 743.1,2345.3 743.7,2347.8 744.3,2341.2 744.9,2343.7 745.5,2346.4 746.2,2350.5 746.8,2345.2 747.4,2341.4 748,2347.4 748.6,2346 749.2,2347.2 749.9,2348.9 750.5,2343.5 751.1,2348.5 751.7,2352.7 752.3,2360.7 752.9,2350.3 753.5,2341.5 754.2,2360.1 754.8,2355.5 755.4,2345.3 756,2352.4 756.6,2356 757.2,2339.2 757.8,2348.6 758.5,2343.7 759.1,2355.5 759.7,2353.6 760.3,2338.7 760.9,2345.3 761.5,2346.2 762.2,2358.8 762.8,2337.4 763.4,2337.6 764,2341.1 764.6,2349.5 765.2,2341.4 765.8,2343.5 766.5,2349.2 767.1,2342.2 767.7,2350.9 768.3,2335.1 768.9,2337.5 769.5,2338.7 770.1,2347.3 770.8,2340.3 771.4,2344.3 772,2338 772.6,2339.8 773.2,2341.5 773.8,2334.9 774.5,2340.6 775.1,2332.9 775.7,2340.2 776.3,2340.9 776.9,2331.6 777.5,2336.1 778.1,2330.2 778.8,2342.5 779.4,2349.4 780,2335.4 780.6,2336.4 781.2,2345.3 781.8,2333.8 782.4,2334.6 783.1,2331.7 783.7,2339.9 784.3,2335.6 784.9,2343.3 785.5,2332.2 786.1,2338.6 786.7,2334.1 787.4,2336.5 788,2337.2 788.6,2333.2 789.2,2343.6 789.8,2335 790.4,2334.3 791.1,2337.1 791.7,2342.7 792.3,2337.1 792.9,2338.5 793.5,2349.1 794.1,2342.5 794.7,2344.5 795.4,2335.5 796,2343.6 796.6,2337 797.2,2338 797.8,2340.3 798.4,2342.3 799,2335.6 799.7,2341 800.3,2335.7 800.9,2340.4 801.5,2342.2 802.1,2345.2 802.7,2334.1 803.4,2340 804,2347.9 804.6,2337.1 805.2,2342.1 805.8,2343.6 806.4,2340.8 807,2343.8 807.7,2346.5 808.3,2341.9 808.9,2339 809.5,2345.6 810.1,2344.2 810.7,2342 811.3,2337.8 812,2341.2 812.6,2338.2 813.2,2343.9 813.8,2342.3 814.4,2343.2 815,2345.9 815.7,2342.5 816.3,2344.4 816.9,2341.5 817.5,2341.7 818.1,2336.3 818.7,2346.8 819.3,2343.4 820,2350.4 820.6,2345.4 821.2,2344.4 821.8,2346.1 822.4,2340.7 823,2340.1 823.6,2340.1 824.3,2338.2 824.9,2345.8 825.5,2345.7 826.1,2341.7 826.7,2338.5 827.3,2346.6 827.9,2333.4 828.6,2348.9 829.2,2341.8 829.8,2339.9 830.4,2344.4 831,2338.7 831.6,2340.2 832.3,2339.1 832.9,2342.3 833.5,2343.5 834.1,2342.3 834.7,2341.9 835.3,2344.4 835.9,2346.2 836.6,2340.4 837.2,2337 837.8,2344.9 838.4,2338.2 839,2343.1 839.6,2339.4 840.2,2348.8 840.9,2340.5 841.5,2341.8 842.1,2339.1 842.7,2350.5 843.3,2347.1 843.9,2342.4 844.6,2338.5 845.2,2346 845.8,2346.5 846.4,2343.2 847,2347.4 847.6,2349.2 848.2,2343.8 848.9,2342 849.5,2340.1 850.1,2341 850.7,2337.5 851.3,2343.2 851.9,2347.3 852.5,2348.2 853.2,2350.9 853.8,2340.2 854.4,2343.7 855,2350.7 855.6,2341.6 856.2,2341.7 856.9,2346.4 857.5,2337.9 858.1,2345 858.7,2339.9 859.3,2343.6 859.9,2340.5 860.5,2341.6 861.2,2345.2 861.8,2345.9 862.4,2337.4 863,2347.3 863.6,2344.5 864.2,2345.7 864.8,2344.6 865.5,2344.3 866.1,2343.2 866.7,2337.4 867.3,2339.8 867.9,2347.4 868.5,2338.5 869.1,2336.7 869.8,2345.5 870.4,2340.3 871,2341.5 871.6,2345.8 872.2,2341.7 872.8,2343.8 873.5,2343.7 874.1,2339.7 874.7,2349.8 875.3,2340.1 875.9,2347.2 876.5,2341 877.1,2350.2 877.8,2342.3 878.4,2342.7 879,2345.3 879.6,2345.3 880.2,2342.1 880.8,2344.5 881.4,2337.5 882.1,2345.7 882.7,2344.6 883.3,2345.1 883.9,2344.1 884.5,2340.2 885.1,2338.5 885.8,2343 886.4,2342.9 887,2339.1 887.6,2344.3 888.2,2342.4 888.8,2339.3 889.4,2344.3 890.1,2342.9 890.7,2342.3 891.3,2341.4 891.9,2338.6 892.5,2342.2 893.1,2344.1 893.7,2347.6 894.4,2339.9 895,2341.7 895.6,2343.3 896.2,2343.2 896.8,2339.3 897.4,2338.7 898,2341.3 898.7,2339.1 899.3,2346.9 899.9,2346 900.5,2340 901.1,2345.7 901.7,2350.6 902.4,2343.6 903,2345 903.6,2344.4 904.2,2335.1 904.8,2347.8 905.4,2343.3 906,2345.7 906.7,2341 907.3,2338 907.9,2341.4 908.5,2346.8 909.1,2345 909.7,2339.8 910.3,2338.9 911,2342.6 911.6,2337.9 912.2,2344.3 912.8,2342.3 913.4,2344.8 914,2344.8 914.7,2342.3 915.3,2341.2 915.9,2342.5 916.5,2339.6 917.1,2343.5 917.7,2344.6 918.3,2343.6 919,2348.6 919.6,2340.7 920.2,2343.4 920.8,2342.3 921.4,2340 922,2344.8 922.6,2336.7 923.3,2341.1 923.9,2340.1 924.5,2345.4 925.1,2342.9 925.7,2350.2 926.3,2345.2 927,2350.2 927.6,2339.3 928.2,2344.7 928.8,2342.7 929.4,2342.8 930,2342.1 930.6,2345.8 931.3,2340.6 931.9,2341 932.5,2338.5 933.1,2345.7 933.7,2340.1 934.3,2338.6 934.9,2344.4 935.6,2338.4 936.2,2349.5 936.8,2342.3 937.4,2345.2 938,2347.9 938.6,2343.7 939.2,2338.2 939.9,2341.4 940.5,2342.2 941.1,2346.1 941.7,2344.7 942.3,2344.8 942.9,2344.9 943.6,2343.5 944.2,2345.2 944.8,2342.8 945.4,2349.3 946,2342.9 946.6,2348.6 947.2,2340.1 947.9,2341.2 948.5,2348.8 949.1,2340.7 949.7,2340.1 950.3,2343.8 950.9,2344.4 951.5,2339.3 952.2,2341.3 952.8,2349.2 953.4,2338.7 954,2346.3 954.6,2336.7 955.2,2343.9 955.9,2340.4 956.5,2342.5 957.1,2341.7 957.7,2344.1 958.3,2344.9 958.9,2344.4 959.5,2340.8 960.2,2339.1 960.8,2348.3 961.4,2343.2 962,2342.9 962.6,2340.1 963.2,2346.5 963.8,2342.5 964.5,2343 965.1,2341.6 965.7,2341.5 966.3,2345.6 966.9,2336.9 967.5,2344.1 968.2,2341.4 968.8,2342.6 969.4,2345.2 970,2343.8 970.6,2341.3 971.2,2341.9 971.8,2336.2 972.5,2342 973.1,2343 973.7,2340.9 974.3,2348.3 974.9,2342.5 975.5,2348.5 976.1,2344.5 976.8,2344.6 977.4,2346.1 978,2343.8 978.6,2341.8 979.2,2345.8 979.8,2344.2 980.4,2343.5 981.1,2347.9 981.7,2339.1 982.3,2344.8 982.9,2343.3 983.5,2345.7 984.1,2346.4 984.8,2342.9 985.4,2342.3 986,2344.2 986.6,2346.4 987.2,2340.7 987.8,2343 988.4,2337.6 989.1,2347.3 989.7,2341.7 990.3,2344.1 990.9,2341.7 991.5,2343.4 992.1,2346.4 992.7,2343.2 993.4,2343 994,2339.2 994.6,2344.3 995.2,2344.7 995.8,2343.4 996.4,2347.1 997.1,2344.3 997.7,2343.8 998.3,2343 998.9,2345.7 999.5,2347.4 1000.1,2342.5 1000.7,2345.5 1001.4,2348.7 1002,2343.6 1002.6,2345 1003.2,2344.8 1003.8,2340.6 1004.4,2345.1 1005,2341.3 1005.7,2342 1006.3,2343.8 1006.9,2345.5 1007.5,2339.5 1008.1,2343.8 1008.7,2342.1 1009.4,2347.8 1010,2344 1010.6,2342.7 1011.2,2346.5 1011.8,2343.3 1012.4,2346.2 1013,2338.6 1013.7,2343.5 1014.3,2345.6 1014.9,2345.7 1015.5,2347.2 1016.1,2346.3 1016.7,2345.9 1017.3,2343.9 1018,2338.8 1018.6,2343.1 1019.2,2341.2 1019.8,2344.6 1020.4,2346.3 1021,2344.3 1021.6,2339.9 1022.3,2342.2 1022.9,2344.9 1023.5,2342.5 1024.1,2342.5 1024.7,2340.8 1025.3,2345.9 1026,2340 1026.6,2346.1 1027.2,2342 1027.8,2339.9 1028.4,2343.3 1029,2338.5 1029.6,2340.1 1030.3,2345.5 1030.9,2347.8 1031.5,2346 1032.1,2346.5 1032.7,2342 1033.3,2343.1 1033.9,2341.7 1034.6,2344.8 1035.2,2340.7 1035.8,2337.9 1036.4,2342.2 1037,2347.3 1037.6,2342.3 1038.3,2340.9 1038.9,2339.8 1039.5,2344.4 1040.1,2345.4 1040.7,2343.3 1041.3,2343.1 1041.9,2340 1042.6,2344.4 1043.2,2342.5 1043.8,2343.3 1044.4,2340.1 1045,2343.2 1045.6,2342 1046.2,2343.9 1046.9,2342.7 1047.5,2341.4 1048.1,2348.2 1048.7,2343.7 1049.3,2345.1 1049.9,2345.3 1050.6,2342.8 1051.2,2342.9 1051.8,2341.2 1052.4,2339.2 1053,2345.5 1053.6,2344 1054.2,2341.9 1054.9,2343 1055.5,2339.2 1056.1,2345.2 1056.7,2342 1057.3,2345.5 1057.9,2340.8 1058.5,2340.3 1059.2,2342.9 1059.8,2342.8 1060.4,2348.2 1061,2345 1061.6,2344.5 1062.2,2349.2 1062.8,2344.6 1063.5,2343.6 1064.1,2341.2 1064.7,2346.4 1065.3,2341.2 1065.9,2343.2 1066.5,2339.9 1067.2,2339.7 1067.8,2339.3 1068.4,2342.1 1069,2344.1 1069.6,2340.2 1070.2,2343.5 1070.8,2344 1071.5,2344.3 1072.1,2343.2 1072.7,2341.9 1073.3,2340.7 1073.9,2344.2 1074.5,2341.5 1075.1,2347.2 1075.8,2343.9 1076.4,2340.6 1077,2344 1077.6,2344.4 1078.2,2344.8 1078.8,2344.7 1079.5,2345.6 1080.1,2348.1 1080.7,2344.2 1081.3,2345.2 1081.9,2347.3 1082.5,2342.4 1083.1,2345.5 1083.8,2339.2 1084.4,2347.8 1085,2343 1085.6,2339.6 1086.2,2340.9 1086.8,2347.5 1087.4,2342.7 1088.1,2342.5 1088.7,2341.5 1089.3,2343.5 1089.9,2342.3 1090.5,2339.7 1091.1,2344 1091.7,2341.6 1092.4,2346.7 1093,2344.3 1093.6,2344.4 1094.2,2339.5 1094.8,2339 1095.4,2345.8 1096.1,2342.8 1096.7,2344 1097.3,2342.3 1097.9,2344.8 1098.5,2342.7 1099.1,2343.2 1099.7,2341.2 1100.4,2347.3 1101,2340.4 1101.6,2344.2 1102.2,2346.2 1102.8,2342 1103.4,2344.2 1104,2339.4 1104.7,2345.6 1105.3,2343.5 1105.9,2341 1106.5,2344.4 1107.1,2344.6 1107.7,2339.2 1108.4,2343.1 1109,2343.5 1109.6,2344.5 1110.2,2344.5 1110.8,2344.1 1111.4,2343.7 1112,2344 1112.7,2344.7 1113.3,2341 1113.9,2346.4 1114.5,2348.3 1115.1,2342.5 1115.7,2343.2 1116.3,2345.7 1117,2346.2 1117.6,2341.6 1118.2,2341.7 1118.8,2344.7 1119.4,2343.5 1120,2342.4 1120.7,2346 1121.3,2342.8 1121.9,2340.7 1122.5,2342.6 1123.1,2341.6 1123.7,2341 1124.3,2342.7 1125,2344.3 1125.6,2342.5 1126.2,2342.3 1126.8,2344.1 1127.4,2343.3 1128,2344.7 1128.6,2340.8 1129.3,2345.5 1129.9,2344.7 1130.5,2344.4 1131.1,2341.6 1131.7,2340.2 1132.3,2344.8 1132.9,2343.2 1133.6,2340.8 1134.2,2344.5 1134.8,2346.1 1135.4,2343.3 1136,2344.5 1136.6,2341.2 1137.3,2341.9 1137.9,2340.1 1138.5,2343.6 1139.1,2346.1 1139.7,2343.3 1140.3,2340.9 1140.9,2347 1141.6,2343.1 1142.2,2339.6 1142.8,2345.3 1143.4,2341.4 1144,2346.8 1144.6,2342.5 1145.2,2342.5 1145.9,2343.1 1146.5,2341.9 1147.1,2342.7 1147.7,2340.7 1148.3,2344.3 1148.9,2340.5 1149.6,2346.8 1150.2,2338.4 1150.8,2340.9 1151.4,2340.5 1152,2342.8 1152.6,2343.7 1153.2,2343.9 1153.9,2340.1 1154.5,2341.2 1155.1,2341.8 1155.7,2345.4 1156.3,2342.7 1156.9,2342.9 1157.5,2343.4 1158.2,2344.2 1158.8,2345.8 1159.4,2338 1160,2342 1160.6,2340.1 1161.2,2347.2 1161.9,2338.1 1162.5,2346.1 1163.1,2342 1163.7,2343.2 1164.3,2341.6 1164.9,2342.8 1165.5,2340.7 1166.2,2345.5 1166.8,2343.4 1167.4,2342.9 1167.8,2347.1 1168.2,2347.4 1168.5,2345.1 1168.8,2341.3 1169.1,2342.8 1169.4,2338.5 1169.7,2338.2 1170,2344.7 1170.3,2342.7 1170.6,2344.9 1170.9,2342.5 1171.2,2343.8 1171.5,2346.5 1171.8,2345 1172.2,2341.7 1172.5,2344.2 1172.8,2345.8 1173.1,2339 1173.4,2338.4 1173.7,2343.7 1174,2340.5 1174.3,2340.6 1174.6,2342.2 1174.9,2347.4 1175.2,2343.4 1175.5,2341.3 1175.8,2343.5 1176.1,2339.1 1176.5,2343.2 1176.8,2343.1 1177.1,2345 1177.4,2343.4 1177.7,2342.8 1178,2343.1 1178.3,2341.3 1178.6,2339.3 1178.9,2340 1179.2,2339.7 1179.5,2343.1 1179.8,2347.7 1180.1,2345.9 1180.5,2345 1180.8,2342.9 1181.1,2346.6 1181.4,2341.8 1181.7,2343.7 1182,2341.5 1182.3,2339.5 1182.6,2345.7 1182.9,2342.1 1183.2,2346.6 1183.5,2343.9 1183.8,2342.5 1184.1,2343.3 1184.4,2346.2 1184.8,2342.6 1185.1,2343.1 1185.4,2344.7 1185.7,2342.8 1186,2341.5 1186.3,2338.9 1186.6,2343.5 1186.9,2342.5 1187.2,2348 1187.5,2343.3 1187.8,2343.1 1188.1,2340.6 1188.4,2343.2 1188.8,2341.1 1189.1,2346 1189.4,2340.9 1189.7,2338.9 1190,2343.2 1190.3,2344.4 1190.6,2340.2 1190.9,2343 1191.2,2339.6 1191.5,2340 1191.8,2343.7 1192.1,2341.4 1192.4,2344.8 1192.8,2349.1 1193.1,2344.9 1193.4,2345 1193.7,2346.1 1194,2348.1 1194.3,2343 1194.6,2341.2 1194.9,2340.3 1195.2,2343.3 1195.5,2345.9 1195.8,2341.1 1196.1,2343.4 1196.4,2344.5 1196.7,2342.8 1197.1,2342.3 1197.4,2344.9 1197.7,2343.1 1198,2345.5 1198.3,2344.2 1198.6,2346.2 1198.9,2341.9 1199.2,2340.9 1199.5,2342.4 1199.8,2340.8 1200.1,2346.3 1200.4,2340.4 1200.7,2344.2 1201.1,2341.6 1201.4,2343 1201.7,2342.4 1202,2341.9 1202.3,2341.5 1202.6,2340.2 1202.9,2346.3 1203.2,2343.5 1203.5,2346.3 1203.8,2344.1 1204.1,2342.7 1204.4,2342.1 1204.7,2339.1 1205,2342.6 1205.4,2342.9 1205.7,2343.8 1206,2345.3 1206.3,2345.2 1206.6,2341.3 1206.9,2341.3 1207.2,2341.5 1207.5,2340.9 1207.8,2342.7 1208.1,2342.4 1208.4,2347.4 1208.7,2341.9 1209,2341.9 1209.4,2343.7 1209.7,2342 1210,2341.5 1210.3,2342 1210.6,2344.1 1210.9,2346.8 1211.2,2344.4 1211.5,2344.5 1211.8,2342.6 1212.1,2345.9 1212.4,2347.5 1212.7,2344.6 1213,2345.5 1213.4,2341.2 1213.7,2346.4 1214,2342.1 1214.3,2345.7 1214.6,2341.8 1214.9,2340.8 1215.2,2342 1215.5,2343.3 1215.8,2344.4 1216.1,2343.7 1216.4,2342.1 1216.7,2341.6 1217,2343.2 1217.3,2339.5 1217.7,2346.7 1218,2346.4 1218.3,2346.9 1218.6,2347.1 1218.9,2342.7 1219.2,2343.8 1219.5,2344.6 1219.8,2346.9 1220.1,2342.4 1220.4,2343.6 1220.7,2343.8 1221,2344.1 1221.3,2344.2 1221.7,2339.8 1222,2341.1 1222.3,2339.1 1222.6,2340.9 1222.9,2344.5 1223.2,2340.3 1223.5,2340 1223.8,2341.3 1224.1,2341.6 1224.4,2340.8 1224.7,2340.4 1225,2344.3 1225.3,2339.9 1225.6,2341.3 1226,2342.6 1226.3,2343.4 1226.6,2346.4 1226.9,2341.8 1227.2,2344.4 1227.5,2342.9 1227.8,2346.1 1228.1,2342.7 1228.4,2344.2 1228.7,2349.1 1229,2343.8 1229.3,2343.5 1229.6,2341.4 1230,2342.2 1230.3,2341.8 1230.6,2343.9 1230.9,2345.2 1231.2,2343.5 1231.5,2340.4 1231.8,2342.3 1232.1,2343.4 1232.4,2344.1 1232.7,2340.6 1233,2339.4 1233.3,2340.9 1233.6,2344.5 1233.9,2344.8 1234.3,2344.7 1234.6,2341.5 1234.9,2341.6 1235.2,2343.3 1235.5,2345.4 1235.8,2345.4 1236.1,2344.5 1236.4,2341.5 1236.7,2343.6 1237,2342.9 1237.3,2339.8 1237.6,2344.4 1237.9,2339.2 1238.3,2340.3 1238.6,2342.7 1238.9,2338.6 1239.2,2347.2 1239.5,2342.8 1239.8,2342.5 1240.1,2342.2 1240.4,2343 1240.7,2344.9 1241,2340.1 1241.3,2341.9 1241.6,2339.6 1241.9,2341.7 1242.3,2343.9 1242.6,2348.4 1242.9,2343.1 1243.2,2342.5 1243.5,2345.4 1243.8,2342.6 1244.1,2344.8 1244.4,2342.3 1244.7,2344.8 1245,2339.9 1245.3,2343.1 1245.6,2341.4 1245.9,2344.5 1246.2,2343.9 1246.6,2341.5 1246.9,2344.4 1247.2,2343.4 1247.5,2344.5 1247.8,2346.5 1248.1,2342.4 1248.4,2341.6 1248.7,2344 1249,2338.7 1249.3,2342.5 1249.6,2343.2 1249.9,2346.4 1250.2,2345.4 1250.6,2342.1 1250.9,2341.7 1251.2,2342.4 1251.5,2345.6 1251.8,2347.7 1252.1,2343.8 1252.4,2339.8 1252.7,2341.9 1253,2342.5 1253.3,2341.5 1253.6,2343.1 1253.9,2347.3 1254.2,2342 1254.5,2343.5 1254.9,2348.1 1255.2,2341.5 1255.5,2348.3 1255.8,2342.3 1256.1,2344 1256.4,2344.4 1256.7,2344.5 1257,2342.6 1257.3,2342 1257.6,2339.2 1257.9,2341.1 1258.2,2340.5 1258.5,2345.6 1258.9,2343.9 1259.2,2343.2 1259.5,2344.1 1259.8,2343.7 1260.1,2340.1 1260.4,2341.4 1260.7,2340.4 1261,2342.4 1261.3,2344.3 1261.6,2342.6 1261.9,2341.4 1262.2,2343.2 1262.5,2338.9 1262.9,2339.9 1263.2,2342.5 1263.5,2342.5 1263.8,2340.4 1264.1,2341.2 1264.4,2340.6 1264.7,2346.9 1265,2347.9 1265.3,2343.4 1265.6,2343.4 1265.9,2346.4 1266.2,2340.8 1266.5,2343.6 1266.8,2343.3 1267.2,2344.7 1267.5,2345.2 1267.8,2341.8 1268.1,2343.2 1268.4,2343.5 1268.7,2344.1 1269,2341.9 1269.3,2341.9 1269.6,2345.9 1269.9,2343 1270.2,2347.2 1270.5,2342.3 1270.8,2342.3 1271.2,2342.7 1271.5,2346.7 1271.8,2348.2 1272.1,2345.1 1272.4,2343.6 1272.7,2345.8 1273,2346 1273.3,2342.3 1273.6,2347.3 1273.9,2339.2 1274.2,2341.2 1274.5,2341.5 1274.8,2341.8 1275.1,2344 1275.5,2343 1275.8,2343.2 1276.1,2338.8 1276.4,2342.8 1276.7,2342.9 1277,2344.4 1277.3,2342.1 1277.6,2341.3 1277.9,2345.8 1278.2,2340.1 1278.5,2344.8 1278.8,2344.1 1279.1,2344.2 1279.5,2342.3 1279.8,2340 1280.1,2343.4 1280.4,2342.9 1280.7,2341.5 1281,2337.9 1281.3,2338.4 1281.6,2342 1281.9,2346.1 1282.2,2346 1282.5,2342.8 1282.8,2348.2 1283.1,2342.2 1283.5,2344.7 1283.8,2342.1 1284.1,2342.7 1284.4,2341.9 1284.7,2345.2 1285,2340.8 1285.3,2346.1 1285.6,2345.3 1285.9,2344 1286.2,2339 1286.5,2345 1286.8,2345 1287.1,2336.7 1287.4,2348.1 1287.8,2347.2 1288.1,2342.9 1288.4,2343.7 1288.7,2340.1 1289,2343.9 1289.3,2341.9 1289.6,2341.8 1289.9,2343.7 1290.2,2344.8 1290.5,2340.7 1290.8,2342.5 1291.1,2344.1 1291.4,2342.2 1291.8,2340.2 1292.1,2344.4 1292.4,2338.5 1292.7,2339.1 1293,2342.3 1293.3,2341.7 1293.6,2344.3 1293.9,2342.7 1294.2,2342.6 1294.5,2339.9 1294.8,2342.8 1295.1,2344.5 1295.4,2342.4 1295.7,2343.9 1296.1,2344.2 1296.4,2340.2 1296.7,2340.3 1297,2341.3 1297.3,2343.9 1297.6,2346 1297.9,2346.8 1298.2,2344.3 1298.5,2343.9 1298.8,2344.9 1299.1,2345.8 1299.4,2343.2 1299.7,2340.7 1300.1,2346.5 1300.4,2343.6 1300.7,2342.1 1301,2339.4 1301.3,2340.9 1301.6,2342.9 1301.9,2344.9 1302.2,2342.8 1302.5,2339.7 1302.8,2348.4 1303.1,2343.7 1303.4,2340.7 1303.7,2342.7 1304.1,2342.3 1304.4,2342.3 1304.7,2345 1305,2341.5 1305.3,2343.4 1305.6,2342.6 1305.9,2345 1306.2,2341.7 1306.5,2344.9 1306.8,2343.2 1307.1,2342 1307.4,2343.5 1307.7,2341 1308,2343.6 1308.4,2343.3 1308.7,2346.7 1309,2346 1309.3,2343.4 1309.6,2344.1 1309.9,2342.3 1310.2,2342.4 1310.5,2340.4 1310.8,2342.2 1311.1,2341.6 1311.4,2342.2 1311.7,2342.6 1312,2344.8 1312.4,2343.9 1312.7,2344.3 1313,2347 1313.3,2345.3 1313.6,2341.8 1313.9,2342.3 1314.2,2343.8 1314.5,2343.6 1314.8,2345 1315.1,2342.3 1315.4,2342.9 1315.7,2342.7 1316,2342.8 1316.3,2342.1 1316.7,2345.3 1317,2344.9 1317.3,2342.6 1317.6,2340.5 1317.9,2346.1 1318.2,2342.7 1318.5,2343 1318.8,2342.7 1319.1,2341.8 1319.4,2343.6 1319.7,2344.5 1320,2343.3 1320.3,2341.2 1320.7,2343.5 1321,2343.4 1321.3,2340.9 1321.6,2343.6 1321.9,2344.2 1322.2,2344.1 1322.5,2341.4 1322.8,2344.2 1323.1,2344 1323.4,2347 1323.7,2340.9 1324,2342.6 1324.3,2340.8 1324.7,2342.1 1325,2346.7 1325.3,2346.3 1325.6,2343.1 1325.9,2341.2 1326.2,2339.9 1326.5,2344.4 1326.8,2340.9 1327.1,2344 1327.4,2342.5 1327.7,2344.2 1328,2345.3 1328.3,2342.6 1328.6,2342.6 1329,2345.6 1329.3,2342.7 1329.6,2339.8 1329.9,2340 1330.2,2346 1330.5,2346.4 1330.8,2340.2 1331.1,2344.2 1331.4,2344.1 1331.7,2346.5 1332,2339.5 1332.3,2342.8 1332.6,2346.3 1333,2341 1333.3,2343.7 1333.6,2345.5 1333.9,2343.3 1334.2,2346.7 1334.5,2343 1334.8,2341.5 1335.1,2341.9 1335.4,2342 1335.7,2342.5 1336,2342.5 1336.3,2344 1336.6,2343.1 1336.9,2342.5 1337.3,2344.2 1337.6,2345.8 1337.9,2342.2 1338.2,2343 1338.5,2343 1338.8,2344.5 1339.1,2345.8 1339.4,2341.6 1339.7,2347.9 1340,2343 1340.3,2345.3 1340.6,2344.1 1340.9,2346.3 1341.3,2343.4 1341.6,2343.2 1341.9,2339.7 1342.2,2347 1342.5,2344.5 1342.8,2344.1 1343.1,2343.5 1343.4,2345.7 1343.7,2342.3 1344,2340.4 1344.3,2344.2 1344.6,2344.3 1344.9,2340 1345.3,2345 1345.6,2342.3 1345.9,2344.7 1346.2,2341.8 1346.5,2342.9 1346.8,2338.9 1347.1,2345.9 1347.4,2344.9 1347.7,2346.8 1348,2346.4 1348.3,2344.6 1348.6,2343.1 1348.9,2342.3 1349.2,2342.7 1349.6,2343.6 1349.9,2343.5 1350.2,2343.8 1350.5,2343.9 1350.8,2345.5 1351.1,2342.7 1351.4,2343.7 1351.7,2342 1352,2345.6 1352.3,2343.6 1352.6,2345 1352.9,2345.6 1353.2,2346.1" fill="none" stroke="#D95319" stroke-width="8.33" stroke-linejoin="round"/>
<path d="M1353.2,2346.1h0" fill="none" stroke="#D95319" stroke-width="8.33" stroke-linecap="round"/>
<path d="M515.3,2941.2 515.4,1744.3M545.2,1744.3 545.7,2569.8 545.9,2941.2M578,2941.2 578.3,2774.2 578.9,2447.7 579.5,2130.5 580.1,1797.6 580.2,1744.3M608.1,1744.3 608.4,1792.7 609,1868.7 609.7,1982.3 610.3,2056 610.9,2149.1 611.5,2211.5 612.1,2288.9 612.7,2372.5 613.3,2476.2 614,2576.2 614.6,2664.4 615.2,2761.4 615.8,2836.9 616.4,2894.6 616.8,2941.2M631.4,2941.2 631.8,2918.4 632.4,2894.7 633,2857.7 633.6,2833.8 634.2,2783.8 634.9,2757.4 635.5,2718 636.1,2680.7 636.7,2629.7 637.3,2608.9 637.9,2570.7 638.6,2541.4 639.2,2499.2 639.8,2469 640.4,2432.8 641,2399.5 641.6,2368.4 642.2,2325.6 642.9,2286.7 643.5,2272.9 644.1,2222.5 644.7,2198.4 645.3,2165.8 645.9,2146.3 646.5,2122.7 647.2,2106 647.8,2091.8 648.4,2072.8 649,2051.3 649.6,2038.2 650.2,2025.5 650.9,2023.8 651.5,2002.6 652.1,1994.8 652.7,1981.6 653.3,1981.2 653.9,1977.6 654.5,1983.5 655.2,1968.7 655.8,1979.9 656.4,1984.5 657,1990.9 657.6,1994.9 658.2,2004.8 658.8,2011.7 659.5,2016.8 660.1,2034.5 660.7,2032.4 661.3,2045.4 661.9,2059 662.5,2062 663.2,2079.7 663.8,2089.5 664.4,2091.8 665,2100.3 665.6,2121.1 666.2,2130.5 666.8,2138.3 667.5,2153.3 668.1,2161.2 668.7,2179.2 669.3,2192.2 669.9,2204.2 670.5,2207.4 671.1,2225.8 671.8,2238 672.4,2244.5 673,2269.8 673.6,2274.8 674.2,2287.4 674.8,2314.1 675.4,2305.7 676.1,2328.3 676.7,2332.5 677.3,2345.4 677.9,2343.6 678.5,2350.9 679.1,2360.7 679.8,2374.7 680.4,2380.8 681,2383.2 681.6,2391.8 682.2,2397 682.8,2406.9 683.4,2410.4 684.1,2418.2 684.7,2423.5 685.3,2421.7 685.9,2428.1 686.5,2418.5 687.1,2424.3 687.7,2435.1 688.4,2424.5 689,2421 689.6,2414.6 690.2,2422.4 690.8,2415 691.4,2416.2 692.1,2419.6 692.7,2417.9 693.3,2408.5 693.9,2400.3 694.5,2397.5 695.1,2392.7 695.7,2394.1 696.4,2397.4 697,2383.7 697.6,2392.1 698.2,2374.8 698.8,2366.4 699.4,2367.4 700,2369.6 700.7,2362.4 701.3,2358.3 701.9,2354.7 702.5,2351 703.1,2349.2 703.7,2345.2 704.4,2344.5 705,2348.3 705.6,2346.6 706.2,2336.8 706.8,2331.8 707.4,2339 708,2333.7 708.7,2335.4 709.3,2326.7 709.9,2328 710.5,2330.3 711.1,2322.4 711.7,2322.6 712.3,2319.8 713,2315.3 713.6,2316.4 714.2,2314.2 714.8,2321 715.4,2305 716,2306.6 716.6,2306 717.3,2309.5 717.9,2319.4 718.5,2303.8 719.1,2306.5 719.7,2302.9 720.3,2308.6 721,2306 721.6,2306.9 722.2,2310.6 722.8,2308.5 723.4,2309.3 724,2310.2 724.6,2322.5 725.3,2317.1 725.9,2317.6 726.5,2318.2 727.1,2315.6 727.7,2330.1 728.3,2323.5 728.9,2326.9 729.6,2326.7 730.2,2326.9 730.8,2326.5 731.4,2328.9 732,2341.3 732.6,2335.2 733.3,2336.3 733.9,2338.8 734.5,2340.6 735.1,2336.4 735.7,2346.3 736.3,2339.6 736.9,2343.1 737.6,2344.8 738.2,2352.8 738.8,2343.5 739.4,2344.3 740,2339.3 740.6,2341.2 741.2,2347.5 741.9,2343.6 742.5,2339 743.1,2356.5 743.7,2348.1 744.3,2346.9 744.9,2342.5 745.5,2350.5 746.2,2349.9 746.8,2351.6 747.4,2347.3 748,2345.2 748.6,2351.2 749.2,2350.9 749.9,2348.4 750.5,2354.1 751.1,2354.2 751.7,2354.6 752.3,2344 752.9,2350 753.5,2348 754.2,2345.8 754.8,2350.8 755.4,2349 756,2350 756.6,2354.6 757.2,2347.9 757.8,2350.2 758.5,2349 759.1,2343 759.7,2349.5 760.3,2338.6 760.9,2343.3 761.5,2343.1 762.2,2341.5 762.8,2350.8 763.4,2346.5 764,2345 764.6,2346.7 765.2,2347.6 765.8,2345.2 766.5,2340 767.1,2340.2 767.7,2341.9 768.3,2341.5 768.9,2339.2 769.5,2344.4 770.1,2340.8 770.8,2340.1 771.4,2335.5 772,2338.5 772.6,2336.1 773.2,2333 773.8,2341.1 774.5,2337.6 775.1,2333 775.7,2345 776.3,2339.9 776.9,2330.5 777.5,2330.4 778.1,2337.9 778.8,2333.6 779.4,2338.7 780,2341.7 780.6,2337.4 781.2,2337 781.8,2334.8 782.4,2337.6 783.1,2332.8 783.7,2340.7 784.3,2340 784.9,2336.9 785.5,2339 786.1,2339.3 786.7,2331.2 787.4,2340.9 788,2336.1 788.6,2339 789.2,2341 789.8,2341.4 790.4,2337.2 791.1,2339.3 791.7,2335 792.3,2338.4 792.9,2346.1 793.5,2334.9 794.1,2336.1 794.7,2332 795.4,2340.8 796,2340.5 796.6,2345.9 797.2,2342.5 797.8,2339.4 798.4,2340.5 799,2341.8 799.7,2337.5 800.3,2341.8 800.9,2341.9 801.5,2341 802.1,2342.9 802.7,2342.6 803.4,2343.3 804,2344.3 804.6,2339.3 805.2,2339.7 805.8,2345.7 806.4,2342.1 807,2343.8 807.7,2337.3 808.3,2342.8 808.9,2341.4 809.5,2340.1 810.1,2338.8 810.7,2343.7 811.3,2342.6 812,2345.1 812.6,2342.2 813.2,2341 813.8,2338 814.4,2342.2 815,2343.6 815.7,2347.5 816.3,2343.2 816.9,2339.1 817.5,2347.1 818.1,2344.4 818.7,2340.7 819.3,2347.1 820,2340.8 820.6,2340.1 821.2,2339.2 821.8,2341.7 822.4,2341.4 823,2336 823.6,2339.6 824.3,2342.6 824.9,2341.7 825.5,2346 826.1,2336.1 826.7,2344.9 827.3,2342.4 827.9,2338.8 828.6,2342.6 829.2,2338.4 829.8,2345.3 830.4,2337.5 831,2342 831.6,2340.7 832.3,2344.2 832.9,2337.8 833.5,2337.3 834.1,2348.9 834.7,2341 835.3,2339.9 835.9,2342.1 836.6,2345 837.2,2341.6 837.8,2341.3 838.4,2346.7 839,2342.2 839.6,2342.8 840.2,2344.8 840.9,2344.2 841.5,2342.5 842.1,2338.3 842.7,2344.3 843.3,2349.3 843.9,2343.1 844.6,2343.8 845.2,2340 845.8,2344.6 846.4,2341.2 847,2339.8 847.6,2343.9 848.2,2344.6 848.9,2340 849.5,2345.2 850.1,2342.7 850.7,2346.3 851.3,2348.2 851.9,2339.9 852.5,2345.2 853.2,2346.2 853.8,2339.5 854.4,2344.7 855,2342 855.6,2337 856.2,2343.2 856.9,2341.1 857.5,2347.8 858.1,2345.3 858.7,2342.8 859.3,2347 859.9,2344.2 860.5,2343.4 861.2,2343 861.8,2341.3 862.4,2347.3 863,2341.9 863.6,2341.3 864.2,2339.4 864.8,2340.9 865.5,2342 866.1,2339.5 866.7,2342.2 867.3,2346.5 867.9,2340.7 868.5,2342.5 869.1,2340.7 869.8,2340.2 870.4,2339.7 871,2341.6 871.8,2345.5 872.1,2344.3 872.4,2335.5 872.7,2346.3 873,2340.8 873.3,2341.4 873.6,2343.2 873.9,2340.8 874.2,2340.5 874.5,2341.7 874.8,2344.4 875.1,2341.9 875.5,2341.5 875.8,2340.7 876.1,2346.6 876.4,2343.9 876.7,2344.3 877,2345.4 877.3,2343.9 877.6,2344.3 877.9,2339.4 878.2,2341.8 878.5,2341 878.8,2343 879.1,2341.3 879.4,2341.4 879.8,2340.6 880.1,2340.7 880.4,2343.5 880.7,2347.7 881,2342 881.3,2341.7 881.6,2347.6 881.9,2341.6 882.2,2344.4 882.5,2343.2 882.8,2344.4 883.1,2343.6 883.4,2341 883.8,2338.4 884.1,2341.1 884.4,2343.6 884.7,2351.4 885,2344.2 885.3,2344.3 885.6,2344.2 885.9,2346.4 886.2,2345.6 886.5,2340.1 886.8,2341 887.1,2343.4 887.4,2340.9 887.7,2344.4 888.1,2339.1 888.4,2345.1 888.7,2344.2 889,2341.3 889.3,2344.3 889.6,2343.4 889.9,2345.7 890.2,2339.7 890.5,2344 890.8,2343.3 891.1,2346.7 891.4,2340 891.7,2347.5 892.1,2337.8 892.4,2342.8 892.7,2350 893,2342 893.3,2348.8 893.6,2340.7 893.9,2338.6 894.2,2346.1 894.5,2345.5 894.8,2343 895.1,2341.2 895.4,2340.9 895.7,2346 896.1,2345.2 896.4,2349.7 896.7,2345.8 897,2344.4 897.3,2342 897.6,2341.1 897.9,2341.5 898.2,2344.4 898.5,2345.8 898.8,2344.9 899.1,2344.5 899.4,2340.3 899.7,2341.4 900,2338.8 900.4,2340.7 900.7,2345.6 901,2346.2 901.3,2341.8 901.6,2343.9 901.9,2338.4 902.2,2342.6 902.5,2340.8 902.8,2342.2 903.1,2345.7 903.4,2344.7 903.7,2342.4 904,2349.2 904.4,2346.8 904.7,2339.3 905,2342 905.3,2348.5 905.6,2340.3 905.9,2350.9 906.2,2339.1 906.5,2338.7 906.8,2338.7 907.1,2341.1 907.4,2341.3 907.7,2345.7 908,2341.5 908.3,2345.1 908.7,2344.3 909,2347.2 909.3,2339 909.6,2344.1 909.9,2348.6 910.2,2345.3 910.5,2345.4 910.8,2343.3 911.1,2342.6 911.4,2346.5 911.7,2339.9 912,2341.3 912.3,2345.1 912.7,2344 913,2342 913.3,2342 913.6,2344.1 913.9,2344 914.2,2348.4 914.5,2342.7 914.8,2348.2 915.1,2340.7 915.4,2344.1 915.7,2344.8 916,2338.4 916.3,2348.8 916.7,2345.9 917,2341.4 917.3,2341.9 917.6,2340.9 917.9,2342 918.2,2341.4 918.5,2345.6 918.8,2347.6 919.1,2347.8 919.4,2343.2 919.7,2343.5 920,2339.4 920.3,2345.3 920.6,2346 921,2340 921.3,2346.1 921.6,2342.9 921.9,2346.1 922.2,2345.5 922.5,2339.1 922.8,2348.1 923.1,2343.3 923.4,2341.1 923.7,2347.1 924,2345 924.3,2344.5 924.6,2346.1 925,2345.6 925.3,2339 925.6,2345.4 925.9,2342.9 926.2,2344 926.5,2342 926.8,2343.8 927.1,2347.7 927.4,2343.1 927.7,2342.4 928,2347.2 928.3,2344.4 928.6,2339.8 928.9,2339.4 929.3,2343.2 929.6,2344.5 929.9,2339.2 930.2,2348 930.5,2349 930.8,2342.7 931.1,2349.5 931.4,2342.5 931.7,2341.9 932,2341.6 932.3,2345.3 932.6,2338.2 932.9,2344.1 933.3,2348.3 933.6,2341 933.9,2342.9 934.2,2346.6 934.5,2341.1 934.8,2340.2 935.1,2345.4 935.4,2343.6 935.7,2347.6 936,2344.2 936.3,2343.8 936.6,2341.5 936.9,2342.7 937.3,2343.4 937.6,2343.3 937.9,2345.7 938.2,2340 938.5,2341.3 938.8,2348.9 939.1,2342 939.4,2343.1 939.7,2347.2 940,2340 940.3,2339.6 940.6,2346.5 940.9,2349.1 941.2,2338.6 941.6,2344.6 941.9,2342.3 942.2,2347.1 942.5,2340.5 942.8,2340.8 943.1,2344.4 943.4,2340.2 943.7,2344.6 944,2344.9 944.3,2343.4 944.6,2343.1 944.9,2341.7 945.2,2343.2 945.6,2344.3 945.9,2344.2 946.2,2338.8 946.5,2343 946.8,2344 947.1,2346.8 947.4,2346.4 947.7,2340.6 948,2340.2 948.3,2343.7 948.6,2342.6 948.9,2342.6 949.2,2344.7 949.5,2341.8 949.9,2341.8 950.2,2338.6 950.5,2343.1 950.8,2342.2 951.1,2339.5 951.4,2343.7 951.7,2340.4 952,2346.1 952.3,2341.3 952.6,2342.6 952.9,2339.9 953.2,2347.2 953.5,2343.6 953.9,2342.8 954.2,2338.5 954.5,2342.4 954.8,2342.9 955.1,2347.5 955.4,2340.3 955.7,2345 956,2343.8 956.3,2340.2 956.6,2343.9 956.9,2340 957.2,2342.6 957.5,2340.5 957.9,2343.4 958.2,2337.3 958.5,2346.9 958.8,2342 959.1,2344.1 959.4,2340.7 959.7,2341.4 960,2343.9 960.3,2343.1 960.6,2340.3 960.9,2341.6 961.2,2343.8 961.5,2342.5 961.8,2344 962.2,2337.9 962.5,2340.3 962.8,2347.5 963.1,2343.9 963.4,2344.2 963.7,2342.7 964,2342.7 964.3,2345.5 964.6,2343.1 964.9,2339.2 965.2,2341.9 965.5,2343.6 965.8,2344.8 966.2,2346.4 966.5,2347.4 966.8,2344.3 967.1,2344.2 967.4,2345.9 967.7,2343.6 968,2342.7 968.3,2345 968.6,2342.1 968.9,2343.9 969.2,2342.9 969.5,2344.8 969.8,2345.4 970.1,2346.6 970.5,2344.6 970.8,2345.1 971.1,2345.2 971.4,2342.9 971.7,2340.6 972,2341.1 972.3,2347.4 972.6,2343.6 972.9,2343 973.2,2340.9 973.5,2343.1 973.8,2343.3 974.1,2341.3 974.5,2343.1 974.8,2341.1 975.1,2344.3 975.4,2338.9 975.7,2342.6 976,2343.6 976.3,2341.6 976.6,2346.3 976.9,2344.7 977.2,2341.5 977.5,2345.8 977.8,2343 978.1,2342.4 978.5,2345 978.8,2345.4 979.1,2345.3 979.4,2345.9 979.7,2340.3 980,2341.1 980.3,2344.5 980.6,2346 980.9,2345.4 981.2,2342.8 981.5,2344.7 981.8,2338.9 982.1,2350.2 982.4,2346.5 982.8,2344.9 983.1,2342.1 983.4,2337.6 983.7,2343.9 984,2343.9 984.3,2345.5 984.6,2343.3 984.9,2343.1 985.2,2342.2 985.5,2346.5 985.8,2345 986.1,2342.6 986.4,2342.6 986.8,2341.2 987.1,2342 987.4,2345 987.7,2344.5 988,2344.7 988.3,2344.1 988.6,2345.3 988.9,2344 989.2,2339.3 989.5,2343.4 989.8,2343 990.1,2339 990.4,2342.6 990.7,2341.5 991.1,2342.2 991.4,2343.3 991.7,2345.8 992,2345.4 992.3,2341.1 992.6,2344.3 992.9,2342.8 993.2,2343.4 993.5,2343.1 993.8,2344.3 994.1,2341.1 994.4,2346.7 994.7,2343.3 995.1,2343.7 995.4,2339.4 995.7,2345.5 996,2341.3 996.3,2346.4 996.6,2346.6 996.9,2343.6 997.2,2344.6 997.5,2340.6 997.8,2340.8 998.1,2344.4 998.4,2343.7 998.7,2343.1 999.1,2343.9 999.4,2339.8 999.7,2343.7 1000,2343.8 1000.3,2341.1 1000.6,2342.8 1000.9,2346.3 1001.2,2338.5 1001.5,2339.9 1001.8,2342.2 1002.1,2347.6 1002.4,2343.7 1002.7,2343.6 1003,2344 1003.4,2343.3 1003.7,2342.3 1004,2346.4 1004.3,2337.7 1004.6,2339.5 1004.9,2343.8 1005.2,2341.8 1005.5,2341.4 1005.8,2342.9 1006.1,2344.3 1006.4,2348.2 1006.7,2344.6 1007,2343.7 1007.4,2341.5 1007.7,2340.6 1008,2344.7 1008.3,2342 1008.6,2344.7 1008.9,2342.1 1009.2,2342.9 1009.5,2342.8 1009.8,2340.8 1010.1,2341.6 1010.4,2339.8 1010.7,2343.9 1011,2338.9 1011.3,2342.1 1011.7,2343.6 1012,2346.3 1012.3,2344.6 1012.6,2344.9 1012.9,2342.6 1013.2,2341.2 1013.5,2345 1013.8,2341.9 1014.1,2340.1 1014.4,2345.2 1014.7,2341.2 1015,2348.3 1015.3,2340.9 1015.7,2340 1016,2341.1 1016.3,2346.4 1016.6,2341 1016.9,2343.3 1017.2,2342.8 1017.5,2342.2 1017.8,2344.1 1018.1,2341.4 1018.4,2343.6 1018.7,2343.1 1019,2343.7 1019.3,2343.8 1019.7,2345.1 1020,2340.5 1020.3,2342.4 1020.6,2343.2 1020.9,2345.1 1021.2,2345.9 1021.5,2342 1021.8,2343.3 1022.1,2343.2 1022.4,2342 1022.7,2342.9 1023,2340.5 1023.3,2345.1 1023.6,2343.3 1024,2342.4 1024.3,2345.7 1024.6,2338.9 1024.9,2344.3 1025.2,2345.4 1025.5,2344.2 1025.8,2348.4 1026.1,2341.9 1026.4,2343.9 1026.7,2343.2 1027,2344.8 1027.3,2340.7 1027.6,2343.8 1028,2345.5 1028.3,2339.6 1028.6,2343.6 1028.9,2344 1029.2,2341.7 1029.5,2343.3 1029.8,2346.4 1030.1,2339.5 1030.4,2341.2 1030.7,2344.6 1031,2341.6 1031.3,2341.6 1031.6,2344.3 1031.9,2343.4 1032.3,2342.4 1032.6,2343.4 1032.9,2342.4 1033.2,2347.9 1033.5,2346 1033.8,2342.1 1034.1,2341.4 1034.4,2345.1 1034.7,2339.6 1035,2344.4 1035.3,2340.9 1035.6,2339.9 1035.9,2343.2 1036.3,2345.7 1036.6,2342 1036.9,2345.2 1037.2,2346.8 1037.5,2343.1 1037.8,2339.9 1038.1,2341.8 1038.4,2342.3 1038.7,2342.3 1039,2346.5 1039.3,2347.2 1039.6,2344 1039.9,2342.5 1040.3,2341.6 1040.6,2340.6 1040.9,2344.9 1041.2,2345.3 1041.5,2345.8 1041.8,2345.6 1042.1,2343.8 1042.4,2342.5 1042.7,2346.2 1043,2343.8 1043.3,2342.4 1043.6,2344.5 1043.9,2342.7 1044.2,2343.7 1044.6,2340 1044.9,2343.8 1045.2,2344.2 1045.5,2345.3 1045.8,2343.3 1046.1,2344.4 1046.4,2343.6 1046.7,2340.5 1047,2347.2 1047.3,2342.4 1047.6,2343.8 1047.9,2343.2 1048.2,2344.4 1048.6,2345.4 1048.9,2342.9 1049.2,2342.7 1049.5,2345.3 1049.8,2345.4 1050.1,2344 1050.4,2342.4 1050.7,2344.4 1051,2344.1 1051.3,2341.8 1051.6,2341 1051.9,2343.8 1052.2,2344.2 1052.5,2347.5 1052.9,2341 1053.2,2342.6 1053.5,2344 1053.8,2344.4 1054.1,2346 1054.4,2339.1 1054.7,2343 1055,2344.3 1055.3,2341.2 1055.6,2343.8 1055.9,2344.7 1056.2,2346.6 1056.5,2340.4 1056.9,2340.3 1057.2,2346.1 1057.5,2341.2 1057.8,2347 1058.1,2341.1 1058.4,2339.1 1058.7,2344.3 1059,2343.2 1059.3,2340.3 1059.6,2344.9 1059.9,2338 1060.2,2340.2 1060.5,2345.2 1060.8,2342.9 1061.2,2344.3 1061.5,2341.8 1061.8,2344.5 1062.1,2343 1062.4,2338.9 1062.7,2344.7 1063,2340.6 1063.3,2346.4 1063.6,2340.4 1063.9,2343.9 1064.2,2344.2 1064.5,2344.6 1064.8,2343.5 1065.2,2338.4 1065.5,2342 1065.8,2344.9 1066.1,2342.2 1066.4,2345.5 1066.7,2341 1067,2340.5 1067.3,2343.7 1067.6,2343.7 1067.9,2341.3 1068.2,2345.7 1068.5,2342.8 1068.8,2341.7 1069.2,2345 1069.5,2343.6 1069.8,2344.4 1070.1,2345.3 1070.4,2341.9 1070.7,2346.5 1071,2344.4 1071.3,2345.4 1071.6,2344.9 1071.9,2341.8 1072.2,2342.6 1072.5,2341.9 1072.8,2340 1073.1,2341.8 1073.5,2342.7 1073.8,2339.8 1074.1,2342.3 1074.4,2341.3 1074.7,2340.5 1075,2343 1075.3,2343.3 1075.6,2340.7 1075.9,2345.3 1076.2,2346.4 1076.5,2342.4 1076.8,2342.7 1077.1,2340.5 1077.5,2344.8 1077.8,2343.3 1078.1,2342.4 1078.4,2342.4 1078.7,2344.6 1079,2338.7 1079.3,2345.1 1079.6,2342.3 1079.9,2343.8 1080.2,2343.9 1080.5,2342 1080.8,2346.5 1081.1,2344.2 1081.4,2340 1081.8,2346.4 1082.1,2341.7 1082.4,2344.7 1082.7,2339.8 1083,2342.2 1083.3,2342.9 1083.6,2345 1083.9,2343.2 1084.2,2342.4 1084.5,2340.4 1084.8,2343.7 1085.1,2342.2 1085.4,2346.3 1085.8,2342.2 1086.1,2340.8 1086.4,2342.8 1086.7,2343 1087,2344.4 1087.3,2342.2 1087.6,2344.8 1087.9,2342.7 1088.2,2341.6 1088.5,2347.8 1088.8,2344.2 1089.1,2344.8 1089.4,2344.5 1089.8,2343.8 1090.1,2341.3 1090.4,2342 1090.7,2343.4 1091,2341.5 1091.3,2347 1091.6,2345.5 1091.9,2342.7 1092.2,2341.6 1092.5,2343 1092.8,2346.9 1093.1,2347 1093.4,2339.8 1093.7,2342.5 1094.1,2344.4 1094.4,2341.9 1094.7,2343.6 1095,2339.6 1095.3,2346.9 1095.6,2346.3 1095.9,2342.8 1096.2,2344.8 1096.5,2343.3 1096.8,2343.3 1097.1,2346 1097.4,2344.7 1097.7,2346.9 1098.1,2344.5 1098.4,2342.1 1098.7,2342.3 1099,2342.9 1099.3,2344.7 1099.6,2340.9 1099.9,2341.4 1100.2,2343.3 1100.5,2342.7 1100.8,2342.9 1101.1,2342.7 1101.4,2345.2 1101.7,2346.2 1102,2341.7 1102.4,2338.2 1102.7,2345.3 1103,2341.3 1103.3,2343.6 1103.6,2344.3 1103.9,2344.7 1104.2,2342.6 1104.5,2342.9 1104.8,2339.6 1105.1,2340.6 1105.4,2341.4 1105.7,2343 1106,2344.4 1106.4,2341.7 1106.7,2343.4 1107,2342.5 1107.3,2344.2 1107.6,2343.1 1107.9,2339.5 1108.2,2343.9 1108.5,2341.1 1108.8,2343.7 1109.1,2344.5 1109.4,2341.1 1109.7,2342.9 1110,2344 1110.4,2343.4 1110.7,2343 1111,2344.4 1111.3,2341.7 1111.6,2343.3 1111.9,2344 1112.2,2344.4 1112.5,2340.6 1112.8,2341.7 1113.1,2345.7 1113.4,2343.6 1113.7,2343.5 1114,2340.1 1114.3,2345.2 1114.7,2343 1115,2341.2 1115.3,2345.5 1115.6,2344.7 1115.9,2345.7 1116.2,2342.6 1116.5,2343.8 1116.8,2340.5 1117.1,2342.4 1117.4,2343 1117.7,2341.4 1118,2340.8 1118.3,2343.7 1118.7,2344.8 1119,2346.4 1119.3,2343.6 1119.6,2344 1119.9,2343.6 1120.2,2342.2 1120.5,2343.3 1120.8,2339.8 1121.1,2344.3 1121.4,2342.5 1121.7,2342.4 1122,2343.1 1122.3,2342.3 1122.6,2341.6 1123,2343.3 1123.3,2344.1 1123.6,2341.9 1123.9,2342.5 1124.2,2344.4 1124.5,2342.7 1124.8,2344.2 1125.1,2344.1 1125.4,2344.1 1125.7,2344.7 1126,2344.8 1126.3,2344.7 1126.6,2341 1127,2342.1 1127.3,2345.7 1127.6,2342.7 1127.9,2343.9 1128.2,2345.3 1128.5,2341.9 1128.8,2341.7 1129.1,2344.9 1129.4,2342.9 1129.7,2342.9 1130,2343.4 1130.3,2344.4 1130.6,2345.5 1131,2345.2 1131.3,2345.8 1131.6,2346.6 1131.9,2345.2 1132.2,2345.8 1132.5,2346.2 1132.8,2343 1133.1,2342.3 1133.4,2343.1 1133.7,2347.3 1134,2344.3 1134.3,2343.8 1134.6,2344.6 1134.9,2343.4 1135.3,2342.9 1135.6,2346.6 1135.9,2344 1136.2,2340.8 1136.5,2344.1 1136.8,2340.6 1137.1,2343.3 1137.4,2343.4 1137.7,2342.6 1138,2341 1138.3,2342.6 1138.6,2345.5 1138.9,2347.4 1139.3,2343.6 1139.6,2342.4 1139.9,2343 1140.2,2343.2 1140.5,2344.4 1140.8,2345.2 1141.1,2340.9 1141.4,2342.7 1141.7,2343.9 1142,2341.8 1142.3,2342.3 1142.6,2341.9 1142.9,2343.5 1143.2,2341.9 1143.6,2344.2 1143.9,2341 1144.2,2341.1 1144.5,2345.2 1144.8,2344.3 1145.1,2343 1145.4,2344.5 1145.7,2344.1 1146,2344.1 1146.3,2340.7 1146.6,2344.2 1146.9,2343.6 1147.2,2343.9 1147.6,2342.5 1147.9,2343.9 1148.2,2347.3 1148.5,2342.9 1148.8,2344 1149.1,2338.3 1149.4,2343.9 1149.7,2344.1 1150,2341.6 1150.3,2340.4 1150.6,2339.9 1150.9,2344.9 1151.2,2343.9 1151.6,2342.3 1151.9,2341.9 1152.2,2342.4 1152.5,2344.3 1152.8,2343.4 1153.1,2342 1153.4,2343.7 1153.7,2344 1154,2343 1154.3,2342.1 1154.6,2343.5 1154.9,2344.6 1155.2,2343.8 1155.5,2343.6 1155.9,2343.2 1156.2,2344.2 1156.5,2343.6 1156.8,2344.1 1157.1,2342.6 1157.4,2345.4 1157.7,2344.4 1158,2341.9 1158.3,2347.2 1158.6,2343 1158.9,2343 1159.2,2346 1159.5,2343.1 1159.9,2347 1160.2,2339.1 1160.5,2340.7 1160.8,2340.8 1161.1,2344 1161.4,2342 1161.7,2340.6 1162,2342.2 1162.3,2341.5 1162.6,2341.5 1162.9,2343 1163.2,2342.7 1163.5,2342.2 1163.8,2346.1 1164.2,2342.5 1164.5,2343.6 1164.8,2341.2 1165.1,2344 1165.4,2343.4 1165.7,2343.9 1166,2343.1 1166.3,2341.6 1166.6,2341.7 1166.9,2344 1167.2,2340.6 1167.5,2342.5" fill="none" stroke="#EDB120" stroke-width="8.33" stroke-linejoin="round"/>
<path d="M1167.5,2342.5h0" fill="none" stroke="#EDB120" stroke-width="8.33" stroke-linecap="round"/>
<path d="M515.3,2941.2 515.4,1744.3M545.2,1744.3 545.7,2577.7 545.9,2941.2M578,2941.2 578.3,2774.3 578.9,2455.2 579.5,2115.7 580.1,1826.2 580.3,1744.3M608,1744.3 608.4,1793.7 609,1877.4 609.7,1969.4 610.3,2038.6 610.9,2117.8 611.5,2212.8 612.1,2307.3 612.7,2380.3 613.3,2475.8 614,2572.1 614.6,2641.3 615.2,2768.1 615.8,2835.1 616.4,2908 616.8,2941.2M631.4,2941.2 631.8,2924.4 632.4,2880.3 633,2855.2 633.6,2833.6 634.2,2779.2 634.9,2756.3 635.5,2712.9 636.1,2679.6 636.7,2649.7 637.3,2593.8 637.9,2576.9 638.6,2543.9 639.2,2492.5 639.8,2461.9 640.4,2441.1 641,2386.6 641.6,2372.7 642.2,2341.8 642.9,2292.4 643.5,2250.4 644.1,2217.4 644.7,2195.8 645.3,2168 645.9,2144.9 646.5,2123 647.2,2104.3 647.8,2084.7 648.4,2083.2 649,2064.6 649.6,2045.4 650.2,2034.9 650.9,2004.2 651.5,2013.3 652.1,1995.5 652.7,1989.2 653.3,1982.4 653.9,1993.8 654.5,1972.9 655.2,1974.2 655.8,1987.3 656.4,1991.5 657,1995.6 657.6,1987.4 658.2,1999.8 658.8,2019.3 659.5,2025 660.1,2019.4 660.7,2033.7 661.3,2061.2 661.9,2065.5 662.5,2071 663.2,2079.2 663.8,2077.3 664.4,2107.5 665,2096 665.6,2112.2 666.2,2133.7 666.8,2137.1 667.5,2161.2 668.1,2163.6 668.7,2171.3 669.3,2182.1 669.9,2207.9 670.5,2208.6 671.1,2230.4 671.8,2238.3 672.4,2262.7 673,2271.6 673.6,2282.8 674.2,2280.8 674.8,2305.4 675.4,2311.4 676.1,2323.4 676.7,2331.5 677.3,2339.6 677.9,2345.7 678.5,2342.5 679.1,2359 679.8,2371.2 680.4,2381 681,2392.7 681.6,2395.9 682.2,2395.6 682.8,2415.6 683.4,2408.3 684.1,2414.9 684.7,2422.4 685.3,2426.1 685.9,2427.8 686.5,2424.1 687.1,2427.9 687.7,2426.8 688.4,2421.3 689,2425.3 689.6,2431.5 690.2,2417.9 690.8,2419.8 691.4,2406.9 692.1,2407.1 692.7,2409.3 693.3,2413.1 693.9,2403.5 694.5,2397.7 695.1,2389.4 695.7,2389.3 696.4,2376.9 697,2376.4 697.6,2379.1 698.2,2377.8 698.8,2374.7 699.4,2369.3 700,2368.6 700.7,2349.3 701.3,2365.5 701.9,2358 702.5,2352.8 703.1,2352 703.7,2342.7 704.4,2349 705,2342.7 705.6,2340.3 706.2,2331.9 706.8,2341.4 707.4,2338 708,2342.6 708.7,2335 709.3,2319.7 709.9,2330.4 710.5,2323.6 711.1,2327.1 711.7,2319.5 712.3,2325.4 713,2320.9 713.6,2314 714.2,2317.1 714.8,2315.1 715.4,2304.3 716,2308 716.6,2310.5 717.3,2309 717.9,2315.6 718.5,2306.2 719.1,2315.5 719.7,2310.1 720.3,2302.4 721,2307 721.6,2310.8 722.2,2309.1 722.8,2312 723.4,2310.4 724,2315.1 724.6,2313.7 725.3,2315 725.9,2306.3 726.5,2310.9 727.1,2325.4 727.7,2327.5 728.3,2319.5 728.9,2313.5 729.6,2319.9 730.2,2319.9 730.8,2337.7 731.4,2329.8 732,2329.4 732.6,2326.7 733.3,2341.9 733.9,2336.2 734.5,2342.7 735.1,2334.1 735.7,2336.3 736.3,2344.1 736.9,2342.2 737.6,2341.7 738.2,2342.7 738.8,2340.1 739.4,2343.9 740,2345.4 740.6,2344 741.2,2356.7 741.9,2347.3 742.5,2345.2 743.1,2336.9 743.7,2349.4 744.3,2340.3 744.9,2348.6 745.5,2352.1 746.2,2348.4 746.8,2347.8 747.4,2338.5 748,2344.6 748.6,2345 749.2,2361.3 749.9,2354.5 750.5,2346 751.1,2349.6 751.7,2357 752.3,2348.4 752.9,2356.2 753.5,2345 754.2,2344 754.8,2348.2 755.4,2353.3 756,2353.1 756.6,2356.9 757.2,2353.2 757.8,2351.6 758.5,2342.7 759.1,2345.7 759.7,2348.5 760.3,2345.2 760.9,2345 761.5,2348.3 762.2,2353.4 762.8,2344.5 763.4,2354.3 764,2350.2 764.6,2351.2 765.2,2343.9 765.8,2343.9 766.5,2340.1 767.1,2338.5 767.7,2348.3 768.3,2342.6 768.9,2343.9 769.5,2345 770.1,2339 770.8,2339.2 771.4,2338.1 772,2339.4 772.6,2337.7 773.2,2343.6 773.8,2337.9 774.5,2336.5 775.1,2335.4 775.7,2335 776.3,2334.2 776.9,2333 777.5,2332.3 778.1,2341.9 778.8,2337.9 779.4,2337.5 780,2339.3 780.6,2331.6 781.2,2335.5 781.8,2334.2 782.4,2330.7 783.1,2334.6 783.7,2342.6 784.3,2339.3 784.9,2340.4 785.5,2340.5 786.1,2341.4 786.7,2342.7 787.2,2339.6 787.5,2346.8 787.8,2342.7 788.1,2334.4 788.4,2342.7 788.7,2335.8 789.1,2340.1 789.4,2342.1 789.7,2336.9 790,2342.7 790.3,2346 790.6,2333.3 790.9,2338.9 791.2,2337.7 791.5,2332 791.8,2337.7 792.1,2340.9 792.4,2348.2 792.7,2342.5 793.1,2348.9 793.4,2343.3 793.7,2339.6 794,2340.7 794.3,2341 794.6,2344.2 794.9,2342.4 795.2,2338.5 795.5,2346.7 795.8,2342.7 796.1,2340.8 796.4,2343.6 796.7,2343.6 797,2336.9 797.4,2343.6 797.7,2342.9 798,2337.2 798.3,2337.1 798.6,2342.6 798.9,2344.6 799.2,2343.4 799.5,2341.7 799.8,2340.6 800.1,2336.8 800.4,2344.2 800.7,2347.3 801,2337.7 801.4,2337.3 801.7,2342.2 802,2340.3 802.3,2341.2 802.6,2341.7 802.9,2337.4 803.2,2340.6 803.5,2341.8 803.8,2346.4 804.1,2342.5 804.4,2339.8 804.7,2344.5 805,2344.5 805.4,2344.9 805.7,2342.7 806,2351.7 806.3,2342.9 806.6,2340.7 806.9,2347.7 807.2,2337.7 807.5,2343.5 807.8,2333.3 808.1,2333.2 808.4,2345.9 808.7,2341.7 809,2337 809.3,2345.2 809.7,2342.4 810,2341.7 810.3,2347.6 810.6,2342.6 810.9,2342.9 811.2,2339.3 811.5,2338.2 811.8,2339.6 812.1,2344.5 812.4,2347.7 812.7,2342.9 813,2343.9 813.3,2337.8 813.7,2343.4 814,2337.1 814.3,2339.5 814.6,2339.4 814.9,2342.7 815.2,2349.5 815.5,2341.6 815.8,2340.6 816.1,2344.5 816.4,2341.5 816.7,2338.5 817,2345.4 817.3,2346.8 817.6,2341.3 818,2340 818.3,2345.5 818.6,2333.3 818.9,2348.2 819.2,2345.8 819.5,2342.9 819.8,2340.9 820.1,2348.8 820.4,2337.1 820.7,2343.6 821,2342.1 821.3,2339.7 821.6,2341.2 822,2338 822.3,2339.5 822.6,2349.5 822.9,2347.9 823.2,2345.4 823.5,2343.5 823.8,2341.2 824.1,2348.1 824.4,2339.3 824.7,2339.1 825,2340.3 825.3,2348.2 825.6,2343.4 826,2347.3 826.3,2347.9 826.6,2339.9 826.9,2345 827.2,2337.2 827.5,2342 827.8,2344.9 828.1,2341.3 828.4,2347.4 828.7,2345.5 829,2345.1 829.3,2342.3 829.6,2347.8 829.9,2343.4 830.3,2339.9 830.6,2341.4 830.9,2342.2 831.2,2345.7 831.5,2344.3 831.8,2342.8 832.1,2341.2 832.4,2338 832.7,2345.1 833,2348.2 833.3,2352.2 833.6,2339.5 833.9,2340.2 834.3,2343.7 834.6,2341.9 834.9,2338.5 835.2,2340 835.5,2348.1 835.8,2346.7 836.1,2350.8 836.4,2342.8 836.7,2341.8 837,2347.2 837.3,2345.1 837.6,2342.7 837.9,2340.7 838.2,2342.4 838.6,2345.5 838.9,2342.9 839.2,2338.4 839.5,2343.7 839.8,2343.8 840.1,2335.1 840.4,2341 840.7,2344.7 841,2344.1 841.3,2340 841.6,2335.2 841.9,2348.9 842.2,2340.5 842.6,2343.4 842.9,2345.9 843.2,2337.6 843.5,2349.8 843.8,2346 844.1,2338 844.4,2345 844.7,2340.8 845,2340.9 845.3,2347.2 845.6,2346.5 845.9,2345.8 846.2,2341.9 846.6,2342.4 846.9,2342.2 847.2,2340.7 847.5,2344.3 847.8,2350.3 848.1,2345.7 848.4,2343.1 848.7,2348 849,2341.9 849.3,2343.5 849.6,2342.8 849.9,2341.4 850.2,2343.3 850.5,2338.5 850.9,2335.6 851.2,2342.5 851.5,2341.1 851.8,2350.3 852.1,2342.4 852.4,2342.7 852.7,2340.5 853,2345.4 853.3,2345.2 853.6,2340.9 853.9,2345.5 854.2,2344.9 854.5,2341.5 854.9,2340.8 855.2,2343.3 855.5,2342 855.8,2349.4 856.1,2344.4 856.4,2350.3 856.7,2344.9 857,2345.9 857.3,2347.3 857.6,2344 857.9,2342.3 858.2,2344.5 858.5,2345.4 858.8,2349.6 859.2,2349.6 859.5,2347 859.8,2345.3 860.1,2341 860.4,2343.2 860.7,2343.1 861,2344.5 861.3,2342.9 861.6,2350.3 861.9,2340.5 862.2,2342.5 862.5,2347.9 862.8,2348.7 863.2,2348.8 863.5,2341.2 863.8,2345.8 864.1,2343.3 864.4,2350 864.7,2342.8 865,2344.2 865.3,2345.6 865.6,2345.2 865.9,2342.5 866.2,2341.8 866.5,2346.7 866.8,2350.8 867.2,2336.6 867.5,2347.1 867.8,2344.2 868.1,2342.5 868.4,2343 868.7,2341.6 869,2339.3 869.3,2343.6 869.6,2344.9 869.9,2338.6 870.2,2335.5 870.5,2341.3 870.8,2343.1 871.1,2345.9 871.5,2339.9" fill="none" stroke="#7E2F8E" stroke-width="8.33" stroke-linejoin="round"/>
<path d="M871.5,2339.9h0" fill="none" stroke="#7E2F8E" stroke-width="8.33" stroke-linecap="round"/>
<path d="M515.3,2941.2 515.4,1744.3M545.2,1744.3 545.7,2569.9 546,2941.2M578,2941.2 578.3,2772.8 578.9,2443.1 579.5,2128.4 580.1,1802.9 580.3,1744.3M608.2,1744.3 608.4,1790.9 609,1874.8 609.7,1980.3 610.3,2047.5 610.9,2112.6 611.5,2206.9 612.1,2295.3 612.7,2381.8 613.3,2459.7 614,2566.4 614.6,2654.1 615.2,2753.4 615.8,2833.7 616.4,2907 616.8,2941.2M631.6,2941.2 631.8,2930.5 632.4,2879 633,2861.2 633.6,2831.4 634.2,2772.1 634.9,2754.8 635.5,2714.6 636.1,2685 636.7,2639 637.3,2609.9 637.9,2581.9 638.6,2529.4 639.2,2499.8 639.8,2467.9 640.4,2433 641,2402.4 641.6,2368.1 642.2,2337.2 642.9,2305.3 643.5,2282.9 644.1,2226.2 644.7,2213.8 645.3,2177.2 645.9,2142.7 646.5,2136.1 647.2,2130.1 647.5,2108.1 647.7,2103.6 647.9,2108.2 648,2085.9 648.2,2093.3 648.3,2081.5 648.5,2080.7 648.6,2073.1 648.8,2068.7 648.9,2054 649.1,2064.5 649.2,2078.1 649.4,2056.1 649.5,2061.9 649.7,2060.4 649.9,2076.5 650,2047.6 650.2,2038.5 650.3,2035.7 650.5,2043.7 650.6,2036.5 650.8,2028.7 650.9,2031.4 651.1,2007.5 651.2,2024.9 651.4,2014.5 651.5,2014.4 651.7,2007.7 651.9,2015.9 652,2015.4 652.2,2004.3 652.3,2007.6 652.5,1996.3 652.6,1998.3 652.8,2001.6 652.9,1994.3 653.1,2004.5 653.2,1992.8 653.4,1991.7 653.5,1997.1 653.7,1995.1 653.8,1975.3 654,1985.9 654.2,1990.3 654.3,1990.4 654.5,1982.4 654.6,1997.7 654.8,1982.3 654.9,1987.3 655.1,1988.2 655.2,1982.4 655.4,1998.8 655.5,2010.4 655.7,1994.4 655.8,2010.2 656,1997.9 656.2,1997.1 656.3,2002.1 656.5,1997.9 656.6,2004.6 656.8,2000.5 656.9,1998.5 657.1,2003.5 657.2,2003.3 657.4,2015.7 657.5,2000.5 657.7,2009.7 657.8,2016.9 658,2017.9 658.2,2018.9 658.3,2030.1 658.5,2017.7 658.6,2016.6 658.8,2015.7 658.9,2021.4 659.1,2023.7 659.2,2037.1 659.4,2031.3 659.5,2021.8 659.7,2037.5 659.8,2042.2 660,2043.2 660.2,2046 660.3,2024 660.5,2036.4 660.6,2050.4 660.8,2052.8 660.9,2051.7 661.1,2043.6 661.2,2051.5 661.4,2055.5 661.5,2060.2 661.7,2063.5 661.8,2074.9 662,2063.5 662.2,2069.9 662.3,2064.4 662.5,2075 662.6,2082.6 662.8,2092.2 662.9,2091.2 663.1,2081.8 663.2,2099.3 663.4,2093.1 663.5,2086 663.7,2099.7 663.8,2102.9 664,2101.2 664.1,2097.1 664.3,2103.1 664.5,2109.3 664.6,2103.7 664.8,2107 664.9,2114.9 665.1,2108.1 665.2,2118.9 665.4,2118.4 665.5,2131.9 665.7,2115.1 665.8,2125 666,2131.6 666.1,2128 666.3,2139.9 666.5,2138.5 666.6,2137.7 666.8,2137.8 666.9,2136.5 667.1,2143.5 667.2,2160.3 667.4,2165.5 667.5,2168.2 667.7,2164.6 667.8,2171.8 668,2159.5 668.1,2177.8 668.3,2161.9 668.5,2181.2 668.6,2178 668.8,2193 668.9,2176.9 669.1,2187.9 669.2,2186.8 669.4,2179.2 669.5,2190.7 669.7,2195.3 669.8,2201.6 670,2197.4 670.1,2208.7 670.3,2210.1 670.5,2217.2 670.6,2230 670.8,2234.5 670.9,2229 671.1,2229 671.2,2237.7 671.4,2241 671.5,2245.3 671.7,2233.3 671.8,2245.5 672,2256 672.1,2259.3 672.3,2253.5 672.5,2261.3 672.6,2265.7 672.8,2274.3 672.9,2266.7 673.1,2283.1 673.2,2264.3 673.4,2277.4 673.5,2282.2 673.7,2276.7 673.8,2285.6 674,2295.6 674.1,2288.2 674.3,2294.2 674.4,2295.3 674.6,2306 674.8,2300.2 674.9,2303.6 675.1,2306.2 675.2,2309.6 675.4,2311.6 675.5,2309.2 675.7,2314.8 675.8,2312.7 676,2333.4 676.1,2320.5 676.3,2323.4 676.4,2323.7 676.6,2337.7 676.8,2339.8 676.9,2340.5 677.1,2345.8 677.2,2341.5 677.4,2330.2 677.5,2347.8 677.7,2341.3 677.8,2342.7 678,2351.6 678.1,2351.1 678.3,2356.9 678.4,2356 678.6,2337.8 678.8,2346.2 678.9,2369.2 679.1,2361 679.2,2379 679.4,2363.9 679.5,2373.5 679.7,2365.8 679.8,2372.3 680,2365.9 680.1,2380.5 680.3,2381.4 680.4,2370.5 680.6,2371 680.8,2382.4 680.9,2379.5 681.1,2390.8 681.2,2392.5 681.4,2393.6 681.5,2374.7 681.7,2392.8 681.8,2397.6 682,2407.8 682.1,2385.5 682.3,2397.9 682.4,2397.4 682.6,2413.5 682.8,2397.4 682.9,2407.2 683.1,2411.1 683.2,2404.4 683.4,2400.2 683.5,2406.9 683.7,2413.9 683.8,2408.6 684,2420 684.1,2417 684.3,2425.6 684.4,2407.2 684.6,2421.6 684.7,2428.9 684.9,2418.7 685.1,2414.5 685.2,2428.8 685.4,2425.6 685.5,2425.8 685.7,2416.1 685.8,2428.4 686,2409.5 686.1,2421.7 686.3,2419.1 686.4,2432.4 686.6,2424.7 686.7,2432.8 686.9,2426 687.1,2433.9 687.2,2421.5 687.4,2432.2 687.5,2418.7 687.7,2433 687.8,2425 688,2420.9 688.1,2427.2 688.3,2424.1 688.4,2417.4 688.6,2425.9 688.7,2419.3 688.9,2437.2 689.1,2420.3 689.2,2415.1 689.4,2425.8 689.5,2431.7 689.7,2409.1 689.8,2430.7 690,2430.5 690.1,2421 690.3,2417.2 690.4,2410.8 690.6,2420.1 690.7,2416.7 690.9,2413.7 691.1,2413.5 691.2,2412.9 691.4,2415.1 691.5,2413.5 691.7,2412.2 691.8,2420.3 692,2413.8 692.1,2407.4 692.3,2420.4 692.4,2419.3 692.6,2411.2 692.7,2412.5 692.9,2402 693.1,2408 693.2,2408.5 693.4,2413.9 693.5,2416.8 693.7,2411.6 693.8,2402.9 694,2394.6 694.1,2393.4 694.3,2407 694.4,2403.2 694.6,2397.9 694.7,2400.7 694.9,2390.7 695,2392.4 695.2,2398.1 695.4,2386.5 695.5,2400.8 695.7,2391.5 695.8,2406.5 696,2387.6 696.1,2401.9 696.3,2387.2 696.4,2400.1 696.6,2379.8 696.7,2386.5 696.9,2392.2 697,2381.4 697.2,2388.5 697.4,2397.5 697.5,2380.7 697.7,2374.4 697.8,2380.9 698,2370.5 698.1,2373.8 698.3,2371 698.4,2372.2 698.6,2370.5 698.7,2377.7 698.9,2373 699,2367.5 699.2,2372.4 699.4,2370.1 699.5,2376 699.7,2363.2 699.8,2360 700,2375 700.1,2372 700.3,2352.3 700.4,2369.8 700.6,2356.8 700.7,2358.4 700.9,2348.3 701,2359.4 701.2,2360.6 701.4,2365.4 701.5,2357.1 701.7,2350.1 701.8,2356.9 702,2349.2 702.1,2350.3 702.3,2347.1 702.4,2363.9 702.6,2362.9 702.7,2344.3 702.9,2356.9 703,2349 703.2,2352 703.4,2349.8 703.5,2341.8 703.7,2343.4 703.8,2345.2 704,2341.2 704.1,2352.9 704.3,2355.1 704.4,2342.5 704.6,2338.2 704.7,2352.5 704.9,2343.5 705,2333.6 705.2,2336 705.3,2337.4 705.5,2336.7 705.7,2348.2 705.8,2339.8 706,2336.5 706.1,2338 706.3,2344.9 706.4,2346 706.6,2333.6 706.7,2331.9 706.9,2336.4 707,2329.7 707.2,2342.1 707.3,2328 707.5,2328 707.7,2321.1 707.8,2335.6 708,2331.4 708.1,2328.1 708.3,2337.4 708.4,2336.9 708.6,2330.4 708.7,2324.4 708.9,2340.5 709,2334.8 709.2,2329.1 709.3,2340.6 709.5,2333.7 709.7,2327.6 709.8,2328.1 710,2325.7 710.1,2326.2 710.3,2315.9 710.4,2328.6 710.6,2324 710.7,2317.9 710.9,2320.5 711,2326.1 711.2,2321.2 711.3,2314.4 711.5,2317.4 711.7,2316.4 711.8,2324.8 712,2317.2 712.1,2318.8 712.3,2310.1 712.4,2319.8 712.6,2316.8 712.7,2328.8 712.9,2316 713,2313.5 713.2,2318.5 713.3,2322.9 713.5,2316.7 713.7,2318.7 713.8,2309.3 714,2320.9 714.1,2315.4 714.3,2308.6 714.4,2314.8 714.6,2318.5 714.7,2316.3 714.9,2314.9 715,2313.1 715.2,2314 715.3,2304.6 715.5,2302.2 715.6,2319.2 715.8,2308.3 716,2302.5 716.1,2313.7 716.3,2303.5 716.4,2314.2 716.6,2307.9 716.7,2312.8 716.9,2309.1 717,2312.6 717.2,2303.6 717.3,2308.8 717.5,2305.3 717.6,2298.5 717.8,2303.9 718,2316.1 718.1,2311.5 718.3,2299.8 718.4,2306.1 718.6,2308.5 718.7,2310.6 718.9,2303.1 719,2308.7 719.2,2309.3 719.3,2311.3 719.5,2309 719.6,2319.6 719.8,2297.9 720,2316.6 720.1,2313.1 720.3,2317.5 720.4,2307.6 720.6,2308.7 720.7,2305.5 720.9,2313.4 721,2301.5 721.2,2311.9 721.3,2316.3 721.5,2305.4 721.6,2306.4 721.8,2303.8 722,2305.3 722.1,2312.6 722.3,2306.3 722.4,2316.4 722.6,2318.4 722.7,2301 722.9,2319.8 723,2299.2 723.2,2308.5 723.3,2314.8 723.5,2322.1 723.6,2312.1 723.8,2316.6 724,2320.6 724.1,2313.1 724.3,2319.1 724.4,2323.5 724.6,2322.3 724.7,2317.4 724.9,2315 725,2322.6 725.2,2324.4 725.3,2312.9 725.5,2308.9 725.6,2321.7 725.8,2310.8 725.9,2322.7 726.1,2307.5 726.3,2320.3 726.4,2313.8 726.6,2323.6 726.7,2316.5 726.9,2318.5 727,2323.4 727.2,2320.1 727.3,2327.2 727.5,2321.5 727.6,2317.3 727.8,2328.3 727.9,2316 728.1,2333.3 728.3,2321.5 728.4,2321.5 728.6,2318.7 728.7,2316 728.9,2324.2 729,2326.6 729.2,2326.1 729.3,2318.4 729.5,2334 729.6,2330.1 729.8,2330.9 729.9,2327.2 730.1,2334.1 730.3,2331.3 730.4,2328.1 730.6,2325 730.7,2332.5 730.9,2321.9 731,2334 731.2,2322.2 731.3,2325.6 731.5,2332.9 731.6,2330.7 731.8,2331.8 731.9,2324.2 732.1,2339.2 732.3,2327.3 732.4,2337.2 732.6,2342.8 732.7,2343.7 732.9,2332.4 733,2334.5 733.2,2331.4 733.3,2325.4 733.5,2338.3 733.6,2339.1 733.8,2345.1 733.9,2331.3 734.1,2336.8 734.3,2357 734.4,2338.2 734.6,2336.3 734.7,2341.6 734.9,2331.7 735,2341.8 735.2,2344.5 735.3,2351.6 735.5,2346.3 735.6,2337.7 735.8,2344.6 735.9,2345.8 736.1,2347.1 736.2,2335.2 736.4,2344 736.6,2340.9 736.7,2336.7 736.9,2344.4 737,2337.3 737.2,2345.6 737.3,2345 737.5,2344.3 737.6,2338.9 737.8,2337 737.9,2348.7 738.1,2346.7 738.2,2337.8 738.4,2344 738.6,2348 738.7,2338 738.9,2346.4 739,2340.6 739.2,2342.9 739.3,2350.5 739.5,2348.8 739.6,2349.1 739.8,2342.1 739.9,2343.8 740.1,2348.4 740.2,2350.2 740.4,2347.6 740.6,2344.4 740.7,2338.8 740.9,2352.6 741,2350 741.2,2344.9 741.3,2346.2 741.5,2352.5 741.6,2338 741.8,2340.6 741.9,2349.8 742.1,2344.4 742.2,2346 742.4,2347.8 742.6,2345.1 742.7,2338 742.9,2347.1 743,2341.3 743.2,2343.1 743.3,2351.2 743.5,2339.4 743.6,2340.5 743.8,2345.9 743.9,2349.6 744.1,2353 744.2,2347.4 744.4,2348.3 744.6,2341.4 744.7,2352.8 744.9,2346.3 745,2351.1 745.2,2351.6 745.3,2351.3 745.5,2345.5 745.6,2347.5 745.8,2351.2 745.9,2348.1 746.1,2352.7 746.2,2351.5 746.4,2348.4 746.5,2352.8 746.7,2354.6 746.9,2342.8 747,2348.7 747.2,2349.6 747.3,2349.9 747.5,2351.9 747.6,2351.3 747.8,2339.1 747.9,2347.1 748.1,2353.4 748.2,2341.6 748.4,2353.2 748.5,2344.4 748.7,2352.2 748.9,2348.7 749,2350 749.2,2349.4 749.3,2350.2 749.5,2352.2 749.6,2349.3 749.8,2343 749.9,2352.2 750.1,2356.2 750.2,2357.7 750.4,2355.8 750.5,2359.4 750.7,2360.8 750.9,2348 751,2347.7 751.2,2349.1 751.3,2357.2 751.5,2350.9 751.6,2349.9 751.8,2349.9 751.9,2345.7 752.1,2348 752.2,2349.8 752.4,2345.2 752.5,2347.4 752.7,2347.4 752.9,2348.3 753,2352.2 753.2,2342.4 753.3,2349.9 753.5,2356.6 753.6,2349.1 753.8,2348.7 753.9,2340.2 754.1,2352.1 754.2,2348.4 754.4,2346.2 754.5,2347.7 754.7,2346.2 754.9,2348.6 755,2346.1 755.2,2359.2 755.3,2342.7 755.5,2349.2 755.6,2352.8 755.8,2344.3 755.9,2349.2 756.1,2355 756.2,2348.8 756.4,2346.5 756.5,2355.4 756.7,2355.4 756.8,2347.5 757,2352.8 757.2,2347.7 757.3,2353.7 757.5,2351.7 757.6,2352.6 757.8,2347 757.9,2349.2 758.1,2351.9 758.2,2339.4 758.4,2347.2 758.5,2351.3 758.7,2350.7 758.8,2352.2 759,2342.5 759.2,2353.5 759.3,2349 759.5,2342.4 759.6,2351.9 759.8,2352.8 759.9,2345.9 760.1,2342.1 760.2,2351.6 760.4,2349.4 760.5,2344.4 760.7,2347 760.8,2347.6 761,2349.1 761.2,2344.7 761.3,2355 761.5,2335.2 761.6,2350.4 761.8,2341.6 761.9,2350 762.1,2343.1 762.2,2349.6 762.4,2340.2 762.5,2340.8 762.7,2347.5 762.8,2342.8 763,2348.5 763.2,2342.2 763.3,2341.1 763.5,2350.1 763.6,2351.9 763.8,2342.2 763.9,2351 764.1,2350.4 764.2,2348.2 764.4,2347.5 764.5,2342.3 764.7,2339.6 764.8,2342.1 765,2345 765.2,2343.6 765.3,2345.1 765.5,2343.5 765.6,2345.1 765.8,2338.2 765.9,2348.4 766.1,2337.4 766.2,2338.7 766.4,2353 766.5,2336.6 766.7,2342.4 766.8,2340.3 767,2346.8 767.1,2337.9 767.3,2332.9 767.5,2339 767.6,2334.1 767.8,2344.5 767.9,2343 768.1,2351.8 768.2,2340.8 768.4,2346.7 768.5,2347.1 768.7,2342.3 768.8,2342.5 769,2350 769.1,2344.9 769.3,2343.4 769.5,2332.5 769.6,2337.2 769.8,2341.7 769.9,2338.5 770.1,2345.4 770.2,2342.2 770.4,2342.7 770.5,2335.3 770.7,2343.9 770.8,2347.3 771,2336.8 771.1,2341.1 771.3,2336.9 771.5,2343.2 771.6,2344.9 771.8,2342.2 771.9,2334.1 772.1,2335.6 772.2,2346.4 772.4,2334.7 772.5,2336.1 772.7,2338.5 772.8,2337.7 773,2339.8 773.1,2335.5 773.3,2340.1 773.5,2341 773.6,2337 773.8,2339.5 773.9,2347.3 774.1,2344.6 774.2,2340.1 774.4,2329 774.5,2337.9 774.7,2336.1 774.8,2343 775,2333.4 775.1,2334.4 775.3,2338.4 775.5,2344.9 775.6,2348.4 775.8,2339.7 775.9,2339.5 776.1,2340.1 776.2,2344.8 776.4,2332.1 776.5,2326.1 776.7,2340.7 776.8,2339.9 777,2343.5 777.1,2343.5 777.3,2346.2 777.4,2338.9 777.6,2335.8 777.8,2338.7 777.9,2340.8 778.1,2340.2 778.2,2336.2 778.4,2337.4 778.5,2336 778.7,2339.1 778.8,2339.4 779,2335.7 779.1,2337.9 779.3,2337.7 779.4,2343.8 779.6,2333.6 779.8,2341 779.9,2328.6 780.1,2339.8 780.2,2340.1 780.4,2339.9 780.5,2334.1 780.7,2338.8 780.8,2340.7 781,2336.3 781.1,2333.8 781.3,2331.8 781.4,2331.6 781.6,2337.9 781.8,2340.6 781.9,2332.9 782.1,2338.8 782.2,2341.7 782.4,2340.1 782.5,2338 782.7,2333.3 782.8,2330.5 783,2338 783.1,2335.1 783.3,2331 783.4,2343.2 783.6,2341.7 783.8,2336.8 783.9,2340.7 784.1,2335.9 784.2,2341.3 784.4,2339 784.5,2336.5 784.7,2331.3 784.8,2338.1 785,2335.3 785.1,2339.1 785.3,2331.3 785.4,2340.3 785.6,2335.7 785.8,2335.5 785.9,2341 786.1,2342.1 786.2,2338.3 786.4,2335.6 786.5,2330.2 786.7,2341.7 786.8,2337.6 787,2337.1" fill="none" stroke="#77AC30" stroke-width="8.33" stroke-linejoin="round"/>
<path d="M787,2337.1h0" fill="none" stroke="#77AC30" stroke-width="8.33" stroke-linecap="round"/>
<path d="M515.3,2941.2 515.4,1744.3M545.2,1744.3 545.7,2564.7 546,2941.2M578,2941.2 578.3,2758.6 578.9,2429.3 579.5,2114.9 580.1,1811.5 580.3,1744.3M608.1,1744.3 608.4,1788.1 609,1897 609.7,1975.6 610.3,2049.8 610.9,2145.1 611.5,2211.3 612.1,2299.2 612.7,2373.5 613.3,2476 614,2569.4 614.6,2665.8 615.2,2746.2 615.8,2836.1 616.4,2889.1 616.9,2941.2M633.1,2941.2 633.6,2925.8 634.2,2888.9 634.9,2851.1 635.5,2816.8 636.1,2801.5 636.7,2750.8 637.3,2720.9 637.9,2677.1 638.6,2642.6 639.2,2597.5 639.8,2567.6 640.4,2533.6 641,2499.6 641.6,2457.6 642.2,2428.3 642.9,2380.8 643.5,2357.2 644.1,2316.6 644.7,2288.2 645.3,2261.8 645.9,2213.6 646.5,2192.2 647.2,2167 648.4,2141.9" fill="none" stroke="#4DBEEE" stroke-width="8.33" stroke-linejoin="round"/>
<path d="M648.4,2141.9h0" fill="none" stroke="#4DBEEE" stroke-width="8.33" stroke-linecap="round"/>
<text x="455" y="3041.6" font-size="91.67" text-anchor="middle">0</text>
<text x="762.5" y="3041.6" font-size="91.67" text-anchor="middle">5</text>
<text x="1069.9" y="3041.6" font-size="91.67" text-anchor="middle">10</text>
<text x="1377.4" y="3041.6" font-size="91.67" text-anchor="middle">15</text>
<text x="1684.8" y="3041.6" font-size="91.67" text-anchor="middle">20</text>
<text x="1992.3" y="3041.6" font-size="91.67" text-anchor="middle">25</text>
<text x="429.4" y="2962.8" font-size="91.67" text-anchor="end">0.995</text>
<text x="429.4" y="2364.3" font-size="91.67" text-anchor="end">1</text>
<text x="429.4" y="1765.9" font-size="91.67" text-anchor="end">1.005</text>
<rect x="1517.4" y="1781.7" width="437.4" height="453.8" fill="#fff" stroke="#262626" stroke-width="5.83"/>
<path d="M1532.1,1824.5H1644.6" stroke="#0072BD" stroke-width="8.33"/>
<text class="k"><tspan class="i" x="1658.42" y="1839.1" font-size="62.77" textLength="46.92" lengthAdjust="spacingAndGlyphs">N</tspan> <tspan x="1725.92" y="1843.14" font-size="57.2" textLength="48.48" lengthAdjust="spacingAndGlyphs">=</tspan> <tspan x="1789.4" y="1840.1" font-size="61.8" textLength="150.64" lengthAdjust="spacingAndGlyphs">30000</tspan></text>
<path d="M1532.1,1898.1H1644.6" stroke="#D95319" stroke-width="8.33"/>
<text class="k"><tspan class="i" x="1658.42" y="1912.73" font-size="62.77" textLength="46.92" lengthAdjust="spacingAndGlyphs">N</tspan> <tspan x="1725.92" y="1916.77" font-size="57.2" textLength="48.48" lengthAdjust="spacingAndGlyphs">=</tspan> <tspan x="1789.4" y="1913.73" font-size="61.8" textLength="150.64" lengthAdjust="spacingAndGlyphs">10000</tspan></text>
<path d="M1532.1,1971.8H1644.6" stroke="#EDB120" stroke-width="8.33"/>
<text class="k"><tspan class="i" x="1658.42" y="1986.36" font-size="62.77" textLength="46.92" lengthAdjust="spacingAndGlyphs">N</tspan> <tspan x="1725.92" y="1990.4" font-size="57.2" textLength="48.48" lengthAdjust="spacingAndGlyphs">=</tspan> <tspan x="1789.4" y="1987.36" font-size="61.8" textLength="120.51" lengthAdjust="spacingAndGlyphs">5000</tspan></text>
<path d="M1532.1,2045.4H1644.6" stroke="#7E2F8E" stroke-width="8.33"/>
<text class="k"><tspan class="i" x="1658.42" y="2059.99" font-size="62.77" textLength="46.92" lengthAdjust="spacingAndGlyphs">N</tspan> <tspan x="1725.92" y="2064.03" font-size="57.2" textLength="48.48" lengthAdjust="spacingAndGlyphs">=</tspan> <tspan x="1789.4" y="2060.99" font-size="61.8" textLength="120.51" lengthAdjust="spacingAndGlyphs">1000</tspan></text>
<path d="M1532.1,2119H1644.6" stroke="#77AC30" stroke-width="8.33"/>
<text class="k"><tspan class="i" x="1658.42" y="2133.62" font-size="62.77" textLength="46.92" lengthAdjust="spacingAndGlyphs">N</tspan> <tspan x="1725.92" y="2137.66" font-size="57.2" textLength="48.48" lengthAdjust="spacingAndGlyphs">=</tspan> <tspan x="1789.4" y="2134.62" font-size="61.8" textLength="90.38" lengthAdjust="spacingAndGlyphs">500</tspan></text>
<path d="M1532.1,2192.7H1644.6" stroke="#4DBEEE" stroke-width="8.33"/>
<text class="k"><tspan class="i" x="1658.42" y="2207.25" font-size="62.77" textLength="46.92" lengthAdjust="spacingAndGlyphs">N</tspan> <tspan x="1725.92" y="2211.29" font-size="57.2" textLength="48.48" lengthAdjust="spacingAndGlyphs">=</tspan> <tspan x="1789.4" y="2208.25" font-size="61.8" textLength="90.38" lengthAdjust="spacingAndGlyphs">100</tspan></text>
<text transform="rotate(-90)"><tspan class="i" x="-2429.05" y="179.14" font-size="91.87" textLength="48.06" lengthAdjust="spacingAndGlyphs">g</tspan><tspan x="-2374.22" y="180.23" font-size="107.42" textLength="29.69" lengthAdjust="spacingAndGlyphs">(</tspan><tspan class="i" x="-2343.18" y="180" font-size="93.59" textLength="43.95" lengthAdjust="spacingAndGlyphs">r</tspan><tspan x="-2291.07" y="180.23" font-size="107.42" textLength="29.69" lengthAdjust="spacingAndGlyphs">)</tspan></text>
<text><tspan class="i" x="1199.11" y="3162.8" font-size="93.8" textLength="44.06" lengthAdjust="spacingAndGlyphs">r</tspan></text>
<text class="k"><tspan x="10.85" y="1686.41" font-size="76.98" textLength="23.86" lengthAdjust="spacingAndGlyphs">(</tspan><tspan class="b" x="34.76" y="1687.24" font-size="78.17" textLength="45.45" lengthAdjust="spacingAndGlyphs">b</tspan><tspan x="81.38" y="1686.41" font-size="76.98" textLength="22.95" lengthAdjust="spacingAndGlyphs">)</tspan></text>
<rect x="96.1" y="1677.7" width="12" height="30" fill="#fff"/>
</svg></body></html>
